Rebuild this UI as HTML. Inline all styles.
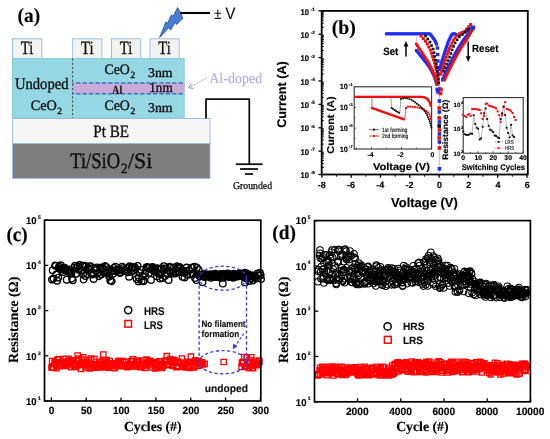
<!DOCTYPE html><html><head><meta charset="utf-8"><style>
html,body{margin:0;padding:0;background:#fff;width:550px;height:439px;overflow:hidden}
svg{display:block;will-change:transform}
.r{font-family:'Liberation Serif',serif}.rb{font-family:'Liberation Serif',serif;font-weight:bold}.s{font-family:'Liberation Sans',sans-serif}.sb{font-family:'Liberation Sans',sans-serif;font-weight:bold}
</style></head><body>
<svg width="550" height="439" viewBox="0 0 550 439" text-rendering="geometricPrecision">
<rect width="550" height="439" fill="#fff"/>
<text class="rb" transform="translate(17.60,22.20) scale(0.970,1)" font-size="20" fill="#000" stroke="#000" stroke-width="0.15" >(a)</text>
<rect x="12.5" y="38.8" width="29.2" height="20" fill="#f3f3f3" stroke="#9dbfe6" stroke-width="1"/>
<text class="r" transform="translate(20.86,53.80) scale(0.780,1)" font-size="18.7" fill="#1a1208" stroke="#1a1208" stroke-width="0.35" >Ti</text>
<rect x="72.7" y="38.8" width="29.2" height="20" fill="#f3f3f3" stroke="#9dbfe6" stroke-width="1"/>
<text class="r" transform="translate(81.06,53.80) scale(0.780,1)" font-size="18.7" fill="#1a1208" stroke="#1a1208" stroke-width="0.35" >Ti</text>
<rect x="111.5" y="38.8" width="29.2" height="20" fill="#f3f3f3" stroke="#9dbfe6" stroke-width="1"/>
<text class="r" transform="translate(119.86,53.80) scale(0.780,1)" font-size="18.7" fill="#1a1208" stroke="#1a1208" stroke-width="0.35" >Ti</text>
<rect x="150.0" y="38.8" width="29.2" height="20" fill="#f3f3f3" stroke="#9dbfe6" stroke-width="1"/>
<text class="r" transform="translate(158.36,53.80) scale(0.780,1)" font-size="18.7" fill="#1a1208" stroke="#1a1208" stroke-width="0.35" >Ti</text>
<rect x="12" y="58.2" width="172.5" height="60.2" fill="#95d7e2"/>
<rect x="12.3" y="58.5" width="171.9" height="59.6" fill="none" stroke="#7ec6d6" stroke-width="0.6"/>
<rect x="72.5" y="83.2" width="112" height="10.2" fill="#c8aadb"/>
<line x1="72.5" y1="82.9" x2="184.5" y2="82.9" stroke="#3f74c4" stroke-width="1.5" stroke-dasharray="4.4,2" stroke-dashoffset="2.8"/>
<line x1="72.5" y1="93.8" x2="184.5" y2="93.8" stroke="#3f74c4" stroke-width="1.5" stroke-dasharray="4.4,2" stroke-dashoffset="2.8"/>
<line x1="72.6" y1="58.5" x2="72.6" y2="118" stroke="#2a3a40" stroke-width="0.9" stroke-dasharray="2.2,2"/>
<text class="r" transform="translate(14.90,88.80) scale(0.914,1)" font-size="16" fill="#101010" stroke="#101010" stroke-width="0.35" >Undoped</text>
<text class="r" transform="translate(30.70,109.70) scale(0.998,1)" font-size="14.3" fill="#101010" stroke="#101010" stroke-width="0.35" >CeO</text>
<text class="r" transform="translate(57.30,113.80) scale(1.000,1)" font-size="9.5" fill="#101010" stroke="#101010" stroke-width="0.35" >2</text>
<text class="r" transform="translate(104.40,73.60) scale(0.968,1)" font-size="14.3" fill="#101010" stroke="#101010" stroke-width="0.35" >CeO</text>
<text class="r" transform="translate(130.60,77.90) scale(1.000,1)" font-size="9.5" fill="#101010" stroke="#101010" stroke-width="0.35" >2</text>
<text class="r" transform="translate(104.40,109.60) scale(0.968,1)" font-size="14.3" fill="#101010" stroke="#101010" stroke-width="0.35" >CeO</text>
<text class="r" transform="translate(130.60,114.00) scale(1.000,1)" font-size="9.5" fill="#101010" stroke="#101010" stroke-width="0.35" >2</text>
<text class="r" transform="translate(148.00,77.00) scale(1.043,1)" font-size="13.3" fill="#101010" stroke="#101010" stroke-width="0.35" >3nm</text>
<text class="r" transform="translate(149.30,91.80) scale(0.939,1)" font-size="14.0" fill="#101010" stroke="#101010" stroke-width="0.35" >1nm</text>
<text class="r" transform="translate(148.00,112.30) scale(1.043,1)" font-size="13.3" fill="#101010" stroke="#101010" stroke-width="0.35" >3nm</text>
<text class="rb" transform="translate(112.00,93.60) scale(0.837,1)" font-size="12.3" fill="#1a1410" stroke="#1a1410" stroke-width="0.15" >Al</text>
<rect x="12.5" y="118.5" width="197.5" height="25" fill="#f6f6f6" stroke="#9dbfe6" stroke-width="1"/>
<text class="r" transform="translate(93.30,136.50) scale(0.872,1)" font-size="17.4" fill="#101010" stroke="#101010" stroke-width="0.35" >Pt BE</text>
<rect x="12.5" y="143.5" width="197.5" height="35" fill="#7e7e7e" stroke="#9dbfe6" stroke-width="1"/>
<text class="r" transform="translate(70.20,168.30) scale(0.839,1)" font-size="22.2" fill="#0d0d0d" stroke="#0d0d0d" stroke-width="0.35" >Ti/SiO</text>
<text class="r" transform="translate(121.10,172.60) scale(0.943,1)" font-size="14" fill="#0d0d0d" stroke="#0d0d0d" stroke-width="0.35" >2</text>
<text class="r" transform="translate(128.00,168.30) scale(0.982,1)" font-size="22.2" fill="#0d0d0d" stroke="#0d0d0d" stroke-width="0.35" >/Si</text>
<polyline points="206,118.5 206,99.2 249.3,99.2 249.3,164" fill="none" stroke="#111" stroke-width="1.8" stroke-linejoin="round"/>
<line x1="235.8" y1="164.2" x2="262.6" y2="164.2" stroke="#111" stroke-width="1.8"/>
<line x1="240.1" y1="169" x2="258" y2="169" stroke="#111" stroke-width="1.8"/>
<line x1="244.9" y1="174" x2="253" y2="174" stroke="#111" stroke-width="1.8"/>
<text class="r" transform="translate(233.00,189.10) scale(0.949,1)" font-size="10.3" fill="#222" stroke="#222" stroke-width="0.35" >Grounded</text>
<polygon points="159.64,37.40 165.96,21.97 167.65,23.24 171.44,14.80 173.13,16.49 177.60,7.64 180.30,12.27 182.82,18.60 176.50,24.50 175.24,21.97 170.60,29.98 168.91,27.45" fill="#4580d4" stroke="#1f4f96" stroke-width="0.9" stroke-linejoin="miter"/>
<line x1="180" y1="13" x2="210" y2="13" stroke="#000" stroke-width="2.1"/>
<text class="s" transform="translate(214.20,19.30) scale(0.833,1)" font-size="15.5" fill="#111" stroke="#111" stroke-width="0.2" >±</text>
<text class="s" transform="translate(225.40,19.30) scale(0.910,1)" font-size="16.2" fill="#111" stroke="#111" stroke-width="0.2" >V</text>
<text class="r" transform="translate(209.20,83.00) scale(0.963,1)" font-size="14.6" fill="#b6a8dc" stroke="#b6a8dc" stroke-width="0.1" >Al-doped</text>
<line x1="206.3" y1="78.1" x2="189.5" y2="87.5" stroke="#8a8a8a" stroke-width="0.9" stroke-dasharray="1.8,1.4"/>
<polyline points="191.3,83.6 188.6,87.9 193.6,88.3" fill="none" stroke="#8a8a8a" stroke-width="0.9"/>
<line x1="318.50" y1="10.90" x2="321.70" y2="10.90" stroke="#000" stroke-width="1.3" />
<line x1="321.70" y1="27.23" x2="323.90" y2="27.23" stroke="#000" stroke-width="0.9" />
<line x1="321.70" y1="23.12" x2="323.90" y2="23.12" stroke="#000" stroke-width="0.9" />
<line x1="321.70" y1="20.20" x2="323.90" y2="20.20" stroke="#000" stroke-width="0.9" />
<line x1="321.70" y1="17.94" x2="323.90" y2="17.94" stroke="#000" stroke-width="0.9" />
<line x1="321.70" y1="16.08" x2="323.90" y2="16.08" stroke="#000" stroke-width="0.9" />
<line x1="321.70" y1="14.52" x2="323.90" y2="14.52" stroke="#000" stroke-width="0.9" />
<line x1="321.70" y1="13.16" x2="323.90" y2="13.16" stroke="#000" stroke-width="0.9" />
<line x1="321.70" y1="11.97" x2="323.90" y2="11.97" stroke="#000" stroke-width="0.9" />
<line x1="318.50" y1="34.27" x2="321.70" y2="34.27" stroke="#000" stroke-width="1.3" />
<line x1="321.70" y1="50.60" x2="323.90" y2="50.60" stroke="#000" stroke-width="0.9" />
<line x1="321.70" y1="46.49" x2="323.90" y2="46.49" stroke="#000" stroke-width="0.9" />
<line x1="321.70" y1="43.57" x2="323.90" y2="43.57" stroke="#000" stroke-width="0.9" />
<line x1="321.70" y1="41.31" x2="323.90" y2="41.31" stroke="#000" stroke-width="0.9" />
<line x1="321.70" y1="39.45" x2="323.90" y2="39.45" stroke="#000" stroke-width="0.9" />
<line x1="321.70" y1="37.89" x2="323.90" y2="37.89" stroke="#000" stroke-width="0.9" />
<line x1="321.70" y1="36.53" x2="323.90" y2="36.53" stroke="#000" stroke-width="0.9" />
<line x1="321.70" y1="35.34" x2="323.90" y2="35.34" stroke="#000" stroke-width="0.9" />
<line x1="318.50" y1="57.64" x2="321.70" y2="57.64" stroke="#000" stroke-width="1.3" />
<line x1="321.70" y1="73.97" x2="323.90" y2="73.97" stroke="#000" stroke-width="0.9" />
<line x1="321.70" y1="69.86" x2="323.90" y2="69.86" stroke="#000" stroke-width="0.9" />
<line x1="321.70" y1="66.94" x2="323.90" y2="66.94" stroke="#000" stroke-width="0.9" />
<line x1="321.70" y1="64.68" x2="323.90" y2="64.68" stroke="#000" stroke-width="0.9" />
<line x1="321.70" y1="62.82" x2="323.90" y2="62.82" stroke="#000" stroke-width="0.9" />
<line x1="321.70" y1="61.26" x2="323.90" y2="61.26" stroke="#000" stroke-width="0.9" />
<line x1="321.70" y1="59.90" x2="323.90" y2="59.90" stroke="#000" stroke-width="0.9" />
<line x1="321.70" y1="58.71" x2="323.90" y2="58.71" stroke="#000" stroke-width="0.9" />
<line x1="318.50" y1="81.01" x2="321.70" y2="81.01" stroke="#000" stroke-width="1.3" />
<line x1="321.70" y1="97.34" x2="323.90" y2="97.34" stroke="#000" stroke-width="0.9" />
<line x1="321.70" y1="93.23" x2="323.90" y2="93.23" stroke="#000" stroke-width="0.9" />
<line x1="321.70" y1="90.31" x2="323.90" y2="90.31" stroke="#000" stroke-width="0.9" />
<line x1="321.70" y1="88.05" x2="323.90" y2="88.05" stroke="#000" stroke-width="0.9" />
<line x1="321.70" y1="86.19" x2="323.90" y2="86.19" stroke="#000" stroke-width="0.9" />
<line x1="321.70" y1="84.63" x2="323.90" y2="84.63" stroke="#000" stroke-width="0.9" />
<line x1="321.70" y1="83.27" x2="323.90" y2="83.27" stroke="#000" stroke-width="0.9" />
<line x1="321.70" y1="82.08" x2="323.90" y2="82.08" stroke="#000" stroke-width="0.9" />
<line x1="318.50" y1="104.38" x2="321.70" y2="104.38" stroke="#000" stroke-width="1.3" />
<line x1="321.70" y1="120.71" x2="323.90" y2="120.71" stroke="#000" stroke-width="0.9" />
<line x1="321.70" y1="116.60" x2="323.90" y2="116.60" stroke="#000" stroke-width="0.9" />
<line x1="321.70" y1="113.68" x2="323.90" y2="113.68" stroke="#000" stroke-width="0.9" />
<line x1="321.70" y1="111.42" x2="323.90" y2="111.42" stroke="#000" stroke-width="0.9" />
<line x1="321.70" y1="109.56" x2="323.90" y2="109.56" stroke="#000" stroke-width="0.9" />
<line x1="321.70" y1="108.00" x2="323.90" y2="108.00" stroke="#000" stroke-width="0.9" />
<line x1="321.70" y1="106.64" x2="323.90" y2="106.64" stroke="#000" stroke-width="0.9" />
<line x1="321.70" y1="105.45" x2="323.90" y2="105.45" stroke="#000" stroke-width="0.9" />
<line x1="318.50" y1="127.75" x2="321.70" y2="127.75" stroke="#000" stroke-width="1.3" />
<line x1="321.70" y1="144.08" x2="323.90" y2="144.08" stroke="#000" stroke-width="0.9" />
<line x1="321.70" y1="139.97" x2="323.90" y2="139.97" stroke="#000" stroke-width="0.9" />
<line x1="321.70" y1="137.05" x2="323.90" y2="137.05" stroke="#000" stroke-width="0.9" />
<line x1="321.70" y1="134.79" x2="323.90" y2="134.79" stroke="#000" stroke-width="0.9" />
<line x1="321.70" y1="132.93" x2="323.90" y2="132.93" stroke="#000" stroke-width="0.9" />
<line x1="321.70" y1="131.37" x2="323.90" y2="131.37" stroke="#000" stroke-width="0.9" />
<line x1="321.70" y1="130.01" x2="323.90" y2="130.01" stroke="#000" stroke-width="0.9" />
<line x1="321.70" y1="128.82" x2="323.90" y2="128.82" stroke="#000" stroke-width="0.9" />
<line x1="318.50" y1="151.12" x2="321.70" y2="151.12" stroke="#000" stroke-width="1.3" />
<line x1="321.70" y1="167.45" x2="323.90" y2="167.45" stroke="#000" stroke-width="0.9" />
<line x1="321.70" y1="163.34" x2="323.90" y2="163.34" stroke="#000" stroke-width="0.9" />
<line x1="321.70" y1="160.42" x2="323.90" y2="160.42" stroke="#000" stroke-width="0.9" />
<line x1="321.70" y1="158.16" x2="323.90" y2="158.16" stroke="#000" stroke-width="0.9" />
<line x1="321.70" y1="156.30" x2="323.90" y2="156.30" stroke="#000" stroke-width="0.9" />
<line x1="321.70" y1="154.74" x2="323.90" y2="154.74" stroke="#000" stroke-width="0.9" />
<line x1="321.70" y1="153.38" x2="323.90" y2="153.38" stroke="#000" stroke-width="0.9" />
<line x1="321.70" y1="152.19" x2="323.90" y2="152.19" stroke="#000" stroke-width="0.9" />
<line x1="318.50" y1="174.49" x2="321.70" y2="174.49" stroke="#000" stroke-width="1.3" />
<line x1="321.90" y1="174.50" x2="321.90" y2="177.70" stroke="#000" stroke-width="1.3" />
<line x1="336.55" y1="174.50" x2="336.55" y2="176.70" stroke="#000" stroke-width="1.0" />
<line x1="351.20" y1="174.50" x2="351.20" y2="177.70" stroke="#000" stroke-width="1.3" />
<line x1="365.85" y1="174.50" x2="365.85" y2="176.70" stroke="#000" stroke-width="1.0" />
<line x1="380.50" y1="174.50" x2="380.50" y2="177.70" stroke="#000" stroke-width="1.3" />
<line x1="395.15" y1="174.50" x2="395.15" y2="176.70" stroke="#000" stroke-width="1.0" />
<line x1="409.80" y1="174.50" x2="409.80" y2="177.70" stroke="#000" stroke-width="1.3" />
<line x1="424.45" y1="174.50" x2="424.45" y2="176.70" stroke="#000" stroke-width="1.0" />
<line x1="439.10" y1="174.50" x2="439.10" y2="177.70" stroke="#000" stroke-width="1.3" />
<line x1="453.75" y1="174.50" x2="453.75" y2="176.70" stroke="#000" stroke-width="1.0" />
<line x1="468.40" y1="174.50" x2="468.40" y2="177.70" stroke="#000" stroke-width="1.3" />
<line x1="483.05" y1="174.50" x2="483.05" y2="176.70" stroke="#000" stroke-width="1.0" />
<line x1="497.70" y1="174.50" x2="497.70" y2="177.70" stroke="#000" stroke-width="1.3" />
<line x1="512.35" y1="174.50" x2="512.35" y2="176.70" stroke="#000" stroke-width="1.0" />
<line x1="527.00" y1="174.50" x2="527.00" y2="177.70" stroke="#000" stroke-width="1.3" />
<rect x="321.70" y="10.90" width="206.10" height="163.60" fill="none" stroke="#000" stroke-width="1.8"/>
<text class="sb" transform="translate(300.54,14.63) scale(0.940,1)" font-size="8.2" fill="#000" stroke="#000" stroke-width="0.15" >10</text>
<text class="sb" transform="translate(310.70,10.76) scale(1.000,1)" font-size="4.6" fill="#000" stroke="#000" stroke-width="0.15" >-1</text>
<text class="sb" transform="translate(300.54,38.00) scale(0.940,1)" font-size="8.2" fill="#000" stroke="#000" stroke-width="0.15" >10</text>
<text class="sb" transform="translate(310.70,34.18) scale(1.000,1)" font-size="4.6" fill="#000" stroke="#000" stroke-width="0.15" >-2</text>
<text class="sb" transform="translate(300.54,61.37) scale(0.940,1)" font-size="8.2" fill="#000" stroke="#000" stroke-width="0.15" >10</text>
<text class="sb" transform="translate(310.70,57.55) scale(1.000,1)" font-size="4.6" fill="#000" stroke="#000" stroke-width="0.15" >-3</text>
<text class="sb" transform="translate(300.54,84.74) scale(0.940,1)" font-size="8.2" fill="#000" stroke="#000" stroke-width="0.15" >10</text>
<text class="sb" transform="translate(310.70,80.87) scale(1.000,1)" font-size="4.6" fill="#000" stroke="#000" stroke-width="0.15" >-4</text>
<text class="sb" transform="translate(300.54,108.11) scale(0.940,1)" font-size="8.2" fill="#000" stroke="#000" stroke-width="0.15" >10</text>
<text class="sb" transform="translate(310.70,104.24) scale(1.000,1)" font-size="4.6" fill="#000" stroke="#000" stroke-width="0.15" >-5</text>
<text class="sb" transform="translate(300.54,131.48) scale(0.940,1)" font-size="8.2" fill="#000" stroke="#000" stroke-width="0.15" >10</text>
<text class="sb" transform="translate(310.70,127.66) scale(1.000,1)" font-size="4.6" fill="#000" stroke="#000" stroke-width="0.15" >-6</text>
<text class="sb" transform="translate(300.54,154.85) scale(0.940,1)" font-size="8.2" fill="#000" stroke="#000" stroke-width="0.15" >10</text>
<text class="sb" transform="translate(310.70,150.98) scale(1.000,1)" font-size="4.6" fill="#000" stroke="#000" stroke-width="0.15" >-7</text>
<text class="sb" transform="translate(300.54,178.22) scale(0.940,1)" font-size="8.2" fill="#000" stroke="#000" stroke-width="0.15" >10</text>
<text class="sb" transform="translate(310.70,174.40) scale(1.000,1)" font-size="4.6" fill="#000" stroke="#000" stroke-width="0.15" >-8</text>
<text class="sb" transform="translate(317.70,187.80) scale(1.000,1)" font-size="9.0" fill="#000" stroke="#000" stroke-width="0.15" >-8</text>
<text class="sb" transform="translate(347.00,187.80) scale(1.000,1)" font-size="9.0" fill="#000" stroke="#000" stroke-width="0.15" >-6</text>
<text class="sb" transform="translate(376.30,187.80) scale(1.000,1)" font-size="9.0" fill="#000" stroke="#000" stroke-width="0.15" >-4</text>
<text class="sb" transform="translate(405.60,187.80) scale(1.000,1)" font-size="9.0" fill="#000" stroke="#000" stroke-width="0.15" >-2</text>
<text class="sb" transform="translate(436.90,187.80) scale(1.000,1)" font-size="9.0" fill="#000" stroke="#000" stroke-width="0.15" >0</text>
<text class="sb" transform="translate(466.20,187.80) scale(1.000,1)" font-size="9.0" fill="#000" stroke="#000" stroke-width="0.15" >2</text>
<text class="sb" transform="translate(495.50,187.80) scale(1.000,1)" font-size="9.0" fill="#000" stroke="#000" stroke-width="0.15" >4</text>
<text class="sb" transform="translate(524.80,187.80) scale(1.000,1)" font-size="9.0" fill="#000" stroke="#000" stroke-width="0.15" >6</text>
<text class="sb" transform="translate(391.10,207.10) scale(0.995,1)" font-size="13" fill="#000" stroke="#000" stroke-width="0.15" >Voltage (V)</text>
<text class="sb" transform="translate(286.20,127.80) rotate(-90) scale(1.001,1)" font-size="12.6" fill="#000" stroke="#000" stroke-width="0.15" >Current (A)</text>
<text class="rb" transform="translate(331.70,34.40) scale(0.988,1)" font-size="20" fill="#000" stroke="#000" stroke-width="0.15" >(b)</text>
<text class="sb" transform="translate(383.20,54.80) scale(0.925,1)" font-size="10.5" fill="#000" stroke="#000" stroke-width="0.15" >Set</text>
<line x1="406.00" y1="44.00" x2="406.00" y2="56.50" stroke="#000" stroke-width="1.5" />
<polygon points="406,41 403.6,46.5 408.4,46.5" fill="#000"/>
<text class="sb" transform="translate(472.00,52.30) scale(0.923,1)" font-size="10.5" fill="#000" stroke="#000" stroke-width="0.15" >Reset</text>
<line x1="468.20" y1="41.50" x2="468.20" y2="58.00" stroke="#000" stroke-width="1.5" />
<polygon points="468.2,62 465.8,56.3 470.6,56.3" fill="#000"/>
<line x1="439.40" y1="76.00" x2="439.40" y2="174.00" stroke="#b9c4f0" stroke-width="1.2" />
<line x1="416.40" y1="37.00" x2="416.40" y2="44.00" stroke="#f0a0d0" stroke-width="0.8" />
<g><rect x="384.90" y="32.30" width="3.0" height="3.0" fill="#1f2ef0"/><rect x="386.50" y="32.30" width="3.0" height="3.0" fill="#1f2ef0"/><rect x="388.10" y="32.30" width="3.0" height="3.0" fill="#1f2ef0"/><rect x="389.70" y="32.30" width="3.0" height="3.0" fill="#1f2ef0"/><rect x="391.30" y="32.30" width="3.0" height="3.0" fill="#1f2ef0"/><rect x="392.90" y="32.30" width="3.0" height="3.0" fill="#1f2ef0"/><rect x="394.50" y="32.30" width="3.0" height="3.0" fill="#1f2ef0"/><rect x="396.10" y="32.30" width="3.0" height="3.0" fill="#1f2ef0"/><rect x="397.70" y="32.30" width="3.0" height="3.0" fill="#1f2ef0"/><rect x="399.30" y="32.30" width="3.0" height="3.0" fill="#1f2ef0"/><rect x="400.90" y="32.30" width="3.0" height="3.0" fill="#1f2ef0"/><rect x="402.50" y="32.30" width="3.0" height="3.0" fill="#1f2ef0"/><rect x="404.10" y="32.30" width="3.0" height="3.0" fill="#1f2ef0"/><rect x="405.70" y="32.30" width="3.0" height="3.0" fill="#1f2ef0"/><rect x="407.30" y="32.30" width="3.0" height="3.0" fill="#1f2ef0"/><rect x="408.90" y="32.30" width="3.0" height="3.0" fill="#1f2ef0"/><rect x="410.50" y="32.30" width="3.0" height="3.0" fill="#1f2ef0"/><rect x="412.10" y="32.30" width="3.0" height="3.0" fill="#1f2ef0"/><rect x="413.70" y="32.30" width="3.0" height="3.0" fill="#1f2ef0"/><rect x="415.30" y="32.30" width="3.0" height="3.0" fill="#1f2ef0"/><rect x="416.90" y="32.30" width="3.0" height="3.0" fill="#1f2ef0"/><rect x="418.50" y="32.30" width="3.0" height="3.0" fill="#1f2ef0"/><rect x="420.10" y="32.30" width="3.0" height="3.0" fill="#1f2ef0"/><rect x="421.70" y="32.30" width="3.0" height="3.0" fill="#1f2ef0"/><rect x="423.30" y="32.30" width="3.0" height="3.0" fill="#1f2ef0"/><rect x="424.90" y="32.30" width="3.0" height="3.0" fill="#1f2ef0"/><rect x="426.50" y="32.30" width="3.0" height="3.0" fill="#1f2ef0"/><rect x="428.10" y="32.30" width="3.0" height="3.0" fill="#1f2ef0"/><rect x="429.22" y="33.26" width="3.0" height="3.0" fill="#1f2ef0"/><rect x="430.17" y="34.55" width="3.0" height="3.0" fill="#1f2ef0"/><rect x="431.12" y="35.83" width="3.0" height="3.0" fill="#1f2ef0"/><rect x="432.08" y="37.12" width="3.0" height="3.0" fill="#1f2ef0"/><rect x="433.03" y="38.40" width="3.0" height="3.0" fill="#1f2ef0"/><rect x="433.73" y="39.84" width="3.0" height="3.0" fill="#1f2ef0"/><rect x="434.42" y="41.28" width="3.0" height="3.0" fill="#1f2ef0"/><rect x="435.10" y="42.73" width="3.0" height="3.0" fill="#1f2ef0"/><rect x="435.70" y="46.30" width="3.4" height="3.4" fill="#1f2ef0"/><rect x="435.99" y="52.79" width="3.4" height="3.4" fill="#1f2ef0"/><rect x="436.28" y="59.29" width="3.4" height="3.4" fill="#1f2ef0"/><rect x="436.57" y="65.78" width="3.4" height="3.4" fill="#1f2ef0"/><rect x="436.85" y="72.27" width="3.4" height="3.4" fill="#1f2ef0"/><rect x="414.90" y="49.00" width="3.0" height="3.0" fill="#1f2ef0"/><rect x="415.91" y="50.24" width="3.0" height="3.0" fill="#1f2ef0"/><rect x="416.93" y="51.47" width="3.0" height="3.0" fill="#1f2ef0"/><rect x="417.94" y="52.71" width="3.0" height="3.0" fill="#1f2ef0"/><rect x="418.96" y="53.95" width="3.0" height="3.0" fill="#1f2ef0"/><rect x="419.97" y="55.19" width="3.0" height="3.0" fill="#1f2ef0"/><rect x="420.99" y="56.42" width="3.0" height="3.0" fill="#1f2ef0"/><rect x="422.00" y="57.66" width="3.0" height="3.0" fill="#1f2ef0"/><rect x="423.02" y="58.90" width="3.0" height="3.0" fill="#1f2ef0"/><rect x="423.98" y="60.17" width="3.0" height="3.0" fill="#1f2ef0"/><rect x="424.95" y="61.45" width="3.0" height="3.0" fill="#1f2ef0"/><rect x="425.91" y="62.72" width="3.0" height="3.0" fill="#1f2ef0"/><rect x="426.84" y="64.03" width="3.0" height="3.0" fill="#1f2ef0"/><rect x="427.72" y="65.37" width="3.0" height="3.0" fill="#1f2ef0"/><rect x="428.59" y="66.71" width="3.0" height="3.0" fill="#1f2ef0"/><rect x="429.47" y="68.05" width="3.0" height="3.0" fill="#1f2ef0"/><rect x="430.18" y="69.48" width="3.0" height="3.0" fill="#1f2ef0"/><rect x="430.89" y="70.91" width="3.0" height="3.0" fill="#1f2ef0"/><rect x="431.59" y="72.35" width="3.0" height="3.0" fill="#1f2ef0"/><rect x="432.30" y="73.78" width="3.0" height="3.0" fill="#1f2ef0"/><rect x="433.01" y="75.22" width="3.0" height="3.0" fill="#1f2ef0"/><rect x="433.50" y="76.74" width="3.0" height="3.0" fill="#1f2ef0"/><rect x="433.95" y="78.27" width="3.0" height="3.0" fill="#1f2ef0"/><rect x="434.41" y="79.81" width="3.0" height="3.0" fill="#1f2ef0"/><rect x="434.86" y="81.34" width="3.0" height="3.0" fill="#1f2ef0"/><rect x="435.31" y="82.88" width="3.0" height="3.0" fill="#1f2ef0"/><rect x="415.00" y="42.60" width="2.8" height="2.8" fill="#f01010"/><rect x="416.03" y="44.31" width="2.8" height="2.8" fill="#f01010"/><rect x="417.06" y="46.03" width="2.8" height="2.8" fill="#f01010"/><rect x="418.22" y="47.66" width="2.8" height="2.8" fill="#f01010"/><rect x="419.38" y="49.29" width="2.8" height="2.8" fill="#f01010"/><rect x="420.49" y="50.95" width="2.8" height="2.8" fill="#f01010"/><rect x="421.58" y="52.63" width="2.8" height="2.8" fill="#f01010"/><rect x="422.68" y="54.30" width="2.8" height="2.8" fill="#f01010"/><rect x="423.77" y="55.98" width="2.8" height="2.8" fill="#f01010"/><rect x="424.86" y="57.65" width="2.8" height="2.8" fill="#f01010"/><rect x="425.95" y="59.33" width="2.8" height="2.8" fill="#f01010"/><rect x="427.04" y="61.01" width="2.8" height="2.8" fill="#f01010"/><rect x="427.94" y="62.79" width="2.8" height="2.8" fill="#f01010"/><rect x="428.84" y="64.58" width="2.8" height="2.8" fill="#f01010"/><rect x="429.73" y="66.37" width="2.8" height="2.8" fill="#f01010"/><rect x="430.62" y="68.16" width="2.8" height="2.8" fill="#f01010"/><rect x="431.43" y="69.99" width="2.8" height="2.8" fill="#f01010"/><rect x="432.23" y="71.82" width="2.8" height="2.8" fill="#f01010"/><rect x="433.03" y="73.65" width="2.8" height="2.8" fill="#f01010"/><rect x="433.83" y="75.49" width="2.8" height="2.8" fill="#f01010"/><rect x="434.40" y="77.39" width="2.8" height="2.8" fill="#f01010"/><rect x="434.86" y="79.34" width="2.8" height="2.8" fill="#f01010"/><rect x="435.32" y="81.29" width="2.8" height="2.8" fill="#f01010"/><rect x="435.78" y="83.23" width="2.8" height="2.8" fill="#f01010"/><rect x="419.50" y="34.50" width="3.0" height="3.0" fill="#f01010"/><rect x="421.71" y="37.08" width="3.0" height="3.0" fill="#f01010"/><rect x="423.93" y="39.66" width="3.0" height="3.0" fill="#f01010"/><rect x="425.76" y="42.50" width="3.0" height="3.0" fill="#f01010"/><rect x="427.29" y="45.53" width="3.0" height="3.0" fill="#f01010"/><rect x="428.83" y="48.57" width="3.0" height="3.0" fill="#f01010"/><rect x="430.05" y="51.72" width="3.0" height="3.0" fill="#f01010"/><rect x="431.04" y="54.98" width="3.0" height="3.0" fill="#f01010"/><rect x="432.02" y="58.23" width="3.0" height="3.0" fill="#f01010"/><rect x="433.01" y="61.49" width="3.0" height="3.0" fill="#f01010"/><rect x="433.81" y="64.79" width="3.0" height="3.0" fill="#f01010"/><rect x="434.59" y="68.10" width="3.0" height="3.0" fill="#f01010"/><rect x="435.38" y="71.41" width="3.0" height="3.0" fill="#f01010"/><rect x="436.03" y="74.74" width="3.0" height="3.0" fill="#f01010"/><rect x="436.40" y="78.12" width="3.0" height="3.0" fill="#f01010"/><rect x="436.78" y="81.50" width="3.0" height="3.0" fill="#f01010"/><rect x="424.20" y="34.70" width="2.6" height="2.6" fill="#111"/><rect x="426.48" y="37.74" width="2.6" height="2.6" fill="#111"/><rect x="428.74" y="40.79" width="2.6" height="2.6" fill="#111"/><rect x="430.26" y="44.27" width="2.6" height="2.6" fill="#111"/><rect x="431.79" y="47.75" width="2.6" height="2.6" fill="#111"/><rect x="432.74" y="51.41" width="2.6" height="2.6" fill="#111"/><rect x="433.49" y="55.14" width="2.6" height="2.6" fill="#111"/><rect x="434.23" y="58.87" width="2.6" height="2.6" fill="#111"/><rect x="434.98" y="62.59" width="2.6" height="2.6" fill="#111"/><rect x="435.60" y="66.34" width="2.6" height="2.6" fill="#111"/><rect x="436.16" y="70.10" width="2.6" height="2.6" fill="#111"/><rect x="436.72" y="73.86" width="2.6" height="2.6" fill="#111"/><rect x="437.09" y="77.64" width="2.6" height="2.6" fill="#111"/><rect x="437.47" y="81.42" width="2.6" height="2.6" fill="#111"/><rect x="437.90" y="68.20" width="3.0" height="3.0" fill="#1f2ef0"/><rect x="438.37" y="66.67" width="3.0" height="3.0" fill="#1f2ef0"/><rect x="438.84" y="65.14" width="3.0" height="3.0" fill="#1f2ef0"/><rect x="439.31" y="63.61" width="3.0" height="3.0" fill="#1f2ef0"/><rect x="439.77" y="62.08" width="3.0" height="3.0" fill="#1f2ef0"/><rect x="440.24" y="60.55" width="3.0" height="3.0" fill="#1f2ef0"/><rect x="440.71" y="59.02" width="3.0" height="3.0" fill="#1f2ef0"/><rect x="441.18" y="57.49" width="3.0" height="3.0" fill="#1f2ef0"/><rect x="441.65" y="55.96" width="3.0" height="3.0" fill="#1f2ef0"/><rect x="442.12" y="54.43" width="3.0" height="3.0" fill="#1f2ef0"/><rect x="442.60" y="52.90" width="3.0" height="3.0" fill="#1f2ef0"/><rect x="443.09" y="51.38" width="3.0" height="3.0" fill="#1f2ef0"/><rect x="443.59" y="49.86" width="3.0" height="3.0" fill="#1f2ef0"/><rect x="444.09" y="48.34" width="3.0" height="3.0" fill="#1f2ef0"/><rect x="444.59" y="46.82" width="3.0" height="3.0" fill="#1f2ef0"/><rect x="445.09" y="45.30" width="3.0" height="3.0" fill="#1f2ef0"/><rect x="445.59" y="43.78" width="3.0" height="3.0" fill="#1f2ef0"/><rect x="446.09" y="42.26" width="3.0" height="3.0" fill="#1f2ef0"/><rect x="446.59" y="40.74" width="3.0" height="3.0" fill="#1f2ef0"/><rect x="447.21" y="39.27" width="3.0" height="3.0" fill="#1f2ef0"/><rect x="447.93" y="37.84" width="3.0" height="3.0" fill="#1f2ef0"/><rect x="448.64" y="36.41" width="3.0" height="3.0" fill="#1f2ef0"/><rect x="449.36" y="34.98" width="3.0" height="3.0" fill="#1f2ef0"/><rect x="450.07" y="33.55" width="3.0" height="3.0" fill="#1f2ef0"/><rect x="451.12" y="32.50" width="3.0" height="3.0" fill="#1f2ef0"/><rect x="452.64" y="32.02" width="3.0" height="3.0" fill="#1f2ef0"/><rect x="454.02" y="32.79" width="3.0" height="3.0" fill="#1f2ef0"/><rect x="455.40" y="33.61" width="3.0" height="3.0" fill="#1f2ef0"/><rect x="456.78" y="33.99" width="3.0" height="3.0" fill="#1f2ef0"/><rect x="458.18" y="33.22" width="3.0" height="3.0" fill="#1f2ef0"/><rect x="459.58" y="32.44" width="3.0" height="3.0" fill="#1f2ef0"/><rect x="460.98" y="31.67" width="3.0" height="3.0" fill="#1f2ef0"/><rect x="462.38" y="30.90" width="3.0" height="3.0" fill="#1f2ef0"/><rect x="463.76" y="30.08" width="3.0" height="3.0" fill="#1f2ef0"/><rect x="465.12" y="29.23" width="3.0" height="3.0" fill="#1f2ef0"/><rect x="466.47" y="28.38" width="3.0" height="3.0" fill="#1f2ef0"/><rect x="467.83" y="27.53" width="3.0" height="3.0" fill="#1f2ef0"/><rect x="469.20" y="26.72" width="3.0" height="3.0" fill="#1f2ef0"/><rect x="470.68" y="26.12" width="3.0" height="3.0" fill="#1f2ef0"/><rect x="472.17" y="25.52" width="3.0" height="3.0" fill="#1f2ef0"/><rect x="439.40" y="72.70" width="3.0" height="3.0" fill="#f01010"/><rect x="440.27" y="69.83" width="3.0" height="3.0" fill="#f01010"/><rect x="441.15" y="66.96" width="3.0" height="3.0" fill="#f01010"/><rect x="442.02" y="64.09" width="3.0" height="3.0" fill="#f01010"/><rect x="442.89" y="61.22" width="3.0" height="3.0" fill="#f01010"/><rect x="443.76" y="58.35" width="3.0" height="3.0" fill="#f01010"/><rect x="444.78" y="55.53" width="3.0" height="3.0" fill="#f01010"/><rect x="445.82" y="52.71" width="3.0" height="3.0" fill="#f01010"/><rect x="446.86" y="49.90" width="3.0" height="3.0" fill="#f01010"/><rect x="447.90" y="47.08" width="3.0" height="3.0" fill="#f01010"/><rect x="449.12" y="44.35" width="3.0" height="3.0" fill="#f01010"/><rect x="450.47" y="41.67" width="3.0" height="3.0" fill="#f01010"/><rect x="451.81" y="38.98" width="3.0" height="3.0" fill="#f01010"/><rect x="453.41" y="36.49" width="3.0" height="3.0" fill="#f01010"/><rect x="455.53" y="34.37" width="3.0" height="3.0" fill="#f01010"/><rect x="457.78" y="32.42" width="3.0" height="3.0" fill="#f01010"/><rect x="460.47" y="31.09" width="3.0" height="3.0" fill="#f01010"/><rect x="463.14" y="29.75" width="3.0" height="3.0" fill="#f01010"/><rect x="465.14" y="27.51" width="3.0" height="3.0" fill="#f01010"/><rect x="467.14" y="25.27" width="3.0" height="3.0" fill="#f01010"/><rect x="469.13" y="23.03" width="3.0" height="3.0" fill="#f01010"/><rect x="442.60" y="69.90" width="2.6" height="2.6" fill="#111"/><rect x="444.01" y="66.37" width="2.6" height="2.6" fill="#111"/><rect x="445.41" y="62.84" width="2.6" height="2.6" fill="#111"/><rect x="446.82" y="59.31" width="2.6" height="2.6" fill="#111"/><rect x="448.23" y="55.78" width="2.6" height="2.6" fill="#111"/><rect x="449.57" y="52.23" width="2.6" height="2.6" fill="#111"/><rect x="450.90" y="48.67" width="2.6" height="2.6" fill="#111"/><rect x="452.23" y="45.10" width="2.6" height="2.6" fill="#111"/><rect x="453.87" y="41.70" width="2.6" height="2.6" fill="#111"/><rect x="455.85" y="38.45" width="2.6" height="2.6" fill="#111"/><rect x="458.05" y="35.41" width="2.6" height="2.6" fill="#111"/><rect x="461.10" y="33.14" width="2.6" height="2.6" fill="#111"/><rect x="464.04" y="30.75" width="2.6" height="2.6" fill="#111"/><rect x="466.70" y="28.04" width="2.6" height="2.6" fill="#111"/><rect x="441.00" y="78.50" width="3.0" height="3.0" fill="#1f2ef0"/><rect x="441.63" y="77.03" width="3.0" height="3.0" fill="#1f2ef0"/><rect x="442.26" y="75.56" width="3.0" height="3.0" fill="#1f2ef0"/><rect x="442.90" y="74.09" width="3.0" height="3.0" fill="#1f2ef0"/><rect x="443.53" y="72.62" width="3.0" height="3.0" fill="#1f2ef0"/><rect x="444.16" y="71.15" width="3.0" height="3.0" fill="#1f2ef0"/><rect x="444.79" y="69.68" width="3.0" height="3.0" fill="#1f2ef0"/><rect x="445.44" y="68.22" width="3.0" height="3.0" fill="#1f2ef0"/><rect x="446.16" y="66.79" width="3.0" height="3.0" fill="#1f2ef0"/><rect x="446.87" y="65.36" width="3.0" height="3.0" fill="#1f2ef0"/><rect x="447.59" y="63.93" width="3.0" height="3.0" fill="#1f2ef0"/><rect x="448.30" y="62.49" width="3.0" height="3.0" fill="#1f2ef0"/><rect x="449.02" y="61.06" width="3.0" height="3.0" fill="#1f2ef0"/><rect x="449.73" y="59.63" width="3.0" height="3.0" fill="#1f2ef0"/><rect x="450.45" y="58.20" width="3.0" height="3.0" fill="#1f2ef0"/><rect x="451.17" y="56.77" width="3.0" height="3.0" fill="#1f2ef0"/><rect x="451.94" y="55.37" width="3.0" height="3.0" fill="#1f2ef0"/><rect x="452.72" y="53.97" width="3.0" height="3.0" fill="#1f2ef0"/><rect x="453.50" y="52.58" width="3.0" height="3.0" fill="#1f2ef0"/><rect x="454.29" y="51.18" width="3.0" height="3.0" fill="#1f2ef0"/><rect x="455.07" y="49.79" width="3.0" height="3.0" fill="#1f2ef0"/><rect x="455.85" y="48.39" width="3.0" height="3.0" fill="#1f2ef0"/><rect x="456.64" y="47.00" width="3.0" height="3.0" fill="#1f2ef0"/><rect x="457.45" y="45.62" width="3.0" height="3.0" fill="#1f2ef0"/><rect x="458.33" y="44.28" width="3.0" height="3.0" fill="#1f2ef0"/><rect x="459.20" y="42.94" width="3.0" height="3.0" fill="#1f2ef0"/><rect x="460.08" y="41.61" width="3.0" height="3.0" fill="#1f2ef0"/><rect x="460.96" y="40.27" width="3.0" height="3.0" fill="#1f2ef0"/><rect x="461.84" y="38.93" width="3.0" height="3.0" fill="#1f2ef0"/><rect x="462.71" y="37.59" width="3.0" height="3.0" fill="#1f2ef0"/><rect x="463.67" y="36.31" width="3.0" height="3.0" fill="#1f2ef0"/><rect x="464.68" y="35.07" width="3.0" height="3.0" fill="#1f2ef0"/><rect x="465.69" y="33.83" width="3.0" height="3.0" fill="#1f2ef0"/><rect x="466.71" y="32.60" width="3.0" height="3.0" fill="#1f2ef0"/><rect x="467.72" y="31.36" width="3.0" height="3.0" fill="#1f2ef0"/><rect x="468.74" y="30.12" width="3.0" height="3.0" fill="#1f2ef0"/><rect x="469.84" y="28.96" width="3.0" height="3.0" fill="#1f2ef0"/><rect x="470.97" y="27.83" width="3.0" height="3.0" fill="#1f2ef0"/><rect x="472.10" y="26.70" width="3.0" height="3.0" fill="#1f2ef0"/><rect x="443.10" y="78.60" width="2.8" height="2.8" fill="#f01010"/><rect x="443.93" y="76.78" width="2.8" height="2.8" fill="#f01010"/><rect x="444.76" y="74.96" width="2.8" height="2.8" fill="#f01010"/><rect x="445.60" y="73.14" width="2.8" height="2.8" fill="#f01010"/><rect x="446.43" y="71.33" width="2.8" height="2.8" fill="#f01010"/><rect x="447.26" y="69.51" width="2.8" height="2.8" fill="#f01010"/><rect x="448.16" y="67.72" width="2.8" height="2.8" fill="#f01010"/><rect x="449.08" y="65.95" width="2.8" height="2.8" fill="#f01010"/><rect x="450.00" y="64.17" width="2.8" height="2.8" fill="#f01010"/><rect x="450.92" y="62.39" width="2.8" height="2.8" fill="#f01010"/><rect x="451.84" y="60.62" width="2.8" height="2.8" fill="#f01010"/><rect x="452.76" y="58.84" width="2.8" height="2.8" fill="#f01010"/><rect x="453.70" y="57.07" width="2.8" height="2.8" fill="#f01010"/><rect x="454.68" y="55.33" width="2.8" height="2.8" fill="#f01010"/><rect x="455.66" y="53.59" width="2.8" height="2.8" fill="#f01010"/><rect x="456.63" y="51.84" width="2.8" height="2.8" fill="#f01010"/><rect x="457.61" y="50.10" width="2.8" height="2.8" fill="#f01010"/><rect x="458.59" y="48.36" width="2.8" height="2.8" fill="#f01010"/><rect x="459.61" y="46.63" width="2.8" height="2.8" fill="#f01010"/><rect x="460.70" y="44.96" width="2.8" height="2.8" fill="#f01010"/><rect x="461.80" y="43.29" width="2.8" height="2.8" fill="#f01010"/><rect x="462.90" y="41.61" width="2.8" height="2.8" fill="#f01010"/><rect x="463.99" y="39.94" width="2.8" height="2.8" fill="#f01010"/><rect x="465.09" y="38.27" width="2.8" height="2.8" fill="#f01010"/><rect x="466.11" y="36.55" width="2.8" height="2.8" fill="#f01010"/><rect x="467.13" y="34.83" width="2.8" height="2.8" fill="#f01010"/><rect x="468.15" y="33.11" width="2.8" height="2.8" fill="#f01010"/><rect x="469.16" y="31.38" width="2.8" height="2.8" fill="#f01010"/><rect x="470.18" y="29.66" width="2.8" height="2.8" fill="#f01010"/><rect x="435.40" y="87.70" width="3.6" height="3.6" fill="#1f2ef0"/><rect x="437.80" y="87.20" width="3.6" height="3.6" fill="#1f2ef0"/><rect x="439.20" y="87.70" width="3.6" height="3.6" fill="#f01010"/><rect x="436.20" y="90.20" width="3.6" height="3.6" fill="#1f2ef0"/><rect x="438.70" y="91.70" width="3.6" height="3.6" fill="#f01010"/><rect x="437.60" y="99.20" width="3.6" height="3.6" fill="#1f2ef0"/><rect x="437.40" y="106.20" width="3.6" height="3.6" fill="#f01010"/><rect x="437.60" y="110.20" width="3.6" height="3.6" fill="#1f2ef0"/><rect x="437.40" y="116.20" width="3.6" height="3.6" fill="#f01010"/><rect x="437.60" y="120.20" width="3.6" height="3.6" fill="#1f2ef0"/><rect x="437.40" y="124.20" width="3.6" height="3.6" fill="#111"/><rect x="437.60" y="128.20" width="3.6" height="3.6" fill="#f01010"/><rect x="437.60" y="132.20" width="3.6" height="3.6" fill="#1f2ef0"/><rect x="437.40" y="136.20" width="3.6" height="3.6" fill="#f01010"/><rect x="437.60" y="140.20" width="3.6" height="3.6" fill="#1f2ef0"/><rect x="437.60" y="146.20" width="3.6" height="3.6" fill="#f01010"/><rect x="437.60" y="167.00" width="3.6" height="3.6" fill="#1f2ef0"/></g>
<rect x="354.2" y="86.8" width="77.4" height="62.2" fill="#fff"/>
<line x1="356.50" y1="149.00" x2="356.50" y2="147.70" stroke="#444" stroke-width="0.8" />
<line x1="371.50" y1="149.00" x2="371.50" y2="147.00" stroke="#444" stroke-width="0.8" />
<line x1="386.50" y1="149.00" x2="386.50" y2="147.70" stroke="#444" stroke-width="0.8" />
<line x1="401.50" y1="149.00" x2="401.50" y2="147.00" stroke="#444" stroke-width="0.8" />
<line x1="416.50" y1="149.00" x2="416.50" y2="147.70" stroke="#444" stroke-width="0.8" />
<line x1="431.50" y1="149.00" x2="431.50" y2="147.00" stroke="#444" stroke-width="0.8" />
<line x1="354.20" y1="149.00" x2="356.20" y2="149.00" stroke="#444" stroke-width="0.8" />
<line x1="354.20" y1="138.60" x2="355.50" y2="138.60" stroke="#444" stroke-width="0.8" />
<line x1="354.20" y1="128.20" x2="356.20" y2="128.20" stroke="#444" stroke-width="0.8" />
<line x1="354.20" y1="117.80" x2="355.50" y2="117.80" stroke="#444" stroke-width="0.8" />
<line x1="354.20" y1="107.40" x2="356.20" y2="107.40" stroke="#444" stroke-width="0.8" />
<line x1="354.20" y1="97.00" x2="355.50" y2="97.00" stroke="#444" stroke-width="0.8" />
<line x1="354.20" y1="86.60" x2="356.20" y2="86.60" stroke="#444" stroke-width="0.8" />
<rect x="354.20" y="86.80" width="77.40" height="62.20" fill="none" stroke="#333" stroke-width="1.1"/>
<line x1="371.90" y1="97.00" x2="371.90" y2="107.80" stroke="#f01010" stroke-width="0.7" />
<line x1="404.70" y1="119.60" x2="406.00" y2="108.00" stroke="#f01010" stroke-width="0.7" />
<line x1="391.00" y1="98.00" x2="391.60" y2="108.00" stroke="#777" stroke-width="0.7" />
<line x1="399.80" y1="113.00" x2="400.80" y2="99.00" stroke="#777" stroke-width="0.7" />
<g><rect x="353.90" y="95.80" width="2.2" height="2.2" fill="#f01010"/><rect x="355.20" y="95.80" width="2.2" height="2.2" fill="#f01010"/><rect x="356.50" y="95.80" width="2.2" height="2.2" fill="#f01010"/><rect x="357.80" y="95.80" width="2.2" height="2.2" fill="#f01010"/><rect x="359.10" y="95.80" width="2.2" height="2.2" fill="#f01010"/><rect x="360.40" y="95.80" width="2.2" height="2.2" fill="#f01010"/><rect x="361.70" y="95.80" width="2.2" height="2.2" fill="#f01010"/><rect x="363.00" y="95.80" width="2.2" height="2.2" fill="#f01010"/><rect x="364.30" y="95.80" width="2.2" height="2.2" fill="#f01010"/><rect x="365.60" y="95.80" width="2.2" height="2.2" fill="#f01010"/><rect x="366.90" y="95.80" width="2.2" height="2.2" fill="#f01010"/><rect x="368.20" y="95.80" width="2.2" height="2.2" fill="#f01010"/><rect x="369.50" y="95.80" width="2.2" height="2.2" fill="#f01010"/><rect x="370.80" y="95.80" width="2.2" height="2.2" fill="#f01010"/><rect x="372.10" y="95.80" width="2.2" height="2.2" fill="#f01010"/><rect x="373.40" y="95.80" width="2.2" height="2.2" fill="#f01010"/><rect x="374.70" y="95.80" width="2.2" height="2.2" fill="#f01010"/><rect x="376.00" y="95.80" width="2.2" height="2.2" fill="#f01010"/><rect x="377.30" y="95.80" width="2.2" height="2.2" fill="#f01010"/><rect x="378.60" y="95.80" width="2.2" height="2.2" fill="#f01010"/><rect x="379.90" y="95.80" width="2.2" height="2.2" fill="#f01010"/><rect x="381.20" y="95.80" width="2.2" height="2.2" fill="#f01010"/><rect x="382.50" y="95.80" width="2.2" height="2.2" fill="#f01010"/><rect x="383.80" y="95.80" width="2.2" height="2.2" fill="#f01010"/><rect x="385.10" y="95.80" width="2.2" height="2.2" fill="#f01010"/><rect x="386.40" y="95.80" width="2.2" height="2.2" fill="#f01010"/><rect x="387.70" y="95.80" width="2.2" height="2.2" fill="#f01010"/><rect x="389.00" y="95.80" width="2.2" height="2.2" fill="#f01010"/><rect x="390.30" y="95.80" width="2.2" height="2.2" fill="#f01010"/><rect x="391.60" y="95.80" width="2.2" height="2.2" fill="#f01010"/><rect x="392.90" y="95.80" width="2.2" height="2.2" fill="#f01010"/><rect x="394.20" y="95.80" width="2.2" height="2.2" fill="#f01010"/><rect x="395.50" y="95.80" width="2.2" height="2.2" fill="#f01010"/><rect x="396.80" y="95.80" width="2.2" height="2.2" fill="#f01010"/><rect x="398.10" y="95.80" width="2.2" height="2.2" fill="#f01010"/><rect x="399.40" y="95.80" width="2.2" height="2.2" fill="#f01010"/><rect x="400.70" y="95.80" width="2.2" height="2.2" fill="#f01010"/><rect x="402.00" y="95.80" width="2.2" height="2.2" fill="#f01010"/><rect x="403.30" y="95.80" width="2.2" height="2.2" fill="#f01010"/><rect x="404.60" y="95.80" width="2.2" height="2.2" fill="#f01010"/><rect x="405.90" y="95.80" width="2.2" height="2.2" fill="#f01010"/><rect x="407.20" y="95.80" width="2.2" height="2.2" fill="#f01010"/><rect x="408.50" y="95.80" width="2.2" height="2.2" fill="#f01010"/><rect x="409.80" y="95.80" width="2.2" height="2.2" fill="#f01010"/><rect x="411.10" y="95.80" width="2.2" height="2.2" fill="#f01010"/><rect x="412.40" y="95.80" width="2.2" height="2.2" fill="#f01010"/><rect x="413.70" y="95.80" width="2.2" height="2.2" fill="#f01010"/><rect x="415.00" y="95.80" width="2.2" height="2.2" fill="#f01010"/><rect x="416.30" y="95.80" width="2.2" height="2.2" fill="#f01010"/><rect x="417.60" y="95.80" width="2.2" height="2.2" fill="#f01010"/><rect x="418.90" y="95.80" width="2.2" height="2.2" fill="#f01010"/><rect x="420.20" y="95.80" width="2.2" height="2.2" fill="#f01010"/><rect x="421.49" y="95.92" width="2.2" height="2.2" fill="#f01010"/><rect x="422.76" y="96.17" width="2.2" height="2.2" fill="#f01010"/><rect x="424.04" y="96.43" width="2.2" height="2.2" fill="#f01010"/><rect x="425.14" y="97.06" width="2.2" height="2.2" fill="#f01010"/><rect x="426.18" y="97.85" width="2.2" height="2.2" fill="#f01010"/><rect x="427.09" y="98.74" width="2.2" height="2.2" fill="#f01010"/><rect x="427.74" y="99.87" width="2.2" height="2.2" fill="#f01010"/><rect x="428.38" y="101.00" width="2.2" height="2.2" fill="#f01010"/><rect x="428.97" y="102.15" width="2.2" height="2.2" fill="#f01010"/><rect x="429.33" y="103.40" width="2.2" height="2.2" fill="#f01010"/><rect x="429.69" y="104.65" width="2.2" height="2.2" fill="#f01010"/><rect x="370.90" y="106.90" width="2.2" height="2.2" fill="#f01010"/><rect x="372.13" y="107.33" width="2.2" height="2.2" fill="#f01010"/><rect x="373.35" y="107.77" width="2.2" height="2.2" fill="#f01010"/><rect x="374.58" y="108.20" width="2.2" height="2.2" fill="#f01010"/><rect x="375.80" y="108.64" width="2.2" height="2.2" fill="#f01010"/><rect x="377.03" y="109.07" width="2.2" height="2.2" fill="#f01010"/><rect x="378.25" y="109.51" width="2.2" height="2.2" fill="#f01010"/><rect x="379.48" y="109.94" width="2.2" height="2.2" fill="#f01010"/><rect x="380.70" y="110.38" width="2.2" height="2.2" fill="#f01010"/><rect x="381.93" y="110.81" width="2.2" height="2.2" fill="#f01010"/><rect x="383.15" y="111.25" width="2.2" height="2.2" fill="#f01010"/><rect x="384.38" y="111.68" width="2.2" height="2.2" fill="#f01010"/><rect x="385.60" y="112.12" width="2.2" height="2.2" fill="#f01010"/><rect x="386.83" y="112.55" width="2.2" height="2.2" fill="#f01010"/><rect x="388.05" y="112.98" width="2.2" height="2.2" fill="#f01010"/><rect x="389.28" y="113.42" width="2.2" height="2.2" fill="#f01010"/><rect x="390.50" y="113.85" width="2.2" height="2.2" fill="#f01010"/><rect x="391.73" y="114.29" width="2.2" height="2.2" fill="#f01010"/><rect x="392.95" y="114.72" width="2.2" height="2.2" fill="#f01010"/><rect x="394.18" y="115.16" width="2.2" height="2.2" fill="#f01010"/><rect x="395.40" y="115.59" width="2.2" height="2.2" fill="#f01010"/><rect x="396.63" y="116.03" width="2.2" height="2.2" fill="#f01010"/><rect x="397.85" y="116.46" width="2.2" height="2.2" fill="#f01010"/><rect x="399.08" y="116.90" width="2.2" height="2.2" fill="#f01010"/><rect x="400.30" y="117.33" width="2.2" height="2.2" fill="#f01010"/><rect x="401.53" y="117.77" width="2.2" height="2.2" fill="#f01010"/><rect x="402.76" y="118.20" width="2.2" height="2.2" fill="#f01010"/><rect x="405.00" y="107.00" width="2.0" height="2.0" fill="#f01010"/><rect x="406.92" y="105.56" width="2.0" height="2.0" fill="#f01010"/><rect x="409.29" y="105.67" width="2.0" height="2.0" fill="#f01010"/><rect x="411.68" y="105.88" width="2.0" height="2.0" fill="#f01010"/><rect x="414.07" y="106.16" width="2.0" height="2.0" fill="#f01010"/><rect x="416.45" y="106.44" width="2.0" height="2.0" fill="#f01010"/><rect x="418.77" y="107.03" width="2.0" height="2.0" fill="#f01010"/><rect x="421.07" y="107.72" width="2.0" height="2.0" fill="#f01010"/><rect x="423.21" y="108.76" width="2.0" height="2.0" fill="#f01010"/><rect x="425.25" y="110.03" width="2.0" height="2.0" fill="#f01010"/><rect x="426.98" y="111.65" width="2.0" height="2.0" fill="#f01010"/><rect x="428.55" y="113.47" width="2.0" height="2.0" fill="#f01010"/><rect x="429.36" y="115.66" width="2.0" height="2.0" fill="#f01010"/><rect x="429.87" y="118.01" width="2.0" height="2.0" fill="#f01010"/><rect x="390.70" y="107.10" width="1.8" height="1.8" fill="#111"/><rect x="392.19" y="108.11" width="1.8" height="1.8" fill="#111"/><rect x="393.67" y="109.13" width="1.8" height="1.8" fill="#111"/><rect x="395.16" y="110.14" width="1.8" height="1.8" fill="#111"/><rect x="396.73" y="111.03" width="1.8" height="1.8" fill="#111"/><rect x="398.29" y="111.92" width="1.8" height="1.8" fill="#111"/><rect x="400.10" y="98.10" width="1.8" height="1.8" fill="#111"/><rect x="402.19" y="97.40" width="1.8" height="1.8" fill="#111"/><rect x="404.33" y="97.25" width="1.8" height="1.8" fill="#111"/><rect x="406.51" y="97.53" width="1.8" height="1.8" fill="#111"/><rect x="408.60" y="98.16" width="1.8" height="1.8" fill="#111"/><rect x="410.66" y="98.94" width="1.8" height="1.8" fill="#111"/><rect x="412.49" y="100.14" width="1.8" height="1.8" fill="#111"/><rect x="414.25" y="101.46" width="1.8" height="1.8" fill="#111"/><rect x="416.01" y="102.78" width="1.8" height="1.8" fill="#111"/><rect x="417.77" y="104.10" width="1.8" height="1.8" fill="#111"/><rect x="419.48" y="105.48" width="1.8" height="1.8" fill="#111"/><rect x="421.03" y="107.03" width="1.8" height="1.8" fill="#111"/><rect x="422.59" y="108.59" width="1.8" height="1.8" fill="#111"/><rect x="423.86" y="110.37" width="1.8" height="1.8" fill="#111"/><rect x="424.99" y="112.25" width="1.8" height="1.8" fill="#111"/><rect x="426.12" y="114.14" width="1.8" height="1.8" fill="#111"/><rect x="426.99" y="116.17" width="1.8" height="1.8" fill="#111"/><rect x="427.85" y="118.19" width="1.8" height="1.8" fill="#111"/><rect x="428.72" y="120.21" width="1.8" height="1.8" fill="#111"/><rect x="429.40" y="122.29" width="1.8" height="1.8" fill="#111"/><rect x="429.93" y="124.43" width="1.8" height="1.8" fill="#111"/><rect x="430.47" y="126.56" width="1.8" height="1.8" fill="#111"/></g>
<line x1="369.00" y1="129.60" x2="379.00" y2="129.60" stroke="#555" stroke-width="0.8" />
<rect x="373.00" y="128.60" width="2.0" height="2.0" fill="#111"/>
<text class="s" transform="translate(381.90,131.80) scale(0.832,1)" font-size="6.2" fill="#222" stroke="#222" stroke-width="0.2" >1st forming</text>
<line x1="369.00" y1="136.00" x2="379.00" y2="136.00" stroke="#f01010" stroke-width="0.8" />
<rect x="373.00" y="135.00" width="2.0" height="2.0" fill="#f01010"/>
<text class="s" transform="translate(381.90,138.20) scale(0.810,1)" font-size="6.2" fill="#222" stroke="#222" stroke-width="0.2" >2nd forming</text>
<text class="sb" transform="translate(339.69,89.26) scale(0.960,1)" font-size="7.7" fill="#000" stroke="#000" stroke-width="0.15" >10</text>
<text class="sb" transform="translate(348.70,85.63) scale(1.000,1)" font-size="4.3" fill="#000" stroke="#000" stroke-width="0.15" >-1</text>
<text class="sb" transform="translate(339.69,110.06) scale(0.960,1)" font-size="7.7" fill="#000" stroke="#000" stroke-width="0.15" >10</text>
<text class="sb" transform="translate(348.70,106.48) scale(1.000,1)" font-size="4.3" fill="#000" stroke="#000" stroke-width="0.15" >-3</text>
<text class="sb" transform="translate(339.69,130.86) scale(0.960,1)" font-size="7.7" fill="#000" stroke="#000" stroke-width="0.15" >10</text>
<text class="sb" transform="translate(348.70,127.23) scale(1.000,1)" font-size="4.3" fill="#000" stroke="#000" stroke-width="0.15" >-5</text>
<text class="sb" transform="translate(339.69,151.66) scale(0.960,1)" font-size="7.7" fill="#000" stroke="#000" stroke-width="0.15" >10</text>
<text class="sb" transform="translate(348.70,148.03) scale(1.000,1)" font-size="4.3" fill="#000" stroke="#000" stroke-width="0.15" >-7</text>
<text class="sb" transform="translate(367.43,156.60) scale(1.000,1)" font-size="6.9" fill="#000" stroke="#000" stroke-width="0.15" >-4</text>
<text class="sb" transform="translate(397.43,156.60) scale(1.000,1)" font-size="6.9" fill="#000" stroke="#000" stroke-width="0.15" >-2</text>
<text class="sb" transform="translate(430.49,156.60) scale(1.000,1)" font-size="6.9" fill="#000" stroke="#000" stroke-width="0.15" >0</text>
<text class="sb" transform="translate(372.90,170.20) scale(1.120,1)" font-size="9.9" fill="#000" stroke="#000" stroke-width="0.15" >Voltage (V)</text>
<text class="sb" transform="translate(333.80,153.70) rotate(-90) scale(1.085,1)" font-size="10" fill="#000" stroke="#000" stroke-width="0.15" >Current (A)</text>
<rect x="463.2" y="97.6" width="60.0" height="55.6" fill="#fff"/>
<line x1="463.20" y1="153.20" x2="463.20" y2="151.20" stroke="#444" stroke-width="0.8" />
<line x1="470.69" y1="153.20" x2="470.69" y2="151.90" stroke="#444" stroke-width="0.8" />
<line x1="478.18" y1="153.20" x2="478.18" y2="151.20" stroke="#444" stroke-width="0.8" />
<line x1="485.66" y1="153.20" x2="485.66" y2="151.90" stroke="#444" stroke-width="0.8" />
<line x1="493.15" y1="153.20" x2="493.15" y2="151.20" stroke="#444" stroke-width="0.8" />
<line x1="500.64" y1="153.20" x2="500.64" y2="151.90" stroke="#444" stroke-width="0.8" />
<line x1="508.12" y1="153.20" x2="508.12" y2="151.20" stroke="#444" stroke-width="0.8" />
<line x1="515.61" y1="153.20" x2="515.61" y2="151.90" stroke="#444" stroke-width="0.8" />
<line x1="523.10" y1="153.20" x2="523.10" y2="151.20" stroke="#444" stroke-width="0.8" />
<rect x="463.20" y="97.60" width="60.00" height="55.60" fill="none" stroke="#333" stroke-width="1.1"/>
<polyline points="463.20,131.60 464.70,134.10 466.19,134.90 467.69,134.90 469.19,134.50 470.69,133.50 472.19,133.80 473.68,115.20 475.18,123.90 476.68,127.70 478.18,128.70 479.67,139.40 481.17,138.40 482.67,126.80 484.16,113.20 485.66,108.40 487.16,119.00 488.66,125.80 490.15,129.70 491.65,130.50 493.15,132.00 494.65,135.50 496.14,136.00 497.64,137.40 499.14,138.00 500.64,119.00 502.13,113.20 503.63,106.50 505.13,115.00 506.63,127.70 508.12,133.00 509.62,137.40 511.12,124.80 512.62,135.50 514.12,137.00" fill="none" stroke="#aaa" stroke-width="0.8"/>
<polyline points="463.20,114.80 464.70,116.10 466.19,117.10 467.69,114.80 469.19,114.00 470.69,116.00 472.19,108.80 473.68,109.00 475.18,109.00 476.68,109.30 478.18,109.50 479.67,110.00 481.17,113.20 482.67,119.00 484.16,116.00 485.66,103.90 487.16,103.50 488.66,105.50 490.15,106.00 491.65,106.50 493.15,107.00 494.65,107.50 496.14,108.40 497.64,111.30 499.14,115.20 500.64,121.90 502.13,115.20 503.63,107.00 505.13,102.00 506.63,109.00 508.12,109.40 509.62,110.00 511.12,111.30 512.62,113.00 514.12,117.00 515.61,120.00" fill="none" stroke="#f4a0a0" stroke-width="0.6"/>
<rect x="462.20" y="113.80" width="2.0" height="2.0" fill="#f01010"/><rect x="463.70" y="115.10" width="2.0" height="2.0" fill="#f01010"/><rect x="465.19" y="116.10" width="2.0" height="2.0" fill="#f01010"/><rect x="466.69" y="113.80" width="2.0" height="2.0" fill="#f01010"/><rect x="468.19" y="113.00" width="2.0" height="2.0" fill="#f01010"/><rect x="469.69" y="115.00" width="2.0" height="2.0" fill="#f01010"/><rect x="471.19" y="107.80" width="2.0" height="2.0" fill="#f01010"/><rect x="472.68" y="108.00" width="2.0" height="2.0" fill="#f01010"/><rect x="474.18" y="108.00" width="2.0" height="2.0" fill="#f01010"/><rect x="475.68" y="108.30" width="2.0" height="2.0" fill="#f01010"/><rect x="477.18" y="108.50" width="2.0" height="2.0" fill="#f01010"/><rect x="478.67" y="109.00" width="2.0" height="2.0" fill="#f01010"/><rect x="480.17" y="112.20" width="2.0" height="2.0" fill="#f01010"/><rect x="481.67" y="118.00" width="2.0" height="2.0" fill="#f01010"/><rect x="483.16" y="115.00" width="2.0" height="2.0" fill="#f01010"/><rect x="484.66" y="102.90" width="2.0" height="2.0" fill="#f01010"/><rect x="486.16" y="102.50" width="2.0" height="2.0" fill="#f01010"/><rect x="487.66" y="104.50" width="2.0" height="2.0" fill="#f01010"/><rect x="489.15" y="105.00" width="2.0" height="2.0" fill="#f01010"/><rect x="490.65" y="105.50" width="2.0" height="2.0" fill="#f01010"/><rect x="492.15" y="106.00" width="2.0" height="2.0" fill="#f01010"/><rect x="493.65" y="106.50" width="2.0" height="2.0" fill="#f01010"/><rect x="495.14" y="107.40" width="2.0" height="2.0" fill="#f01010"/><rect x="496.64" y="110.30" width="2.0" height="2.0" fill="#f01010"/><rect x="498.14" y="114.20" width="2.0" height="2.0" fill="#f01010"/><rect x="499.64" y="120.90" width="2.0" height="2.0" fill="#f01010"/><rect x="501.13" y="114.20" width="2.0" height="2.0" fill="#f01010"/><rect x="502.63" y="106.00" width="2.0" height="2.0" fill="#f01010"/><rect x="504.13" y="101.00" width="2.0" height="2.0" fill="#f01010"/><rect x="505.63" y="108.00" width="2.0" height="2.0" fill="#f01010"/><rect x="507.12" y="108.40" width="2.0" height="2.0" fill="#f01010"/><rect x="508.62" y="109.00" width="2.0" height="2.0" fill="#f01010"/><rect x="510.12" y="110.30" width="2.0" height="2.0" fill="#f01010"/><rect x="511.62" y="112.00" width="2.0" height="2.0" fill="#f01010"/><rect x="513.12" y="116.00" width="2.0" height="2.0" fill="#f01010"/><rect x="514.61" y="119.00" width="2.0" height="2.0" fill="#f01010"/>
<rect x="462.25" y="130.65" width="1.9" height="1.9" fill="#111"/><rect x="463.75" y="133.15" width="1.9" height="1.9" fill="#111"/><rect x="465.25" y="133.95" width="1.9" height="1.9" fill="#111"/><rect x="466.74" y="133.95" width="1.9" height="1.9" fill="#111"/><rect x="468.24" y="133.55" width="1.9" height="1.9" fill="#111"/><rect x="469.74" y="132.55" width="1.9" height="1.9" fill="#111"/><rect x="471.24" y="132.85" width="1.9" height="1.9" fill="#111"/><rect x="472.73" y="114.25" width="1.9" height="1.9" fill="#111"/><rect x="474.23" y="122.95" width="1.9" height="1.9" fill="#111"/><rect x="475.73" y="126.75" width="1.9" height="1.9" fill="#111"/><rect x="477.23" y="127.75" width="1.9" height="1.9" fill="#111"/><rect x="478.72" y="138.45" width="1.9" height="1.9" fill="#111"/><rect x="480.22" y="137.45" width="1.9" height="1.9" fill="#111"/><rect x="481.72" y="125.85" width="1.9" height="1.9" fill="#111"/><rect x="483.21" y="112.25" width="1.9" height="1.9" fill="#111"/><rect x="484.71" y="107.45" width="1.9" height="1.9" fill="#111"/><rect x="486.21" y="118.05" width="1.9" height="1.9" fill="#111"/><rect x="487.71" y="124.85" width="1.9" height="1.9" fill="#111"/><rect x="489.20" y="128.75" width="1.9" height="1.9" fill="#111"/><rect x="490.70" y="129.55" width="1.9" height="1.9" fill="#111"/><rect x="492.20" y="131.05" width="1.9" height="1.9" fill="#111"/><rect x="493.70" y="134.55" width="1.9" height="1.9" fill="#111"/><rect x="495.19" y="135.05" width="1.9" height="1.9" fill="#111"/><rect x="496.69" y="136.45" width="1.9" height="1.9" fill="#111"/><rect x="498.19" y="137.05" width="1.9" height="1.9" fill="#111"/><rect x="499.69" y="118.05" width="1.9" height="1.9" fill="#111"/><rect x="501.19" y="112.25" width="1.9" height="1.9" fill="#111"/><rect x="502.68" y="105.55" width="1.9" height="1.9" fill="#111"/><rect x="504.18" y="114.05" width="1.9" height="1.9" fill="#111"/><rect x="505.68" y="126.75" width="1.9" height="1.9" fill="#111"/><rect x="507.18" y="132.05" width="1.9" height="1.9" fill="#111"/><rect x="508.67" y="136.45" width="1.9" height="1.9" fill="#111"/><rect x="510.17" y="123.85" width="1.9" height="1.9" fill="#111"/><rect x="511.67" y="134.55" width="1.9" height="1.9" fill="#111"/><rect x="513.16" y="136.05" width="1.9" height="1.9" fill="#111"/>
<line x1="494.20" y1="141.90" x2="502.90" y2="141.90" stroke="#999" stroke-width="0.7" />
<rect x="497.60" y="141.00" width="1.8" height="1.8" fill="#111"/>
<text class="s" transform="translate(504.80,143.70) scale(0.841,1)" font-size="5.5" fill="#333" stroke="#333" stroke-width="0.2" >LRS</text>
<line x1="494.20" y1="148.10" x2="502.90" y2="148.10" stroke="#f88" stroke-width="0.7" />
<rect x="497.60" y="147.20" width="1.8" height="1.8" fill="#f01010"/>
<text class="s" transform="translate(504.80,149.90) scale(0.819,1)" font-size="5.5" fill="#333" stroke="#333" stroke-width="0.2" >HRS</text>
<text class="sb" transform="translate(453.52,106.74) scale(1.000,1)" font-size="6.2" fill="#000" stroke="#000" stroke-width="0.15" >10</text>
<text class="sb" transform="translate(461.00,104.16) scale(1.000,1)" font-size="4.0" fill="#000" stroke="#000" stroke-width="0.15" >4</text>
<text class="sb" transform="translate(453.52,131.34) scale(1.000,1)" font-size="6.2" fill="#000" stroke="#000" stroke-width="0.15" >10</text>
<text class="sb" transform="translate(461.00,128.80) scale(1.000,1)" font-size="4.0" fill="#000" stroke="#000" stroke-width="0.15" >3</text>
<text class="sb" transform="translate(453.52,155.94) scale(1.000,1)" font-size="6.2" fill="#000" stroke="#000" stroke-width="0.15" >10</text>
<text class="sb" transform="translate(461.00,153.40) scale(1.000,1)" font-size="4.0" fill="#000" stroke="#000" stroke-width="0.15" >2</text>
<text class="sb" transform="translate(461.31,160.00) scale(1.000,1)" font-size="6.8" fill="#000" stroke="#000" stroke-width="0.15" >0</text>
<text class="sb" transform="translate(474.40,160.00) scale(1.000,1)" font-size="6.8" fill="#000" stroke="#000" stroke-width="0.15" >10</text>
<text class="sb" transform="translate(489.38,160.00) scale(1.000,1)" font-size="6.8" fill="#000" stroke="#000" stroke-width="0.15" >20</text>
<text class="sb" transform="translate(504.35,160.00) scale(1.000,1)" font-size="6.8" fill="#000" stroke="#000" stroke-width="0.15" >30</text>
<text class="sb" transform="translate(519.33,160.00) scale(1.000,1)" font-size="6.8" fill="#000" stroke="#000" stroke-width="0.15" >40</text>
<text class="sb" transform="translate(461.70,170.30) scale(0.927,1)" font-size="8.3" fill="#000" stroke="#000" stroke-width="0.15" >Switching Cycles</text>
<text class="sb" transform="translate(448.20,159.70) rotate(-90) scale(1.068,1)" font-size="8" fill="#000" stroke="#000" stroke-width="0.15" >Resistance (Ω)</text>
<line x1="44.50" y1="401.00" x2="48.30" y2="401.00" stroke="#000" stroke-width="1.3" />
<line x1="44.50" y1="355.80" x2="48.30" y2="355.80" stroke="#000" stroke-width="1.3" />
<line x1="44.50" y1="310.60" x2="48.30" y2="310.60" stroke="#000" stroke-width="1.3" />
<line x1="44.50" y1="265.40" x2="48.30" y2="265.40" stroke="#000" stroke-width="1.3" />
<line x1="44.50" y1="220.20" x2="48.30" y2="220.20" stroke="#000" stroke-width="1.3" />
<line x1="51.40" y1="401.00" x2="51.40" y2="397.40" stroke="#000" stroke-width="1.3" />
<line x1="86.23" y1="401.00" x2="86.23" y2="397.40" stroke="#000" stroke-width="1.3" />
<line x1="121.07" y1="401.00" x2="121.07" y2="397.40" stroke="#000" stroke-width="1.3" />
<line x1="155.91" y1="401.00" x2="155.91" y2="397.40" stroke="#000" stroke-width="1.3" />
<line x1="190.74" y1="401.00" x2="190.74" y2="397.40" stroke="#000" stroke-width="1.3" />
<line x1="225.57" y1="401.00" x2="225.57" y2="397.40" stroke="#000" stroke-width="1.3" />
<line x1="260.41" y1="401.00" x2="260.41" y2="397.40" stroke="#000" stroke-width="1.3" />
<path d="M48.6 279.6a3.3 3.3 0 1 0 6.6 0a3.3 3.3 0 1 0 -6.6 0M49.4 270.2a3.3 3.3 0 1 0 6.6 0a3.3 3.3 0 1 0 -6.6 0M50.3 278.4a3.3 3.3 0 1 0 6.6 0a3.3 3.3 0 1 0 -6.6 0M51.7 265.6a3.3 3.3 0 1 0 6.6 0a3.3 3.3 0 1 0 -6.6 0M52.4 265.9a3.3 3.3 0 1 0 6.6 0a3.3 3.3 0 1 0 -6.6 0M53.0 274.5a3.3 3.3 0 1 0 6.6 0a3.3 3.3 0 1 0 -6.6 0M53.8 280.7a3.3 3.3 0 1 0 6.6 0a3.3 3.3 0 1 0 -6.6 0M55.0 277.7a3.3 3.3 0 1 0 6.6 0a3.3 3.3 0 1 0 -6.6 0M55.7 266.6a3.3 3.3 0 1 0 6.6 0a3.3 3.3 0 1 0 -6.6 0M56.1 268.5a3.3 3.3 0 1 0 6.6 0a3.3 3.3 0 1 0 -6.6 0M57.4 265.3a3.3 3.3 0 1 0 6.6 0a3.3 3.3 0 1 0 -6.6 0M58.2 269.1a3.3 3.3 0 1 0 6.6 0a3.3 3.3 0 1 0 -6.6 0M59.2 269.4a3.3 3.3 0 1 0 6.6 0a3.3 3.3 0 1 0 -6.6 0M59.9 271.9a3.3 3.3 0 1 0 6.6 0a3.3 3.3 0 1 0 -6.6 0M60.8 270.1a3.3 3.3 0 1 0 6.6 0a3.3 3.3 0 1 0 -6.6 0M61.2 267.7a3.3 3.3 0 1 0 6.6 0a3.3 3.3 0 1 0 -6.6 0M62.0 269.1a3.3 3.3 0 1 0 6.6 0a3.3 3.3 0 1 0 -6.6 0M63.4 279.7a3.3 3.3 0 1 0 6.6 0a3.3 3.3 0 1 0 -6.6 0M63.8 270.7a3.3 3.3 0 1 0 6.6 0a3.3 3.3 0 1 0 -6.6 0M64.9 271.9a3.3 3.3 0 1 0 6.6 0a3.3 3.3 0 1 0 -6.6 0M66.0 269.5a3.3 3.3 0 1 0 6.6 0a3.3 3.3 0 1 0 -6.6 0M66.1 269.7a3.3 3.3 0 1 0 6.6 0a3.3 3.3 0 1 0 -6.6 0M67.7 272.0a3.3 3.3 0 1 0 6.6 0a3.3 3.3 0 1 0 -6.6 0M68.1 273.2a3.3 3.3 0 1 0 6.6 0a3.3 3.3 0 1 0 -6.6 0M68.7 278.5a3.3 3.3 0 1 0 6.6 0a3.3 3.3 0 1 0 -6.6 0M69.5 280.2a3.3 3.3 0 1 0 6.6 0a3.3 3.3 0 1 0 -6.6 0M71.0 267.4a3.3 3.3 0 1 0 6.6 0a3.3 3.3 0 1 0 -6.6 0M71.5 265.7a3.3 3.3 0 1 0 6.6 0a3.3 3.3 0 1 0 -6.6 0M72.6 273.8a3.3 3.3 0 1 0 6.6 0a3.3 3.3 0 1 0 -6.6 0M73.1 267.7a3.3 3.3 0 1 0 6.6 0a3.3 3.3 0 1 0 -6.6 0M73.7 273.8a3.3 3.3 0 1 0 6.6 0a3.3 3.3 0 1 0 -6.6 0M74.6 266.7a3.3 3.3 0 1 0 6.6 0a3.3 3.3 0 1 0 -6.6 0M75.5 269.8a3.3 3.3 0 1 0 6.6 0a3.3 3.3 0 1 0 -6.6 0M76.4 265.0a3.3 3.3 0 1 0 6.6 0a3.3 3.3 0 1 0 -6.6 0M77.5 270.7a3.3 3.3 0 1 0 6.6 0a3.3 3.3 0 1 0 -6.6 0M78.3 270.2a3.3 3.3 0 1 0 6.6 0a3.3 3.3 0 1 0 -6.6 0M79.3 265.6a3.3 3.3 0 1 0 6.6 0a3.3 3.3 0 1 0 -6.6 0M79.8 273.7a3.3 3.3 0 1 0 6.6 0a3.3 3.3 0 1 0 -6.6 0M80.4 279.5a3.3 3.3 0 1 0 6.6 0a3.3 3.3 0 1 0 -6.6 0M81.3 265.7a3.3 3.3 0 1 0 6.6 0a3.3 3.3 0 1 0 -6.6 0M82.1 276.0a3.3 3.3 0 1 0 6.6 0a3.3 3.3 0 1 0 -6.6 0M82.8 266.1a3.3 3.3 0 1 0 6.6 0a3.3 3.3 0 1 0 -6.6 0M83.8 273.8a3.3 3.3 0 1 0 6.6 0a3.3 3.3 0 1 0 -6.6 0M84.8 267.6a3.3 3.3 0 1 0 6.6 0a3.3 3.3 0 1 0 -6.6 0M86.1 266.3a3.3 3.3 0 1 0 6.6 0a3.3 3.3 0 1 0 -6.6 0M86.2 269.7a3.3 3.3 0 1 0 6.6 0a3.3 3.3 0 1 0 -6.6 0M87.2 266.1a3.3 3.3 0 1 0 6.6 0a3.3 3.3 0 1 0 -6.6 0M87.8 273.3a3.3 3.3 0 1 0 6.6 0a3.3 3.3 0 1 0 -6.6 0M88.8 274.5a3.3 3.3 0 1 0 6.6 0a3.3 3.3 0 1 0 -6.6 0M90.3 278.9a3.3 3.3 0 1 0 6.6 0a3.3 3.3 0 1 0 -6.6 0M90.5 273.7a3.3 3.3 0 1 0 6.6 0a3.3 3.3 0 1 0 -6.6 0M91.8 268.8a3.3 3.3 0 1 0 6.6 0a3.3 3.3 0 1 0 -6.6 0M92.3 270.4a3.3 3.3 0 1 0 6.6 0a3.3 3.3 0 1 0 -6.6 0M93.6 267.4a3.3 3.3 0 1 0 6.6 0a3.3 3.3 0 1 0 -6.6 0M94.3 273.6a3.3 3.3 0 1 0 6.6 0a3.3 3.3 0 1 0 -6.6 0M94.9 272.5a3.3 3.3 0 1 0 6.6 0a3.3 3.3 0 1 0 -6.6 0M95.6 276.2a3.3 3.3 0 1 0 6.6 0a3.3 3.3 0 1 0 -6.6 0M97.0 267.8a3.3 3.3 0 1 0 6.6 0a3.3 3.3 0 1 0 -6.6 0M97.8 269.6a3.3 3.3 0 1 0 6.6 0a3.3 3.3 0 1 0 -6.6 0M98.0 274.6a3.3 3.3 0 1 0 6.6 0a3.3 3.3 0 1 0 -6.6 0M98.9 267.5a3.3 3.3 0 1 0 6.6 0a3.3 3.3 0 1 0 -6.6 0M100.2 271.4a3.3 3.3 0 1 0 6.6 0a3.3 3.3 0 1 0 -6.6 0M101.0 270.0a3.3 3.3 0 1 0 6.6 0a3.3 3.3 0 1 0 -6.6 0M101.9 266.1a3.3 3.3 0 1 0 6.6 0a3.3 3.3 0 1 0 -6.6 0M102.4 272.9a3.3 3.3 0 1 0 6.6 0a3.3 3.3 0 1 0 -6.6 0M103.1 267.1a3.3 3.3 0 1 0 6.6 0a3.3 3.3 0 1 0 -6.6 0M104.0 273.1a3.3 3.3 0 1 0 6.6 0a3.3 3.3 0 1 0 -6.6 0M105.1 269.2a3.3 3.3 0 1 0 6.6 0a3.3 3.3 0 1 0 -6.6 0M106.1 276.8a3.3 3.3 0 1 0 6.6 0a3.3 3.3 0 1 0 -6.6 0M107.0 280.5a3.3 3.3 0 1 0 6.6 0a3.3 3.3 0 1 0 -6.6 0M107.5 271.7a3.3 3.3 0 1 0 6.6 0a3.3 3.3 0 1 0 -6.6 0M108.4 281.3a3.3 3.3 0 1 0 6.6 0a3.3 3.3 0 1 0 -6.6 0M109.1 270.5a3.3 3.3 0 1 0 6.6 0a3.3 3.3 0 1 0 -6.6 0M109.7 273.8a3.3 3.3 0 1 0 6.6 0a3.3 3.3 0 1 0 -6.6 0M110.6 267.9a3.3 3.3 0 1 0 6.6 0a3.3 3.3 0 1 0 -6.6 0M111.6 271.1a3.3 3.3 0 1 0 6.6 0a3.3 3.3 0 1 0 -6.6 0M112.4 266.7a3.3 3.3 0 1 0 6.6 0a3.3 3.3 0 1 0 -6.6 0M113.6 269.8a3.3 3.3 0 1 0 6.6 0a3.3 3.3 0 1 0 -6.6 0M114.1 269.5a3.3 3.3 0 1 0 6.6 0a3.3 3.3 0 1 0 -6.6 0M114.6 270.6a3.3 3.3 0 1 0 6.6 0a3.3 3.3 0 1 0 -6.6 0M115.4 269.7a3.3 3.3 0 1 0 6.6 0a3.3 3.3 0 1 0 -6.6 0M116.6 273.1a3.3 3.3 0 1 0 6.6 0a3.3 3.3 0 1 0 -6.6 0M117.4 272.4a3.3 3.3 0 1 0 6.6 0a3.3 3.3 0 1 0 -6.6 0M118.6 270.5a3.3 3.3 0 1 0 6.6 0a3.3 3.3 0 1 0 -6.6 0M119.0 266.6a3.3 3.3 0 1 0 6.6 0a3.3 3.3 0 1 0 -6.6 0M120.0 268.2a3.3 3.3 0 1 0 6.6 0a3.3 3.3 0 1 0 -6.6 0M121.2 270.9a3.3 3.3 0 1 0 6.6 0a3.3 3.3 0 1 0 -6.6 0M121.7 269.8a3.3 3.3 0 1 0 6.6 0a3.3 3.3 0 1 0 -6.6 0M122.5 270.4a3.3 3.3 0 1 0 6.6 0a3.3 3.3 0 1 0 -6.6 0M123.7 270.6a3.3 3.3 0 1 0 6.6 0a3.3 3.3 0 1 0 -6.6 0M124.5 272.2a3.3 3.3 0 1 0 6.6 0a3.3 3.3 0 1 0 -6.6 0M125.4 268.1a3.3 3.3 0 1 0 6.6 0a3.3 3.3 0 1 0 -6.6 0M125.8 276.7a3.3 3.3 0 1 0 6.6 0a3.3 3.3 0 1 0 -6.6 0M126.3 266.3a3.3 3.3 0 1 0 6.6 0a3.3 3.3 0 1 0 -6.6 0M127.8 271.9a3.3 3.3 0 1 0 6.6 0a3.3 3.3 0 1 0 -6.6 0M128.5 267.1a3.3 3.3 0 1 0 6.6 0a3.3 3.3 0 1 0 -6.6 0M129.6 267.0a3.3 3.3 0 1 0 6.6 0a3.3 3.3 0 1 0 -6.6 0M130.0 267.8a3.3 3.3 0 1 0 6.6 0a3.3 3.3 0 1 0 -6.6 0M131.1 270.2a3.3 3.3 0 1 0 6.6 0a3.3 3.3 0 1 0 -6.6 0M131.7 267.2a3.3 3.3 0 1 0 6.6 0a3.3 3.3 0 1 0 -6.6 0M132.4 268.9a3.3 3.3 0 1 0 6.6 0a3.3 3.3 0 1 0 -6.6 0M133.3 279.0a3.3 3.3 0 1 0 6.6 0a3.3 3.3 0 1 0 -6.6 0M134.3 265.9a3.3 3.3 0 1 0 6.6 0a3.3 3.3 0 1 0 -6.6 0M135.3 281.4a3.3 3.3 0 1 0 6.6 0a3.3 3.3 0 1 0 -6.6 0M135.5 277.5a3.3 3.3 0 1 0 6.6 0a3.3 3.3 0 1 0 -6.6 0M136.4 273.0a3.3 3.3 0 1 0 6.6 0a3.3 3.3 0 1 0 -6.6 0M137.8 269.7a3.3 3.3 0 1 0 6.6 0a3.3 3.3 0 1 0 -6.6 0M138.4 281.1a3.3 3.3 0 1 0 6.6 0a3.3 3.3 0 1 0 -6.6 0M139.4 276.3a3.3 3.3 0 1 0 6.6 0a3.3 3.3 0 1 0 -6.6 0M140.2 281.2a3.3 3.3 0 1 0 6.6 0a3.3 3.3 0 1 0 -6.6 0M140.6 280.7a3.3 3.3 0 1 0 6.6 0a3.3 3.3 0 1 0 -6.6 0M141.6 273.7a3.3 3.3 0 1 0 6.6 0a3.3 3.3 0 1 0 -6.6 0M142.4 270.9a3.3 3.3 0 1 0 6.6 0a3.3 3.3 0 1 0 -6.6 0M143.2 267.1a3.3 3.3 0 1 0 6.6 0a3.3 3.3 0 1 0 -6.6 0M143.9 266.9a3.3 3.3 0 1 0 6.6 0a3.3 3.3 0 1 0 -6.6 0M144.9 267.8a3.3 3.3 0 1 0 6.6 0a3.3 3.3 0 1 0 -6.6 0M145.9 272.8a3.3 3.3 0 1 0 6.6 0a3.3 3.3 0 1 0 -6.6 0M146.4 267.6a3.3 3.3 0 1 0 6.6 0a3.3 3.3 0 1 0 -6.6 0M147.6 280.0a3.3 3.3 0 1 0 6.6 0a3.3 3.3 0 1 0 -6.6 0M148.8 267.7a3.3 3.3 0 1 0 6.6 0a3.3 3.3 0 1 0 -6.6 0M149.2 266.9a3.3 3.3 0 1 0 6.6 0a3.3 3.3 0 1 0 -6.6 0M150.0 270.4a3.3 3.3 0 1 0 6.6 0a3.3 3.3 0 1 0 -6.6 0M151.3 270.6a3.3 3.3 0 1 0 6.6 0a3.3 3.3 0 1 0 -6.6 0M151.9 269.1a3.3 3.3 0 1 0 6.6 0a3.3 3.3 0 1 0 -6.6 0M152.5 271.7a3.3 3.3 0 1 0 6.6 0a3.3 3.3 0 1 0 -6.6 0M153.6 276.4a3.3 3.3 0 1 0 6.6 0a3.3 3.3 0 1 0 -6.6 0M153.9 268.3a3.3 3.3 0 1 0 6.6 0a3.3 3.3 0 1 0 -6.6 0M155.2 273.6a3.3 3.3 0 1 0 6.6 0a3.3 3.3 0 1 0 -6.6 0M155.8 268.6a3.3 3.3 0 1 0 6.6 0a3.3 3.3 0 1 0 -6.6 0M156.6 278.5a3.3 3.3 0 1 0 6.6 0a3.3 3.3 0 1 0 -6.6 0M157.7 274.7a3.3 3.3 0 1 0 6.6 0a3.3 3.3 0 1 0 -6.6 0M158.3 268.3a3.3 3.3 0 1 0 6.6 0a3.3 3.3 0 1 0 -6.6 0M159.3 278.1a3.3 3.3 0 1 0 6.6 0a3.3 3.3 0 1 0 -6.6 0M160.1 270.6a3.3 3.3 0 1 0 6.6 0a3.3 3.3 0 1 0 -6.6 0M160.6 266.2a3.3 3.3 0 1 0 6.6 0a3.3 3.3 0 1 0 -6.6 0M161.6 276.1a3.3 3.3 0 1 0 6.6 0a3.3 3.3 0 1 0 -6.6 0M162.7 268.2a3.3 3.3 0 1 0 6.6 0a3.3 3.3 0 1 0 -6.6 0M163.6 272.8a3.3 3.3 0 1 0 6.6 0a3.3 3.3 0 1 0 -6.6 0M164.2 273.9a3.3 3.3 0 1 0 6.6 0a3.3 3.3 0 1 0 -6.6 0M165.3 280.0a3.3 3.3 0 1 0 6.6 0a3.3 3.3 0 1 0 -6.6 0M166.3 266.6a3.3 3.3 0 1 0 6.6 0a3.3 3.3 0 1 0 -6.6 0M167.1 271.7a3.3 3.3 0 1 0 6.6 0a3.3 3.3 0 1 0 -6.6 0M167.7 267.4a3.3 3.3 0 1 0 6.6 0a3.3 3.3 0 1 0 -6.6 0M168.8 273.6a3.3 3.3 0 1 0 6.6 0a3.3 3.3 0 1 0 -6.6 0M169.5 271.4a3.3 3.3 0 1 0 6.6 0a3.3 3.3 0 1 0 -6.6 0M169.8 272.3a3.3 3.3 0 1 0 6.6 0a3.3 3.3 0 1 0 -6.6 0M170.7 267.4a3.3 3.3 0 1 0 6.6 0a3.3 3.3 0 1 0 -6.6 0M171.9 273.6a3.3 3.3 0 1 0 6.6 0a3.3 3.3 0 1 0 -6.6 0M172.7 271.7a3.3 3.3 0 1 0 6.6 0a3.3 3.3 0 1 0 -6.6 0M173.7 266.3a3.3 3.3 0 1 0 6.6 0a3.3 3.3 0 1 0 -6.6 0M174.5 270.7a3.3 3.3 0 1 0 6.6 0a3.3 3.3 0 1 0 -6.6 0M175.0 266.9a3.3 3.3 0 1 0 6.6 0a3.3 3.3 0 1 0 -6.6 0M176.2 267.0a3.3 3.3 0 1 0 6.6 0a3.3 3.3 0 1 0 -6.6 0M177.2 268.1a3.3 3.3 0 1 0 6.6 0a3.3 3.3 0 1 0 -6.6 0M177.7 270.6a3.3 3.3 0 1 0 6.6 0a3.3 3.3 0 1 0 -6.6 0M178.6 272.3a3.3 3.3 0 1 0 6.6 0a3.3 3.3 0 1 0 -6.6 0M179.2 276.8a3.3 3.3 0 1 0 6.6 0a3.3 3.3 0 1 0 -6.6 0M180.2 272.8a3.3 3.3 0 1 0 6.6 0a3.3 3.3 0 1 0 -6.6 0M181.2 277.5a3.3 3.3 0 1 0 6.6 0a3.3 3.3 0 1 0 -6.6 0M181.7 272.4a3.3 3.3 0 1 0 6.6 0a3.3 3.3 0 1 0 -6.6 0M182.7 270.9a3.3 3.3 0 1 0 6.6 0a3.3 3.3 0 1 0 -6.6 0M183.3 267.5a3.3 3.3 0 1 0 6.6 0a3.3 3.3 0 1 0 -6.6 0M184.0 274.8a3.3 3.3 0 1 0 6.6 0a3.3 3.3 0 1 0 -6.6 0M185.6 270.4a3.3 3.3 0 1 0 6.6 0a3.3 3.3 0 1 0 -6.6 0M185.8 270.3a3.3 3.3 0 1 0 6.6 0a3.3 3.3 0 1 0 -6.6 0M186.9 274.5a3.3 3.3 0 1 0 6.6 0a3.3 3.3 0 1 0 -6.6 0M188.1 267.7a3.3 3.3 0 1 0 6.6 0a3.3 3.3 0 1 0 -6.6 0M188.6 267.6a3.3 3.3 0 1 0 6.6 0a3.3 3.3 0 1 0 -6.6 0M189.2 274.0a3.3 3.3 0 1 0 6.6 0a3.3 3.3 0 1 0 -6.6 0M189.8 274.1a3.3 3.3 0 1 0 6.6 0a3.3 3.3 0 1 0 -6.6 0M191.0 266.6a3.3 3.3 0 1 0 6.6 0a3.3 3.3 0 1 0 -6.6 0M191.8 277.9a3.3 3.3 0 1 0 6.6 0a3.3 3.3 0 1 0 -6.6 0M193.0 280.1a3.3 3.3 0 1 0 6.6 0a3.3 3.3 0 1 0 -6.6 0M193.7 267.6a3.3 3.3 0 1 0 6.6 0a3.3 3.3 0 1 0 -6.6 0M194.3 274.2a3.3 3.3 0 1 0 6.6 0a3.3 3.3 0 1 0 -6.6 0M195.3 269.9a3.3 3.3 0 1 0 6.6 0a3.3 3.3 0 1 0 -6.6 0M245.2 274.2a3.3 3.3 0 1 0 6.6 0a3.3 3.3 0 1 0 -6.6 0M246.1 280.6a3.3 3.3 0 1 0 6.6 0a3.3 3.3 0 1 0 -6.6 0M246.9 278.5a3.3 3.3 0 1 0 6.6 0a3.3 3.3 0 1 0 -6.6 0M247.8 275.3a3.3 3.3 0 1 0 6.6 0a3.3 3.3 0 1 0 -6.6 0M249.0 278.7a3.3 3.3 0 1 0 6.6 0a3.3 3.3 0 1 0 -6.6 0M249.9 276.2a3.3 3.3 0 1 0 6.6 0a3.3 3.3 0 1 0 -6.6 0M250.1 275.6a3.3 3.3 0 1 0 6.6 0a3.3 3.3 0 1 0 -6.6 0M251.5 277.0a3.3 3.3 0 1 0 6.6 0a3.3 3.3 0 1 0 -6.6 0M251.7 276.3a3.3 3.3 0 1 0 6.6 0a3.3 3.3 0 1 0 -6.6 0M252.8 278.6a3.3 3.3 0 1 0 6.6 0a3.3 3.3 0 1 0 -6.6 0M254.1 273.7a3.3 3.3 0 1 0 6.6 0a3.3 3.3 0 1 0 -6.6 0M254.4 273.5a3.3 3.3 0 1 0 6.6 0a3.3 3.3 0 1 0 -6.6 0M255.2 275.7a3.3 3.3 0 1 0 6.6 0a3.3 3.3 0 1 0 -6.6 0M256.6 272.7a3.3 3.3 0 1 0 6.6 0a3.3 3.3 0 1 0 -6.6 0M257.4 275.2a3.3 3.3 0 1 0 6.6 0a3.3 3.3 0 1 0 -6.6 0M257.7 279.0a3.3 3.3 0 1 0 6.6 0a3.3 3.3 0 1 0 -6.6 0M195.7 275.6a3.3 3.3 0 1 0 6.6 0a3.3 3.3 0 1 0 -6.6 0M195.6 275.8a3.3 3.3 0 1 0 6.6 0a3.3 3.3 0 1 0 -6.6 0M195.8 275.5a3.3 3.3 0 1 0 6.6 0a3.3 3.3 0 1 0 -6.6 0M196.7 276.2a3.3 3.3 0 1 0 6.6 0a3.3 3.3 0 1 0 -6.6 0M196.4 275.4a3.3 3.3 0 1 0 6.6 0a3.3 3.3 0 1 0 -6.6 0M196.5 274.4a3.3 3.3 0 1 0 6.6 0a3.3 3.3 0 1 0 -6.6 0M196.9 274.8a3.3 3.3 0 1 0 6.6 0a3.3 3.3 0 1 0 -6.6 0M197.1 276.0a3.3 3.3 0 1 0 6.6 0a3.3 3.3 0 1 0 -6.6 0M197.2 275.9a3.3 3.3 0 1 0 6.6 0a3.3 3.3 0 1 0 -6.6 0M198.0 275.3a3.3 3.3 0 1 0 6.6 0a3.3 3.3 0 1 0 -6.6 0M197.8 275.9a3.3 3.3 0 1 0 6.6 0a3.3 3.3 0 1 0 -6.6 0M197.7 274.9a3.3 3.3 0 1 0 6.6 0a3.3 3.3 0 1 0 -6.6 0M198.9 274.5a3.3 3.3 0 1 0 6.6 0a3.3 3.3 0 1 0 -6.6 0M198.8 276.0a3.3 3.3 0 1 0 6.6 0a3.3 3.3 0 1 0 -6.6 0M198.3 275.5a3.3 3.3 0 1 0 6.6 0a3.3 3.3 0 1 0 -6.6 0M199.4 275.2a3.3 3.3 0 1 0 6.6 0a3.3 3.3 0 1 0 -6.6 0M199.3 276.3a3.3 3.3 0 1 0 6.6 0a3.3 3.3 0 1 0 -6.6 0M199.0 274.7a3.3 3.3 0 1 0 6.6 0a3.3 3.3 0 1 0 -6.6 0M200.2 273.6a3.3 3.3 0 1 0 6.6 0a3.3 3.3 0 1 0 -6.6 0M200.2 276.8a3.3 3.3 0 1 0 6.6 0a3.3 3.3 0 1 0 -6.6 0M199.7 276.1a3.3 3.3 0 1 0 6.6 0a3.3 3.3 0 1 0 -6.6 0M200.5 275.3a3.3 3.3 0 1 0 6.6 0a3.3 3.3 0 1 0 -6.6 0M200.9 273.9a3.3 3.3 0 1 0 6.6 0a3.3 3.3 0 1 0 -6.6 0M200.8 275.2a3.3 3.3 0 1 0 6.6 0a3.3 3.3 0 1 0 -6.6 0M201.3 274.4a3.3 3.3 0 1 0 6.6 0a3.3 3.3 0 1 0 -6.6 0M201.4 274.0a3.3 3.3 0 1 0 6.6 0a3.3 3.3 0 1 0 -6.6 0M201.2 277.1a3.3 3.3 0 1 0 6.6 0a3.3 3.3 0 1 0 -6.6 0M202.3 275.8a3.3 3.3 0 1 0 6.6 0a3.3 3.3 0 1 0 -6.6 0M201.8 274.9a3.3 3.3 0 1 0 6.6 0a3.3 3.3 0 1 0 -6.6 0M201.9 274.7a3.3 3.3 0 1 0 6.6 0a3.3 3.3 0 1 0 -6.6 0M202.5 274.4a3.3 3.3 0 1 0 6.6 0a3.3 3.3 0 1 0 -6.6 0M202.5 274.2a3.3 3.3 0 1 0 6.6 0a3.3 3.3 0 1 0 -6.6 0M202.7 274.1a3.3 3.3 0 1 0 6.6 0a3.3 3.3 0 1 0 -6.6 0M203.3 275.2a3.3 3.3 0 1 0 6.6 0a3.3 3.3 0 1 0 -6.6 0M203.3 275.3a3.3 3.3 0 1 0 6.6 0a3.3 3.3 0 1 0 -6.6 0M203.4 275.3a3.3 3.3 0 1 0 6.6 0a3.3 3.3 0 1 0 -6.6 0M204.4 276.8a3.3 3.3 0 1 0 6.6 0a3.3 3.3 0 1 0 -6.6 0M204.1 275.0a3.3 3.3 0 1 0 6.6 0a3.3 3.3 0 1 0 -6.6 0M204.4 275.5a3.3 3.3 0 1 0 6.6 0a3.3 3.3 0 1 0 -6.6 0M205.0 276.1a3.3 3.3 0 1 0 6.6 0a3.3 3.3 0 1 0 -6.6 0M204.9 275.3a3.3 3.3 0 1 0 6.6 0a3.3 3.3 0 1 0 -6.6 0M205.0 275.6a3.3 3.3 0 1 0 6.6 0a3.3 3.3 0 1 0 -6.6 0M205.7 274.7a3.3 3.3 0 1 0 6.6 0a3.3 3.3 0 1 0 -6.6 0M205.8 275.8a3.3 3.3 0 1 0 6.6 0a3.3 3.3 0 1 0 -6.6 0M205.5 275.4a3.3 3.3 0 1 0 6.6 0a3.3 3.3 0 1 0 -6.6 0M206.2 275.7a3.3 3.3 0 1 0 6.6 0a3.3 3.3 0 1 0 -6.6 0M206.4 275.1a3.3 3.3 0 1 0 6.6 0a3.3 3.3 0 1 0 -6.6 0M206.4 274.8a3.3 3.3 0 1 0 6.6 0a3.3 3.3 0 1 0 -6.6 0M207.2 274.7a3.3 3.3 0 1 0 6.6 0a3.3 3.3 0 1 0 -6.6 0M206.8 275.4a3.3 3.3 0 1 0 6.6 0a3.3 3.3 0 1 0 -6.6 0M206.8 275.7a3.3 3.3 0 1 0 6.6 0a3.3 3.3 0 1 0 -6.6 0M207.8 274.7a3.3 3.3 0 1 0 6.6 0a3.3 3.3 0 1 0 -6.6 0M207.6 274.7a3.3 3.3 0 1 0 6.6 0a3.3 3.3 0 1 0 -6.6 0M207.5 277.8a3.3 3.3 0 1 0 6.6 0a3.3 3.3 0 1 0 -6.6 0M208.4 275.6a3.3 3.3 0 1 0 6.6 0a3.3 3.3 0 1 0 -6.6 0M208.6 276.4a3.3 3.3 0 1 0 6.6 0a3.3 3.3 0 1 0 -6.6 0M208.2 276.0a3.3 3.3 0 1 0 6.6 0a3.3 3.3 0 1 0 -6.6 0M209.3 276.2a3.3 3.3 0 1 0 6.6 0a3.3 3.3 0 1 0 -6.6 0M208.8 275.6a3.3 3.3 0 1 0 6.6 0a3.3 3.3 0 1 0 -6.6 0M209.0 275.7a3.3 3.3 0 1 0 6.6 0a3.3 3.3 0 1 0 -6.6 0M209.9 277.1a3.3 3.3 0 1 0 6.6 0a3.3 3.3 0 1 0 -6.6 0M210.0 274.2a3.3 3.3 0 1 0 6.6 0a3.3 3.3 0 1 0 -6.6 0M209.5 276.2a3.3 3.3 0 1 0 6.6 0a3.3 3.3 0 1 0 -6.6 0M210.7 275.0a3.3 3.3 0 1 0 6.6 0a3.3 3.3 0 1 0 -6.6 0M210.5 275.4a3.3 3.3 0 1 0 6.6 0a3.3 3.3 0 1 0 -6.6 0M210.4 275.1a3.3 3.3 0 1 0 6.6 0a3.3 3.3 0 1 0 -6.6 0M210.9 274.8a3.3 3.3 0 1 0 6.6 0a3.3 3.3 0 1 0 -6.6 0M210.8 276.0a3.3 3.3 0 1 0 6.6 0a3.3 3.3 0 1 0 -6.6 0M211.4 275.2a3.3 3.3 0 1 0 6.6 0a3.3 3.3 0 1 0 -6.6 0M211.6 276.3a3.3 3.3 0 1 0 6.6 0a3.3 3.3 0 1 0 -6.6 0M211.7 276.1a3.3 3.3 0 1 0 6.6 0a3.3 3.3 0 1 0 -6.6 0M212.0 275.2a3.3 3.3 0 1 0 6.6 0a3.3 3.3 0 1 0 -6.6 0M212.3 275.9a3.3 3.3 0 1 0 6.6 0a3.3 3.3 0 1 0 -6.6 0M212.5 274.4a3.3 3.3 0 1 0 6.6 0a3.3 3.3 0 1 0 -6.6 0M212.3 273.8a3.3 3.3 0 1 0 6.6 0a3.3 3.3 0 1 0 -6.6 0M213.1 277.0a3.3 3.3 0 1 0 6.6 0a3.3 3.3 0 1 0 -6.6 0M213.2 275.6a3.3 3.3 0 1 0 6.6 0a3.3 3.3 0 1 0 -6.6 0M213.4 275.3a3.3 3.3 0 1 0 6.6 0a3.3 3.3 0 1 0 -6.6 0M213.6 275.4a3.3 3.3 0 1 0 6.6 0a3.3 3.3 0 1 0 -6.6 0M213.7 275.1a3.3 3.3 0 1 0 6.6 0a3.3 3.3 0 1 0 -6.6 0M214.1 276.1a3.3 3.3 0 1 0 6.6 0a3.3 3.3 0 1 0 -6.6 0M214.9 275.0a3.3 3.3 0 1 0 6.6 0a3.3 3.3 0 1 0 -6.6 0M214.9 275.0a3.3 3.3 0 1 0 6.6 0a3.3 3.3 0 1 0 -6.6 0M214.7 276.1a3.3 3.3 0 1 0 6.6 0a3.3 3.3 0 1 0 -6.6 0M215.2 275.3a3.3 3.3 0 1 0 6.6 0a3.3 3.3 0 1 0 -6.6 0M215.2 277.0a3.3 3.3 0 1 0 6.6 0a3.3 3.3 0 1 0 -6.6 0M215.6 277.1a3.3 3.3 0 1 0 6.6 0a3.3 3.3 0 1 0 -6.6 0M216.1 275.4a3.3 3.3 0 1 0 6.6 0a3.3 3.3 0 1 0 -6.6 0M215.8 275.6a3.3 3.3 0 1 0 6.6 0a3.3 3.3 0 1 0 -6.6 0M216.0 275.3a3.3 3.3 0 1 0 6.6 0a3.3 3.3 0 1 0 -6.6 0M216.6 277.8a3.3 3.3 0 1 0 6.6 0a3.3 3.3 0 1 0 -6.6 0M216.6 274.7a3.3 3.3 0 1 0 6.6 0a3.3 3.3 0 1 0 -6.6 0M217.0 274.3a3.3 3.3 0 1 0 6.6 0a3.3 3.3 0 1 0 -6.6 0M217.2 275.9a3.3 3.3 0 1 0 6.6 0a3.3 3.3 0 1 0 -6.6 0M217.6 275.9a3.3 3.3 0 1 0 6.6 0a3.3 3.3 0 1 0 -6.6 0M217.6 273.9a3.3 3.3 0 1 0 6.6 0a3.3 3.3 0 1 0 -6.6 0M218.0 274.7a3.3 3.3 0 1 0 6.6 0a3.3 3.3 0 1 0 -6.6 0M218.0 274.8a3.3 3.3 0 1 0 6.6 0a3.3 3.3 0 1 0 -6.6 0M217.9 275.5a3.3 3.3 0 1 0 6.6 0a3.3 3.3 0 1 0 -6.6 0M218.9 275.0a3.3 3.3 0 1 0 6.6 0a3.3 3.3 0 1 0 -6.6 0M218.5 275.4a3.3 3.3 0 1 0 6.6 0a3.3 3.3 0 1 0 -6.6 0M218.8 275.8a3.3 3.3 0 1 0 6.6 0a3.3 3.3 0 1 0 -6.6 0M219.7 274.1a3.3 3.3 0 1 0 6.6 0a3.3 3.3 0 1 0 -6.6 0M219.8 277.9a3.3 3.3 0 1 0 6.6 0a3.3 3.3 0 1 0 -6.6 0M219.2 275.4a3.3 3.3 0 1 0 6.6 0a3.3 3.3 0 1 0 -6.6 0M220.2 275.8a3.3 3.3 0 1 0 6.6 0a3.3 3.3 0 1 0 -6.6 0M220.0 275.1a3.3 3.3 0 1 0 6.6 0a3.3 3.3 0 1 0 -6.6 0M220.1 274.3a3.3 3.3 0 1 0 6.6 0a3.3 3.3 0 1 0 -6.6 0M221.0 274.3a3.3 3.3 0 1 0 6.6 0a3.3 3.3 0 1 0 -6.6 0M221.1 274.4a3.3 3.3 0 1 0 6.6 0a3.3 3.3 0 1 0 -6.6 0M221.1 275.1a3.3 3.3 0 1 0 6.6 0a3.3 3.3 0 1 0 -6.6 0M221.5 275.0a3.3 3.3 0 1 0 6.6 0a3.3 3.3 0 1 0 -6.6 0M221.7 274.5a3.3 3.3 0 1 0 6.6 0a3.3 3.3 0 1 0 -6.6 0M221.4 275.0a3.3 3.3 0 1 0 6.6 0a3.3 3.3 0 1 0 -6.6 0M222.1 275.4a3.3 3.3 0 1 0 6.6 0a3.3 3.3 0 1 0 -6.6 0M222.5 276.2a3.3 3.3 0 1 0 6.6 0a3.3 3.3 0 1 0 -6.6 0M222.2 274.6a3.3 3.3 0 1 0 6.6 0a3.3 3.3 0 1 0 -6.6 0M223.3 275.0a3.3 3.3 0 1 0 6.6 0a3.3 3.3 0 1 0 -6.6 0M223.2 274.7a3.3 3.3 0 1 0 6.6 0a3.3 3.3 0 1 0 -6.6 0M223.1 275.4a3.3 3.3 0 1 0 6.6 0a3.3 3.3 0 1 0 -6.6 0M223.7 275.9a3.3 3.3 0 1 0 6.6 0a3.3 3.3 0 1 0 -6.6 0M223.9 275.4a3.3 3.3 0 1 0 6.6 0a3.3 3.3 0 1 0 -6.6 0M223.4 276.6a3.3 3.3 0 1 0 6.6 0a3.3 3.3 0 1 0 -6.6 0M224.2 273.5a3.3 3.3 0 1 0 6.6 0a3.3 3.3 0 1 0 -6.6 0M224.6 275.9a3.3 3.3 0 1 0 6.6 0a3.3 3.3 0 1 0 -6.6 0M224.4 275.8a3.3 3.3 0 1 0 6.6 0a3.3 3.3 0 1 0 -6.6 0M225.3 276.3a3.3 3.3 0 1 0 6.6 0a3.3 3.3 0 1 0 -6.6 0M225.0 275.0a3.3 3.3 0 1 0 6.6 0a3.3 3.3 0 1 0 -6.6 0M225.3 275.3a3.3 3.3 0 1 0 6.6 0a3.3 3.3 0 1 0 -6.6 0M225.5 277.1a3.3 3.3 0 1 0 6.6 0a3.3 3.3 0 1 0 -6.6 0M225.6 274.3a3.3 3.3 0 1 0 6.6 0a3.3 3.3 0 1 0 -6.6 0M225.7 274.6a3.3 3.3 0 1 0 6.6 0a3.3 3.3 0 1 0 -6.6 0M226.3 275.8a3.3 3.3 0 1 0 6.6 0a3.3 3.3 0 1 0 -6.6 0M226.5 275.9a3.3 3.3 0 1 0 6.6 0a3.3 3.3 0 1 0 -6.6 0M226.2 275.0a3.3 3.3 0 1 0 6.6 0a3.3 3.3 0 1 0 -6.6 0M227.0 274.9a3.3 3.3 0 1 0 6.6 0a3.3 3.3 0 1 0 -6.6 0M227.0 275.1a3.3 3.3 0 1 0 6.6 0a3.3 3.3 0 1 0 -6.6 0M227.0 274.8a3.3 3.3 0 1 0 6.6 0a3.3 3.3 0 1 0 -6.6 0M227.6 275.8a3.3 3.3 0 1 0 6.6 0a3.3 3.3 0 1 0 -6.6 0M227.6 274.2a3.3 3.3 0 1 0 6.6 0a3.3 3.3 0 1 0 -6.6 0M227.9 274.4a3.3 3.3 0 1 0 6.6 0a3.3 3.3 0 1 0 -6.6 0M228.3 276.2a3.3 3.3 0 1 0 6.6 0a3.3 3.3 0 1 0 -6.6 0M228.5 276.2a3.3 3.3 0 1 0 6.6 0a3.3 3.3 0 1 0 -6.6 0M228.4 276.7a3.3 3.3 0 1 0 6.6 0a3.3 3.3 0 1 0 -6.6 0M229.1 274.5a3.3 3.3 0 1 0 6.6 0a3.3 3.3 0 1 0 -6.6 0M229.3 277.7a3.3 3.3 0 1 0 6.6 0a3.3 3.3 0 1 0 -6.6 0M229.5 274.8a3.3 3.3 0 1 0 6.6 0a3.3 3.3 0 1 0 -6.6 0M230.2 276.2a3.3 3.3 0 1 0 6.6 0a3.3 3.3 0 1 0 -6.6 0M230.1 275.0a3.3 3.3 0 1 0 6.6 0a3.3 3.3 0 1 0 -6.6 0M229.8 275.9a3.3 3.3 0 1 0 6.6 0a3.3 3.3 0 1 0 -6.6 0M230.6 277.6a3.3 3.3 0 1 0 6.6 0a3.3 3.3 0 1 0 -6.6 0M230.8 275.5a3.3 3.3 0 1 0 6.6 0a3.3 3.3 0 1 0 -6.6 0M230.6 273.7a3.3 3.3 0 1 0 6.6 0a3.3 3.3 0 1 0 -6.6 0M231.1 276.6a3.3 3.3 0 1 0 6.6 0a3.3 3.3 0 1 0 -6.6 0M231.4 276.7a3.3 3.3 0 1 0 6.6 0a3.3 3.3 0 1 0 -6.6 0M231.6 275.5a3.3 3.3 0 1 0 6.6 0a3.3 3.3 0 1 0 -6.6 0M232.0 276.6a3.3 3.3 0 1 0 6.6 0a3.3 3.3 0 1 0 -6.6 0M232.0 276.1a3.3 3.3 0 1 0 6.6 0a3.3 3.3 0 1 0 -6.6 0M232.0 275.9a3.3 3.3 0 1 0 6.6 0a3.3 3.3 0 1 0 -6.6 0M233.0 276.0a3.3 3.3 0 1 0 6.6 0a3.3 3.3 0 1 0 -6.6 0M232.9 276.3a3.3 3.3 0 1 0 6.6 0a3.3 3.3 0 1 0 -6.6 0M233.0 276.1a3.3 3.3 0 1 0 6.6 0a3.3 3.3 0 1 0 -6.6 0M233.7 275.6a3.3 3.3 0 1 0 6.6 0a3.3 3.3 0 1 0 -6.6 0M233.7 275.9a3.3 3.3 0 1 0 6.6 0a3.3 3.3 0 1 0 -6.6 0M233.7 275.1a3.3 3.3 0 1 0 6.6 0a3.3 3.3 0 1 0 -6.6 0M234.1 275.4a3.3 3.3 0 1 0 6.6 0a3.3 3.3 0 1 0 -6.6 0M234.3 276.5a3.3 3.3 0 1 0 6.6 0a3.3 3.3 0 1 0 -6.6 0M233.9 274.6a3.3 3.3 0 1 0 6.6 0a3.3 3.3 0 1 0 -6.6 0M234.8 275.6a3.3 3.3 0 1 0 6.6 0a3.3 3.3 0 1 0 -6.6 0M235.0 274.7a3.3 3.3 0 1 0 6.6 0a3.3 3.3 0 1 0 -6.6 0M234.6 275.7a3.3 3.3 0 1 0 6.6 0a3.3 3.3 0 1 0 -6.6 0M235.5 274.8a3.3 3.3 0 1 0 6.6 0a3.3 3.3 0 1 0 -6.6 0M235.3 274.4a3.3 3.3 0 1 0 6.6 0a3.3 3.3 0 1 0 -6.6 0M235.4 275.3a3.3 3.3 0 1 0 6.6 0a3.3 3.3 0 1 0 -6.6 0M235.9 275.1a3.3 3.3 0 1 0 6.6 0a3.3 3.3 0 1 0 -6.6 0M236.2 273.3a3.3 3.3 0 1 0 6.6 0a3.3 3.3 0 1 0 -6.6 0M236.4 275.4a3.3 3.3 0 1 0 6.6 0a3.3 3.3 0 1 0 -6.6 0M236.7 275.1a3.3 3.3 0 1 0 6.6 0a3.3 3.3 0 1 0 -6.6 0M237.0 274.4a3.3 3.3 0 1 0 6.6 0a3.3 3.3 0 1 0 -6.6 0M236.8 274.7a3.3 3.3 0 1 0 6.6 0a3.3 3.3 0 1 0 -6.6 0M237.6 274.2a3.3 3.3 0 1 0 6.6 0a3.3 3.3 0 1 0 -6.6 0M237.7 276.0a3.3 3.3 0 1 0 6.6 0a3.3 3.3 0 1 0 -6.6 0M237.3 274.4a3.3 3.3 0 1 0 6.6 0a3.3 3.3 0 1 0 -6.6 0M238.4 275.8a3.3 3.3 0 1 0 6.6 0a3.3 3.3 0 1 0 -6.6 0M238.5 274.7a3.3 3.3 0 1 0 6.6 0a3.3 3.3 0 1 0 -6.6 0M238.5 275.4a3.3 3.3 0 1 0 6.6 0a3.3 3.3 0 1 0 -6.6 0M239.0 274.8a3.3 3.3 0 1 0 6.6 0a3.3 3.3 0 1 0 -6.6 0M238.8 275.6a3.3 3.3 0 1 0 6.6 0a3.3 3.3 0 1 0 -6.6 0M238.8 276.1a3.3 3.3 0 1 0 6.6 0a3.3 3.3 0 1 0 -6.6 0M239.7 276.2a3.3 3.3 0 1 0 6.6 0a3.3 3.3 0 1 0 -6.6 0M239.8 275.1a3.3 3.3 0 1 0 6.6 0a3.3 3.3 0 1 0 -6.6 0M239.4 275.4a3.3 3.3 0 1 0 6.6 0a3.3 3.3 0 1 0 -6.6 0M240.4 275.2a3.3 3.3 0 1 0 6.6 0a3.3 3.3 0 1 0 -6.6 0M240.1 273.7a3.3 3.3 0 1 0 6.6 0a3.3 3.3 0 1 0 -6.6 0M240.7 274.4a3.3 3.3 0 1 0 6.6 0a3.3 3.3 0 1 0 -6.6 0M240.9 275.4a3.3 3.3 0 1 0 6.6 0a3.3 3.3 0 1 0 -6.6 0M241.2 277.5a3.3 3.3 0 1 0 6.6 0a3.3 3.3 0 1 0 -6.6 0M241.3 272.8a3.3 3.3 0 1 0 6.6 0a3.3 3.3 0 1 0 -6.6 0M241.8 276.4a3.3 3.3 0 1 0 6.6 0a3.3 3.3 0 1 0 -6.6 0M242.1 278.1a3.3 3.3 0 1 0 6.6 0a3.3 3.3 0 1 0 -6.6 0M242.0 275.9a3.3 3.3 0 1 0 6.6 0a3.3 3.3 0 1 0 -6.6 0M242.7 275.1a3.3 3.3 0 1 0 6.6 0a3.3 3.3 0 1 0 -6.6 0M242.6 276.3a3.3 3.3 0 1 0 6.6 0a3.3 3.3 0 1 0 -6.6 0M242.3 275.8a3.3 3.3 0 1 0 6.6 0a3.3 3.3 0 1 0 -6.6 0M243.4 276.0a3.3 3.3 0 1 0 6.6 0a3.3 3.3 0 1 0 -6.6 0M243.0 274.9a3.3 3.3 0 1 0 6.6 0a3.3 3.3 0 1 0 -6.6 0M243.0 273.2a3.3 3.3 0 1 0 6.6 0a3.3 3.3 0 1 0 -6.6 0M243.7 275.4a3.3 3.3 0 1 0 6.6 0a3.3 3.3 0 1 0 -6.6 0M243.6 274.5a3.3 3.3 0 1 0 6.6 0a3.3 3.3 0 1 0 -6.6 0M243.7 275.4a3.3 3.3 0 1 0 6.6 0a3.3 3.3 0 1 0 -6.6 0M244.7 276.6a3.3 3.3 0 1 0 6.6 0a3.3 3.3 0 1 0 -6.6 0M244.8 277.4a3.3 3.3 0 1 0 6.6 0a3.3 3.3 0 1 0 -6.6 0M244.3 276.3a3.3 3.3 0 1 0 6.6 0a3.3 3.3 0 1 0 -6.6 0M199.2 282.2a3.3 3.3 0 1 0 6.6 0a3.3 3.3 0 1 0 -6.6 0M219.5 283.6a3.3 3.3 0 1 0 6.6 0a3.3 3.3 0 1 0 -6.6 0M241.7 282.4a3.3 3.3 0 1 0 6.6 0a3.3 3.3 0 1 0 -6.6 0M245.7 281.0a3.3 3.3 0 1 0 6.6 0a3.3 3.3 0 1 0 -6.6 0M249.7 280.5a3.3 3.3 0 1 0 6.6 0a3.3 3.3 0 1 0 -6.6 0" fill="none" stroke="#000" stroke-width="1.35"/>
<path d="M48.8 364.8h5.4v5.4h-5.4zM49.5 358.3h5.4v5.4h-5.4zM49.8 364.9h5.4v5.4h-5.4zM51.0 364.5h5.4v5.4h-5.4zM51.9 361.2h5.4v5.4h-5.4zM52.1 359.4h5.4v5.4h-5.4zM53.1 360.3h5.4v5.4h-5.4zM53.7 365.4h5.4v5.4h-5.4zM54.3 362.6h5.4v5.4h-5.4zM54.7 357.2h5.4v5.4h-5.4zM55.6 359.6h5.4v5.4h-5.4zM56.1 356.4h5.4v5.4h-5.4zM56.7 360.9h5.4v5.4h-5.4zM57.6 363.5h5.4v5.4h-5.4zM58.5 361.3h5.4v5.4h-5.4zM59.1 360.0h5.4v5.4h-5.4zM60.2 360.5h5.4v5.4h-5.4zM60.8 356.4h5.4v5.4h-5.4zM61.2 362.6h5.4v5.4h-5.4zM62.0 361.3h5.4v5.4h-5.4zM62.8 361.6h5.4v5.4h-5.4zM63.1 356.2h5.4v5.4h-5.4zM63.7 363.2h5.4v5.4h-5.4zM64.4 359.0h5.4v5.4h-5.4zM65.0 360.8h5.4v5.4h-5.4zM65.9 356.1h5.4v5.4h-5.4zM66.8 359.6h5.4v5.4h-5.4zM67.4 358.6h5.4v5.4h-5.4zM67.8 358.0h5.4v5.4h-5.4zM68.5 364.4h5.4v5.4h-5.4zM69.8 358.7h5.4v5.4h-5.4zM70.1 357.6h5.4v5.4h-5.4zM70.8 362.1h5.4v5.4h-5.4zM71.8 363.3h5.4v5.4h-5.4zM72.6 361.8h5.4v5.4h-5.4zM73.3 361.0h5.4v5.4h-5.4zM73.6 364.2h5.4v5.4h-5.4zM74.8 357.6h5.4v5.4h-5.4zM75.0 352.9h5.4v5.4h-5.4zM75.7 361.1h5.4v5.4h-5.4zM76.4 355.8h5.4v5.4h-5.4zM77.4 361.6h5.4v5.4h-5.4zM78.3 366.3h5.4v5.4h-5.4zM78.9 357.0h5.4v5.4h-5.4zM79.5 362.1h5.4v5.4h-5.4zM80.1 359.5h5.4v5.4h-5.4zM80.5 354.7h5.4v5.4h-5.4zM81.3 362.4h5.4v5.4h-5.4zM81.8 361.5h5.4v5.4h-5.4zM83.0 364.7h5.4v5.4h-5.4zM83.2 362.2h5.4v5.4h-5.4zM84.5 359.5h5.4v5.4h-5.4zM84.6 360.1h5.4v5.4h-5.4zM85.3 364.7h5.4v5.4h-5.4zM86.0 357.5h5.4v5.4h-5.4zM87.1 365.7h5.4v5.4h-5.4zM87.8 362.3h5.4v5.4h-5.4zM88.2 355.8h5.4v5.4h-5.4zM89.0 362.3h5.4v5.4h-5.4zM90.0 363.1h5.4v5.4h-5.4zM90.4 361.5h5.4v5.4h-5.4zM91.3 364.0h5.4v5.4h-5.4zM91.8 356.5h5.4v5.4h-5.4zM92.6 361.6h5.4v5.4h-5.4zM93.6 359.2h5.4v5.4h-5.4zM93.6 364.9h5.4v5.4h-5.4zM94.9 363.6h5.4v5.4h-5.4zM95.4 361.5h5.4v5.4h-5.4zM95.8 361.3h5.4v5.4h-5.4zM96.6 359.2h5.4v5.4h-5.4zM97.3 361.4h5.4v5.4h-5.4zM97.9 362.1h5.4v5.4h-5.4zM98.5 364.8h5.4v5.4h-5.4zM99.7 362.1h5.4v5.4h-5.4zM100.2 357.8h5.4v5.4h-5.4zM100.6 351.8h5.4v5.4h-5.4zM101.5 364.3h5.4v5.4h-5.4zM102.7 363.5h5.4v5.4h-5.4zM103.0 359.7h5.4v5.4h-5.4zM103.9 357.5h5.4v5.4h-5.4zM104.3 360.5h5.4v5.4h-5.4zM105.3 363.8h5.4v5.4h-5.4zM105.8 365.0h5.4v5.4h-5.4zM106.5 361.7h5.4v5.4h-5.4zM107.0 358.3h5.4v5.4h-5.4zM108.2 362.0h5.4v5.4h-5.4zM108.3 363.1h5.4v5.4h-5.4zM109.0 361.3h5.4v5.4h-5.4zM109.8 363.3h5.4v5.4h-5.4zM111.1 365.0h5.4v5.4h-5.4zM111.3 360.7h5.4v5.4h-5.4zM112.0 365.4h5.4v5.4h-5.4zM112.9 360.9h5.4v5.4h-5.4zM113.1 362.5h5.4v5.4h-5.4zM114.4 362.3h5.4v5.4h-5.4zM114.9 360.4h5.4v5.4h-5.4zM115.7 358.8h5.4v5.4h-5.4zM116.2 358.2h5.4v5.4h-5.4zM117.2 363.4h5.4v5.4h-5.4zM118.0 359.8h5.4v5.4h-5.4zM118.5 362.1h5.4v5.4h-5.4zM119.0 363.4h5.4v5.4h-5.4zM119.9 358.5h5.4v5.4h-5.4zM120.6 363.3h5.4v5.4h-5.4zM121.0 362.7h5.4v5.4h-5.4zM121.8 359.1h5.4v5.4h-5.4zM122.9 362.5h5.4v5.4h-5.4zM123.2 362.7h5.4v5.4h-5.4zM124.3 364.4h5.4v5.4h-5.4zM124.9 364.1h5.4v5.4h-5.4zM125.4 362.0h5.4v5.4h-5.4zM126.2 363.7h5.4v5.4h-5.4zM126.8 363.1h5.4v5.4h-5.4zM127.8 362.6h5.4v5.4h-5.4zM128.3 358.8h5.4v5.4h-5.4zM129.2 358.3h5.4v5.4h-5.4zM129.2 363.7h5.4v5.4h-5.4zM130.2 356.7h5.4v5.4h-5.4zM130.8 363.6h5.4v5.4h-5.4zM132.0 361.1h5.4v5.4h-5.4zM132.1 362.9h5.4v5.4h-5.4zM132.7 362.0h5.4v5.4h-5.4zM133.9 359.1h5.4v5.4h-5.4zM134.2 359.6h5.4v5.4h-5.4zM135.0 359.4h5.4v5.4h-5.4zM135.8 358.6h5.4v5.4h-5.4zM136.5 358.0h5.4v5.4h-5.4zM137.5 364.4h5.4v5.4h-5.4zM137.8 364.4h5.4v5.4h-5.4zM138.2 361.2h5.4v5.4h-5.4zM139.1 363.7h5.4v5.4h-5.4zM139.9 361.4h5.4v5.4h-5.4zM140.8 363.2h5.4v5.4h-5.4zM141.0 357.9h5.4v5.4h-5.4zM142.4 365.3h5.4v5.4h-5.4zM142.9 361.6h5.4v5.4h-5.4zM143.8 357.0h5.4v5.4h-5.4zM143.9 360.3h5.4v5.4h-5.4zM145.1 359.9h5.4v5.4h-5.4zM145.8 360.5h5.4v5.4h-5.4zM146.6 362.4h5.4v5.4h-5.4zM147.2 358.2h5.4v5.4h-5.4zM147.9 358.8h5.4v5.4h-5.4zM148.5 362.4h5.4v5.4h-5.4zM149.3 364.6h5.4v5.4h-5.4zM149.4 359.6h5.4v5.4h-5.4zM150.1 360.7h5.4v5.4h-5.4zM151.1 360.0h5.4v5.4h-5.4zM152.1 361.6h5.4v5.4h-5.4zM152.6 365.7h5.4v5.4h-5.4zM153.5 361.5h5.4v5.4h-5.4zM153.6 359.6h5.4v5.4h-5.4zM154.7 363.0h5.4v5.4h-5.4zM155.6 364.4h5.4v5.4h-5.4zM156.4 361.9h5.4v5.4h-5.4zM156.3 358.7h5.4v5.4h-5.4zM157.5 361.1h5.4v5.4h-5.4zM158.1 358.9h5.4v5.4h-5.4zM159.0 365.2h5.4v5.4h-5.4zM159.5 361.9h5.4v5.4h-5.4zM160.0 363.7h5.4v5.4h-5.4zM160.7 362.4h5.4v5.4h-5.4zM161.9 359.2h5.4v5.4h-5.4zM162.1 359.0h5.4v5.4h-5.4zM163.0 357.9h5.4v5.4h-5.4zM164.0 353.5h5.4v5.4h-5.4zM164.0 358.3h5.4v5.4h-5.4zM165.4 361.2h5.4v5.4h-5.4zM165.9 361.5h5.4v5.4h-5.4zM166.5 362.5h5.4v5.4h-5.4zM167.3 356.4h5.4v5.4h-5.4zM168.0 358.4h5.4v5.4h-5.4zM168.7 359.3h5.4v5.4h-5.4zM169.6 357.1h5.4v5.4h-5.4zM169.8 362.2h5.4v5.4h-5.4zM170.4 363.1h5.4v5.4h-5.4zM171.3 357.7h5.4v5.4h-5.4zM172.4 360.3h5.4v5.4h-5.4zM172.3 358.8h5.4v5.4h-5.4zM173.7 364.4h5.4v5.4h-5.4zM173.7 364.1h5.4v5.4h-5.4zM175.2 359.0h5.4v5.4h-5.4zM175.4 363.3h5.4v5.4h-5.4zM175.9 364.0h5.4v5.4h-5.4zM177.0 360.3h5.4v5.4h-5.4zM177.3 360.0h5.4v5.4h-5.4zM178.1 360.3h5.4v5.4h-5.4zM179.2 355.8h5.4v5.4h-5.4zM179.9 359.8h5.4v5.4h-5.4zM180.3 364.1h5.4v5.4h-5.4zM180.9 362.9h5.4v5.4h-5.4zM181.9 361.8h5.4v5.4h-5.4zM182.1 360.5h5.4v5.4h-5.4zM183.5 359.9h5.4v5.4h-5.4zM183.5 364.7h5.4v5.4h-5.4zM184.7 359.3h5.4v5.4h-5.4zM185.5 363.5h5.4v5.4h-5.4zM185.9 359.1h5.4v5.4h-5.4zM186.9 363.8h5.4v5.4h-5.4zM187.2 365.1h5.4v5.4h-5.4zM188.2 354.0h5.4v5.4h-5.4zM189.1 362.3h5.4v5.4h-5.4zM189.5 359.5h5.4v5.4h-5.4zM190.0 360.4h5.4v5.4h-5.4zM190.9 363.6h5.4v5.4h-5.4zM191.1 364.6h5.4v5.4h-5.4zM192.2 358.8h5.4v5.4h-5.4zM192.6 357.7h5.4v5.4h-5.4zM193.9 359.1h5.4v5.4h-5.4zM194.6 363.3h5.4v5.4h-5.4zM195.2 359.1h5.4v5.4h-5.4zM195.9 358.5h5.4v5.4h-5.4zM196.6 360.2h5.4v5.4h-5.4zM197.2 362.8h5.4v5.4h-5.4zM197.6 360.6h5.4v5.4h-5.4zM198.5 361.2h5.4v5.4h-5.4zM199.4 359.7h5.4v5.4h-5.4zM200.2 361.6h5.4v5.4h-5.4zM238.9 364.3h5.4v5.4h-5.4zM239.3 360.0h5.4v5.4h-5.4zM240.2 360.5h5.4v5.4h-5.4zM240.7 359.2h5.4v5.4h-5.4zM241.6 354.4h5.4v5.4h-5.4zM242.1 363.9h5.4v5.4h-5.4zM243.0 363.3h5.4v5.4h-5.4zM244.1 354.9h5.4v5.4h-5.4zM244.5 361.2h5.4v5.4h-5.4zM245.5 361.0h5.4v5.4h-5.4zM246.1 365.3h5.4v5.4h-5.4zM246.3 359.4h5.4v5.4h-5.4zM247.3 357.7h5.4v5.4h-5.4zM248.3 363.1h5.4v5.4h-5.4zM248.6 354.7h5.4v5.4h-5.4zM249.4 365.5h5.4v5.4h-5.4zM250.4 365.3h5.4v5.4h-5.4zM250.5 360.2h5.4v5.4h-5.4zM251.8 359.3h5.4v5.4h-5.4zM252.0 361.4h5.4v5.4h-5.4zM253.2 361.9h5.4v5.4h-5.4zM253.7 361.7h5.4v5.4h-5.4zM254.6 360.7h5.4v5.4h-5.4zM255.3 362.5h5.4v5.4h-5.4zM255.5 361.7h5.4v5.4h-5.4zM256.2 358.0h5.4v5.4h-5.4zM256.7 359.2h5.4v5.4h-5.4zM201.9 361.1h5.4v5.4h-5.4zM221.0 359.3h5.4v5.4h-5.4z" fill="none" stroke="#f00" stroke-width="1.3"/>
<rect x="44.50" y="220.20" width="216.30" height="180.80" fill="none" stroke="#000" stroke-width="1.7"/>
<ellipse cx="222.8" cy="278.2" rx="23.8" ry="12" fill="none" stroke="#3a3ae0" stroke-width="1.3" stroke-dasharray="3.2,2.4"/>
<ellipse cx="222.8" cy="362.2" rx="23.8" ry="11.6" fill="none" stroke="#3a3ae0" stroke-width="1.3" stroke-dasharray="3.2,2.4"/>
<line x1="199.10" y1="280.00" x2="199.10" y2="362.00" stroke="#3a3ae0" stroke-width="1.3" stroke-dasharray="3.2,2.4"/>
<line x1="246.50" y1="280.00" x2="246.50" y2="362.00" stroke="#3a3ae0" stroke-width="1.3" stroke-dasharray="3.2,2.4"/>
<line x1="243.70" y1="333.70" x2="235.50" y2="345.50" stroke="#3a3ae0" stroke-width="1.2" stroke-dasharray="2.5,2"/>
<polygon points="232.8,349.5 233.3,343.5 237.5,346.2" fill="#3a3ae0"/>
<text class="sb" transform="translate(201.50,326.60) scale(0.880,1)" font-size="9.2" fill="#111" stroke="#111" stroke-width="0.15" >No filament</text>
<text class="sb" transform="translate(201.50,337.40) scale(0.889,1)" font-size="9.2" fill="#111" stroke="#111" stroke-width="0.15" >formation</text>
<text class="sb" transform="translate(204.70,392.40) scale(0.975,1)" font-size="10.5" fill="#111" stroke="#111" stroke-width="0.15" >undoped</text>
<circle cx="128.20" cy="310.10" r="3.6" fill="none" stroke="#000" stroke-width="1.5"/>
<text class="sb" transform="translate(143.90,314.80) scale(0.872,1)" font-size="11.2" fill="#111" stroke="#111" stroke-width="0.15" >HRS</text>
<rect x="124.90" y="320.50" width="6.6" height="6.6" fill="none" stroke="#f00" stroke-width="1.5"/>
<text class="sb" transform="translate(143.90,328.50) scale(0.844,1)" font-size="11.2" fill="#111" stroke="#111" stroke-width="0.15" >LRS</text>
<text class="sb" transform="translate(26.05,404.95) scale(0.950,1)" font-size="10" fill="#000" stroke="#000" stroke-width="0.15" >10</text>
<text class="sb" transform="translate(38.00,399.80) scale(1.000,1)" font-size="5.0" fill="#000" stroke="#000" stroke-width="0.15" >1</text>
<text class="sb" transform="translate(26.05,359.75) scale(0.950,1)" font-size="10" fill="#000" stroke="#000" stroke-width="0.15" >10</text>
<text class="sb" transform="translate(38.00,354.65) scale(1.000,1)" font-size="5.0" fill="#000" stroke="#000" stroke-width="0.15" >2</text>
<text class="sb" transform="translate(26.05,314.55) scale(0.950,1)" font-size="10" fill="#000" stroke="#000" stroke-width="0.15" >10</text>
<text class="sb" transform="translate(38.00,309.45) scale(1.000,1)" font-size="5.0" fill="#000" stroke="#000" stroke-width="0.15" >3</text>
<text class="sb" transform="translate(26.05,269.35) scale(0.950,1)" font-size="10" fill="#000" stroke="#000" stroke-width="0.15" >10</text>
<text class="sb" transform="translate(38.00,264.20) scale(1.000,1)" font-size="5.0" fill="#000" stroke="#000" stroke-width="0.15" >4</text>
<text class="sb" transform="translate(26.05,224.15) scale(0.950,1)" font-size="10" fill="#000" stroke="#000" stroke-width="0.15" >10</text>
<text class="sb" transform="translate(38.00,219.00) scale(1.000,1)" font-size="5.0" fill="#000" stroke="#000" stroke-width="0.15" >5</text>
<text class="sb" transform="translate(48.83,413.80) scale(0.950,1)" font-size="10.5" fill="#000" stroke="#000" stroke-width="0.15" >0</text>
<text class="sb" transform="translate(80.90,413.80) scale(0.950,1)" font-size="10.5" fill="#000" stroke="#000" stroke-width="0.15" >50</text>
<text class="sb" transform="translate(112.94,413.80) scale(0.950,1)" font-size="10.5" fill="#000" stroke="#000" stroke-width="0.15" >100</text>
<text class="sb" transform="translate(147.78,413.80) scale(0.950,1)" font-size="10.5" fill="#000" stroke="#000" stroke-width="0.15" >150</text>
<text class="sb" transform="translate(182.61,413.80) scale(0.950,1)" font-size="10.5" fill="#000" stroke="#000" stroke-width="0.15" >200</text>
<text class="sb" transform="translate(217.45,413.80) scale(0.950,1)" font-size="10.5" fill="#000" stroke="#000" stroke-width="0.15" >250</text>
<text class="sb" transform="translate(252.28,413.80) scale(0.950,1)" font-size="10.5" fill="#000" stroke="#000" stroke-width="0.15" >300</text>
<text class="rb" transform="translate(123.90,431.10) scale(0.997,1)" font-size="13.8" fill="#000" stroke="#000" stroke-width="0.15" >Cycles (#)</text>
<text class="rb" transform="translate(18.30,362.90) rotate(-90) scale(0.991,1)" font-size="14" fill="#000" stroke="#000" stroke-width="0.15" >Resistance (Ω)</text>
<text class="rb" transform="translate(6.50,241.10) scale(0.955,1)" font-size="20" fill="#000" stroke="#000" stroke-width="0.15" >(c)</text>
<line x1="314.50" y1="401.80" x2="318.30" y2="401.80" stroke="#000" stroke-width="1.3" />
<line x1="314.50" y1="356.50" x2="318.30" y2="356.50" stroke="#000" stroke-width="1.3" />
<line x1="314.50" y1="311.20" x2="318.30" y2="311.20" stroke="#000" stroke-width="1.3" />
<line x1="314.50" y1="265.90" x2="318.30" y2="265.90" stroke="#000" stroke-width="1.3" />
<line x1="314.50" y1="220.60" x2="318.30" y2="220.60" stroke="#000" stroke-width="1.3" />
<line x1="357.54" y1="401.80" x2="357.54" y2="398.20" stroke="#000" stroke-width="1.3" />
<line x1="400.78" y1="401.80" x2="400.78" y2="398.20" stroke="#000" stroke-width="1.3" />
<line x1="444.02" y1="401.80" x2="444.02" y2="398.20" stroke="#000" stroke-width="1.3" />
<line x1="487.26" y1="401.80" x2="487.26" y2="398.20" stroke="#000" stroke-width="1.3" />
<line x1="530.50" y1="401.80" x2="530.50" y2="398.20" stroke="#000" stroke-width="1.3" />
<path d="M314.6 281.8a3.3 3.3 0 1 0 6.6 0a3.3 3.3 0 1 0 -6.6 0M315.0 269.6a3.3 3.3 0 1 0 6.6 0a3.3 3.3 0 1 0 -6.6 0M314.9 271.2a3.3 3.3 0 1 0 6.6 0a3.3 3.3 0 1 0 -6.6 0M316.3 255.6a3.3 3.3 0 1 0 6.6 0a3.3 3.3 0 1 0 -6.6 0M316.7 250.0a3.3 3.3 0 1 0 6.6 0a3.3 3.3 0 1 0 -6.6 0M317.3 272.0a3.3 3.3 0 1 0 6.6 0a3.3 3.3 0 1 0 -6.6 0M317.1 258.3a3.3 3.3 0 1 0 6.6 0a3.3 3.3 0 1 0 -6.6 0M316.6 253.4a3.3 3.3 0 1 0 6.6 0a3.3 3.3 0 1 0 -6.6 0M317.6 278.8a3.3 3.3 0 1 0 6.6 0a3.3 3.3 0 1 0 -6.6 0M318.1 266.5a3.3 3.3 0 1 0 6.6 0a3.3 3.3 0 1 0 -6.6 0M318.7 258.5a3.3 3.3 0 1 0 6.6 0a3.3 3.3 0 1 0 -6.6 0M319.6 278.7a3.3 3.3 0 1 0 6.6 0a3.3 3.3 0 1 0 -6.6 0M319.5 256.8a3.3 3.3 0 1 0 6.6 0a3.3 3.3 0 1 0 -6.6 0M319.2 269.5a3.3 3.3 0 1 0 6.6 0a3.3 3.3 0 1 0 -6.6 0M320.5 283.0a3.3 3.3 0 1 0 6.6 0a3.3 3.3 0 1 0 -6.6 0M320.9 268.7a3.3 3.3 0 1 0 6.6 0a3.3 3.3 0 1 0 -6.6 0M320.6 262.8a3.3 3.3 0 1 0 6.6 0a3.3 3.3 0 1 0 -6.6 0M320.4 276.5a3.3 3.3 0 1 0 6.6 0a3.3 3.3 0 1 0 -6.6 0M321.1 271.8a3.3 3.3 0 1 0 6.6 0a3.3 3.3 0 1 0 -6.6 0M322.2 254.8a3.3 3.3 0 1 0 6.6 0a3.3 3.3 0 1 0 -6.6 0M321.5 254.9a3.3 3.3 0 1 0 6.6 0a3.3 3.3 0 1 0 -6.6 0M322.7 255.4a3.3 3.3 0 1 0 6.6 0a3.3 3.3 0 1 0 -6.6 0M323.3 262.2a3.3 3.3 0 1 0 6.6 0a3.3 3.3 0 1 0 -6.6 0M323.2 270.8a3.3 3.3 0 1 0 6.6 0a3.3 3.3 0 1 0 -6.6 0M324.2 280.4a3.3 3.3 0 1 0 6.6 0a3.3 3.3 0 1 0 -6.6 0M323.6 279.3a3.3 3.3 0 1 0 6.6 0a3.3 3.3 0 1 0 -6.6 0M324.7 270.1a3.3 3.3 0 1 0 6.6 0a3.3 3.3 0 1 0 -6.6 0M324.4 260.3a3.3 3.3 0 1 0 6.6 0a3.3 3.3 0 1 0 -6.6 0M324.8 260.6a3.3 3.3 0 1 0 6.6 0a3.3 3.3 0 1 0 -6.6 0M325.1 261.9a3.3 3.3 0 1 0 6.6 0a3.3 3.3 0 1 0 -6.6 0M325.8 265.9a3.3 3.3 0 1 0 6.6 0a3.3 3.3 0 1 0 -6.6 0M326.4 255.1a3.3 3.3 0 1 0 6.6 0a3.3 3.3 0 1 0 -6.6 0M326.1 277.9a3.3 3.3 0 1 0 6.6 0a3.3 3.3 0 1 0 -6.6 0M326.6 278.7a3.3 3.3 0 1 0 6.6 0a3.3 3.3 0 1 0 -6.6 0M326.9 280.3a3.3 3.3 0 1 0 6.6 0a3.3 3.3 0 1 0 -6.6 0M328.0 252.2a3.3 3.3 0 1 0 6.6 0a3.3 3.3 0 1 0 -6.6 0M327.4 257.1a3.3 3.3 0 1 0 6.6 0a3.3 3.3 0 1 0 -6.6 0M328.9 274.1a3.3 3.3 0 1 0 6.6 0a3.3 3.3 0 1 0 -6.6 0M328.6 262.7a3.3 3.3 0 1 0 6.6 0a3.3 3.3 0 1 0 -6.6 0M328.9 279.2a3.3 3.3 0 1 0 6.6 0a3.3 3.3 0 1 0 -6.6 0M329.8 268.7a3.3 3.3 0 1 0 6.6 0a3.3 3.3 0 1 0 -6.6 0M329.3 257.6a3.3 3.3 0 1 0 6.6 0a3.3 3.3 0 1 0 -6.6 0M329.9 269.1a3.3 3.3 0 1 0 6.6 0a3.3 3.3 0 1 0 -6.6 0M330.2 280.6a3.3 3.3 0 1 0 6.6 0a3.3 3.3 0 1 0 -6.6 0M331.9 273.4a3.3 3.3 0 1 0 6.6 0a3.3 3.3 0 1 0 -6.6 0M331.7 249.5a3.3 3.3 0 1 0 6.6 0a3.3 3.3 0 1 0 -6.6 0M332.6 283.2a3.3 3.3 0 1 0 6.6 0a3.3 3.3 0 1 0 -6.6 0M331.5 265.9a3.3 3.3 0 1 0 6.6 0a3.3 3.3 0 1 0 -6.6 0M333.0 284.5a3.3 3.3 0 1 0 6.6 0a3.3 3.3 0 1 0 -6.6 0M332.4 275.0a3.3 3.3 0 1 0 6.6 0a3.3 3.3 0 1 0 -6.6 0M334.0 273.8a3.3 3.3 0 1 0 6.6 0a3.3 3.3 0 1 0 -6.6 0M334.2 261.2a3.3 3.3 0 1 0 6.6 0a3.3 3.3 0 1 0 -6.6 0M334.4 279.9a3.3 3.3 0 1 0 6.6 0a3.3 3.3 0 1 0 -6.6 0M334.4 279.6a3.3 3.3 0 1 0 6.6 0a3.3 3.3 0 1 0 -6.6 0M335.0 262.3a3.3 3.3 0 1 0 6.6 0a3.3 3.3 0 1 0 -6.6 0M335.4 251.4a3.3 3.3 0 1 0 6.6 0a3.3 3.3 0 1 0 -6.6 0M335.9 280.2a3.3 3.3 0 1 0 6.6 0a3.3 3.3 0 1 0 -6.6 0M336.4 275.0a3.3 3.3 0 1 0 6.6 0a3.3 3.3 0 1 0 -6.6 0M336.5 278.7a3.3 3.3 0 1 0 6.6 0a3.3 3.3 0 1 0 -6.6 0M336.1 249.6a3.3 3.3 0 1 0 6.6 0a3.3 3.3 0 1 0 -6.6 0M337.3 256.8a3.3 3.3 0 1 0 6.6 0a3.3 3.3 0 1 0 -6.6 0M337.8 270.6a3.3 3.3 0 1 0 6.6 0a3.3 3.3 0 1 0 -6.6 0M338.6 254.1a3.3 3.3 0 1 0 6.6 0a3.3 3.3 0 1 0 -6.6 0M338.6 267.9a3.3 3.3 0 1 0 6.6 0a3.3 3.3 0 1 0 -6.6 0M338.9 280.6a3.3 3.3 0 1 0 6.6 0a3.3 3.3 0 1 0 -6.6 0M338.7 255.6a3.3 3.3 0 1 0 6.6 0a3.3 3.3 0 1 0 -6.6 0M339.3 281.4a3.3 3.3 0 1 0 6.6 0a3.3 3.3 0 1 0 -6.6 0M340.4 269.5a3.3 3.3 0 1 0 6.6 0a3.3 3.3 0 1 0 -6.6 0M339.8 272.5a3.3 3.3 0 1 0 6.6 0a3.3 3.3 0 1 0 -6.6 0M341.1 282.7a3.3 3.3 0 1 0 6.6 0a3.3 3.3 0 1 0 -6.6 0M340.5 261.6a3.3 3.3 0 1 0 6.6 0a3.3 3.3 0 1 0 -6.6 0M340.8 271.0a3.3 3.3 0 1 0 6.6 0a3.3 3.3 0 1 0 -6.6 0M341.6 278.7a3.3 3.3 0 1 0 6.6 0a3.3 3.3 0 1 0 -6.6 0M342.8 251.2a3.3 3.3 0 1 0 6.6 0a3.3 3.3 0 1 0 -6.6 0M341.6 250.0a3.3 3.3 0 1 0 6.6 0a3.3 3.3 0 1 0 -6.6 0M343.1 259.6a3.3 3.3 0 1 0 6.6 0a3.3 3.3 0 1 0 -6.6 0M343.6 259.1a3.3 3.3 0 1 0 6.6 0a3.3 3.3 0 1 0 -6.6 0M342.7 257.0a3.3 3.3 0 1 0 6.6 0a3.3 3.3 0 1 0 -6.6 0M343.3 267.9a3.3 3.3 0 1 0 6.6 0a3.3 3.3 0 1 0 -6.6 0M344.5 277.6a3.3 3.3 0 1 0 6.6 0a3.3 3.3 0 1 0 -6.6 0M345.4 255.7a3.3 3.3 0 1 0 6.6 0a3.3 3.3 0 1 0 -6.6 0M345.0 257.2a3.3 3.3 0 1 0 6.6 0a3.3 3.3 0 1 0 -6.6 0M345.7 259.6a3.3 3.3 0 1 0 6.6 0a3.3 3.3 0 1 0 -6.6 0M346.1 270.6a3.3 3.3 0 1 0 6.6 0a3.3 3.3 0 1 0 -6.6 0M346.5 277.0a3.3 3.3 0 1 0 6.6 0a3.3 3.3 0 1 0 -6.6 0M347.1 278.3a3.3 3.3 0 1 0 6.6 0a3.3 3.3 0 1 0 -6.6 0M346.3 271.0a3.3 3.3 0 1 0 6.6 0a3.3 3.3 0 1 0 -6.6 0M347.9 269.0a3.3 3.3 0 1 0 6.6 0a3.3 3.3 0 1 0 -6.6 0M348.2 282.5a3.3 3.3 0 1 0 6.6 0a3.3 3.3 0 1 0 -6.6 0M347.9 255.9a3.3 3.3 0 1 0 6.6 0a3.3 3.3 0 1 0 -6.6 0M348.7 271.6a3.3 3.3 0 1 0 6.6 0a3.3 3.3 0 1 0 -6.6 0M349.1 282.5a3.3 3.3 0 1 0 6.6 0a3.3 3.3 0 1 0 -6.6 0M349.9 277.7a3.3 3.3 0 1 0 6.6 0a3.3 3.3 0 1 0 -6.6 0M349.2 279.5a3.3 3.3 0 1 0 6.6 0a3.3 3.3 0 1 0 -6.6 0M349.6 267.4a3.3 3.3 0 1 0 6.6 0a3.3 3.3 0 1 0 -6.6 0M350.7 253.7a3.3 3.3 0 1 0 6.6 0a3.3 3.3 0 1 0 -6.6 0M351.1 268.9a3.3 3.3 0 1 0 6.6 0a3.3 3.3 0 1 0 -6.6 0M350.7 257.4a3.3 3.3 0 1 0 6.6 0a3.3 3.3 0 1 0 -6.6 0M350.8 276.1a3.3 3.3 0 1 0 6.6 0a3.3 3.3 0 1 0 -6.6 0M352.3 283.5a3.3 3.3 0 1 0 6.6 0a3.3 3.3 0 1 0 -6.6 0M352.1 258.4a3.3 3.3 0 1 0 6.6 0a3.3 3.3 0 1 0 -6.6 0M352.0 264.2a3.3 3.3 0 1 0 6.6 0a3.3 3.3 0 1 0 -6.6 0M353.2 272.4a3.3 3.3 0 1 0 6.6 0a3.3 3.3 0 1 0 -6.6 0M353.8 267.6a3.3 3.3 0 1 0 6.6 0a3.3 3.3 0 1 0 -6.6 0M353.4 282.6a3.3 3.3 0 1 0 6.6 0a3.3 3.3 0 1 0 -6.6 0M353.5 284.5a3.3 3.3 0 1 0 6.6 0a3.3 3.3 0 1 0 -6.6 0M354.4 265.8a3.3 3.3 0 1 0 6.6 0a3.3 3.3 0 1 0 -6.6 0M354.8 276.0a3.3 3.3 0 1 0 6.6 0a3.3 3.3 0 1 0 -6.6 0M354.3 273.5a3.3 3.3 0 1 0 6.6 0a3.3 3.3 0 1 0 -6.6 0M355.3 275.1a3.3 3.3 0 1 0 6.6 0a3.3 3.3 0 1 0 -6.6 0M355.8 263.2a3.3 3.3 0 1 0 6.6 0a3.3 3.3 0 1 0 -6.6 0M356.3 284.5a3.3 3.3 0 1 0 6.6 0a3.3 3.3 0 1 0 -6.6 0M357.3 269.0a3.3 3.3 0 1 0 6.6 0a3.3 3.3 0 1 0 -6.6 0M356.9 283.2a3.3 3.3 0 1 0 6.6 0a3.3 3.3 0 1 0 -6.6 0M357.3 266.4a3.3 3.3 0 1 0 6.6 0a3.3 3.3 0 1 0 -6.6 0M357.9 265.0a3.3 3.3 0 1 0 6.6 0a3.3 3.3 0 1 0 -6.6 0M358.5 267.0a3.3 3.3 0 1 0 6.6 0a3.3 3.3 0 1 0 -6.6 0M358.8 270.4a3.3 3.3 0 1 0 6.6 0a3.3 3.3 0 1 0 -6.6 0M359.0 272.1a3.3 3.3 0 1 0 6.6 0a3.3 3.3 0 1 0 -6.6 0M359.2 270.7a3.3 3.3 0 1 0 6.6 0a3.3 3.3 0 1 0 -6.6 0M359.5 271.9a3.3 3.3 0 1 0 6.6 0a3.3 3.3 0 1 0 -6.6 0M360.0 272.0a3.3 3.3 0 1 0 6.6 0a3.3 3.3 0 1 0 -6.6 0M360.6 282.2a3.3 3.3 0 1 0 6.6 0a3.3 3.3 0 1 0 -6.6 0M360.9 267.8a3.3 3.3 0 1 0 6.6 0a3.3 3.3 0 1 0 -6.6 0M361.5 283.4a3.3 3.3 0 1 0 6.6 0a3.3 3.3 0 1 0 -6.6 0M361.2 283.9a3.3 3.3 0 1 0 6.6 0a3.3 3.3 0 1 0 -6.6 0M361.4 283.1a3.3 3.3 0 1 0 6.6 0a3.3 3.3 0 1 0 -6.6 0M361.6 273.9a3.3 3.3 0 1 0 6.6 0a3.3 3.3 0 1 0 -6.6 0M361.9 272.3a3.3 3.3 0 1 0 6.6 0a3.3 3.3 0 1 0 -6.6 0M363.4 275.2a3.3 3.3 0 1 0 6.6 0a3.3 3.3 0 1 0 -6.6 0M362.6 281.0a3.3 3.3 0 1 0 6.6 0a3.3 3.3 0 1 0 -6.6 0M364.5 277.3a3.3 3.3 0 1 0 6.6 0a3.3 3.3 0 1 0 -6.6 0M364.1 267.1a3.3 3.3 0 1 0 6.6 0a3.3 3.3 0 1 0 -6.6 0M363.8 269.5a3.3 3.3 0 1 0 6.6 0a3.3 3.3 0 1 0 -6.6 0M364.9 266.2a3.3 3.3 0 1 0 6.6 0a3.3 3.3 0 1 0 -6.6 0M364.7 283.8a3.3 3.3 0 1 0 6.6 0a3.3 3.3 0 1 0 -6.6 0M366.3 274.6a3.3 3.3 0 1 0 6.6 0a3.3 3.3 0 1 0 -6.6 0M365.9 270.5a3.3 3.3 0 1 0 6.6 0a3.3 3.3 0 1 0 -6.6 0M366.3 272.8a3.3 3.3 0 1 0 6.6 0a3.3 3.3 0 1 0 -6.6 0M366.9 280.7a3.3 3.3 0 1 0 6.6 0a3.3 3.3 0 1 0 -6.6 0M366.6 279.9a3.3 3.3 0 1 0 6.6 0a3.3 3.3 0 1 0 -6.6 0M367.3 270.9a3.3 3.3 0 1 0 6.6 0a3.3 3.3 0 1 0 -6.6 0M367.0 281.3a3.3 3.3 0 1 0 6.6 0a3.3 3.3 0 1 0 -6.6 0M368.5 277.5a3.3 3.3 0 1 0 6.6 0a3.3 3.3 0 1 0 -6.6 0M368.4 274.7a3.3 3.3 0 1 0 6.6 0a3.3 3.3 0 1 0 -6.6 0M369.7 269.3a3.3 3.3 0 1 0 6.6 0a3.3 3.3 0 1 0 -6.6 0M370.0 281.0a3.3 3.3 0 1 0 6.6 0a3.3 3.3 0 1 0 -6.6 0M370.2 283.6a3.3 3.3 0 1 0 6.6 0a3.3 3.3 0 1 0 -6.6 0M370.7 280.7a3.3 3.3 0 1 0 6.6 0a3.3 3.3 0 1 0 -6.6 0M370.9 279.8a3.3 3.3 0 1 0 6.6 0a3.3 3.3 0 1 0 -6.6 0M370.1 274.1a3.3 3.3 0 1 0 6.6 0a3.3 3.3 0 1 0 -6.6 0M370.4 277.9a3.3 3.3 0 1 0 6.6 0a3.3 3.3 0 1 0 -6.6 0M371.8 281.6a3.3 3.3 0 1 0 6.6 0a3.3 3.3 0 1 0 -6.6 0M371.7 276.4a3.3 3.3 0 1 0 6.6 0a3.3 3.3 0 1 0 -6.6 0M372.4 286.0a3.3 3.3 0 1 0 6.6 0a3.3 3.3 0 1 0 -6.6 0M372.9 280.7a3.3 3.3 0 1 0 6.6 0a3.3 3.3 0 1 0 -6.6 0M373.8 278.9a3.3 3.3 0 1 0 6.6 0a3.3 3.3 0 1 0 -6.6 0M373.0 265.1a3.3 3.3 0 1 0 6.6 0a3.3 3.3 0 1 0 -6.6 0M373.3 266.2a3.3 3.3 0 1 0 6.6 0a3.3 3.3 0 1 0 -6.6 0M373.8 276.1a3.3 3.3 0 1 0 6.6 0a3.3 3.3 0 1 0 -6.6 0M374.6 276.6a3.3 3.3 0 1 0 6.6 0a3.3 3.3 0 1 0 -6.6 0M375.7 281.9a3.3 3.3 0 1 0 6.6 0a3.3 3.3 0 1 0 -6.6 0M374.6 280.8a3.3 3.3 0 1 0 6.6 0a3.3 3.3 0 1 0 -6.6 0M375.0 267.7a3.3 3.3 0 1 0 6.6 0a3.3 3.3 0 1 0 -6.6 0M376.0 276.4a3.3 3.3 0 1 0 6.6 0a3.3 3.3 0 1 0 -6.6 0M375.7 273.5a3.3 3.3 0 1 0 6.6 0a3.3 3.3 0 1 0 -6.6 0M376.8 272.4a3.3 3.3 0 1 0 6.6 0a3.3 3.3 0 1 0 -6.6 0M376.8 276.6a3.3 3.3 0 1 0 6.6 0a3.3 3.3 0 1 0 -6.6 0M377.2 270.9a3.3 3.3 0 1 0 6.6 0a3.3 3.3 0 1 0 -6.6 0M377.1 266.7a3.3 3.3 0 1 0 6.6 0a3.3 3.3 0 1 0 -6.6 0M378.7 284.0a3.3 3.3 0 1 0 6.6 0a3.3 3.3 0 1 0 -6.6 0M379.1 285.4a3.3 3.3 0 1 0 6.6 0a3.3 3.3 0 1 0 -6.6 0M378.4 273.9a3.3 3.3 0 1 0 6.6 0a3.3 3.3 0 1 0 -6.6 0M379.4 270.0a3.3 3.3 0 1 0 6.6 0a3.3 3.3 0 1 0 -6.6 0M379.8 280.3a3.3 3.3 0 1 0 6.6 0a3.3 3.3 0 1 0 -6.6 0M380.1 282.3a3.3 3.3 0 1 0 6.6 0a3.3 3.3 0 1 0 -6.6 0M380.7 276.5a3.3 3.3 0 1 0 6.6 0a3.3 3.3 0 1 0 -6.6 0M380.4 271.9a3.3 3.3 0 1 0 6.6 0a3.3 3.3 0 1 0 -6.6 0M381.2 274.7a3.3 3.3 0 1 0 6.6 0a3.3 3.3 0 1 0 -6.6 0M381.3 274.0a3.3 3.3 0 1 0 6.6 0a3.3 3.3 0 1 0 -6.6 0M382.5 286.2a3.3 3.3 0 1 0 6.6 0a3.3 3.3 0 1 0 -6.6 0M383.1 270.3a3.3 3.3 0 1 0 6.6 0a3.3 3.3 0 1 0 -6.6 0M382.2 281.7a3.3 3.3 0 1 0 6.6 0a3.3 3.3 0 1 0 -6.6 0M383.4 271.0a3.3 3.3 0 1 0 6.6 0a3.3 3.3 0 1 0 -6.6 0M383.8 277.8a3.3 3.3 0 1 0 6.6 0a3.3 3.3 0 1 0 -6.6 0M384.1 269.4a3.3 3.3 0 1 0 6.6 0a3.3 3.3 0 1 0 -6.6 0M383.9 284.5a3.3 3.3 0 1 0 6.6 0a3.3 3.3 0 1 0 -6.6 0M385.3 269.1a3.3 3.3 0 1 0 6.6 0a3.3 3.3 0 1 0 -6.6 0M384.9 267.7a3.3 3.3 0 1 0 6.6 0a3.3 3.3 0 1 0 -6.6 0M385.5 273.5a3.3 3.3 0 1 0 6.6 0a3.3 3.3 0 1 0 -6.6 0M385.9 273.4a3.3 3.3 0 1 0 6.6 0a3.3 3.3 0 1 0 -6.6 0M386.1 277.0a3.3 3.3 0 1 0 6.6 0a3.3 3.3 0 1 0 -6.6 0M387.1 275.4a3.3 3.3 0 1 0 6.6 0a3.3 3.3 0 1 0 -6.6 0M387.1 270.2a3.3 3.3 0 1 0 6.6 0a3.3 3.3 0 1 0 -6.6 0M387.2 278.0a3.3 3.3 0 1 0 6.6 0a3.3 3.3 0 1 0 -6.6 0M387.9 272.6a3.3 3.3 0 1 0 6.6 0a3.3 3.3 0 1 0 -6.6 0M388.1 284.8a3.3 3.3 0 1 0 6.6 0a3.3 3.3 0 1 0 -6.6 0M388.3 268.0a3.3 3.3 0 1 0 6.6 0a3.3 3.3 0 1 0 -6.6 0M389.4 272.7a3.3 3.3 0 1 0 6.6 0a3.3 3.3 0 1 0 -6.6 0M389.1 272.2a3.3 3.3 0 1 0 6.6 0a3.3 3.3 0 1 0 -6.6 0M390.0 275.1a3.3 3.3 0 1 0 6.6 0a3.3 3.3 0 1 0 -6.6 0M389.2 280.9a3.3 3.3 0 1 0 6.6 0a3.3 3.3 0 1 0 -6.6 0M390.6 271.4a3.3 3.3 0 1 0 6.6 0a3.3 3.3 0 1 0 -6.6 0M391.0 268.8a3.3 3.3 0 1 0 6.6 0a3.3 3.3 0 1 0 -6.6 0M391.4 284.9a3.3 3.3 0 1 0 6.6 0a3.3 3.3 0 1 0 -6.6 0M392.1 275.2a3.3 3.3 0 1 0 6.6 0a3.3 3.3 0 1 0 -6.6 0M392.3 272.8a3.3 3.3 0 1 0 6.6 0a3.3 3.3 0 1 0 -6.6 0M392.0 284.4a3.3 3.3 0 1 0 6.6 0a3.3 3.3 0 1 0 -6.6 0M392.1 273.7a3.3 3.3 0 1 0 6.6 0a3.3 3.3 0 1 0 -6.6 0M392.7 274.1a3.3 3.3 0 1 0 6.6 0a3.3 3.3 0 1 0 -6.6 0M392.8 282.4a3.3 3.3 0 1 0 6.6 0a3.3 3.3 0 1 0 -6.6 0M393.7 277.5a3.3 3.3 0 1 0 6.6 0a3.3 3.3 0 1 0 -6.6 0M393.5 284.1a3.3 3.3 0 1 0 6.6 0a3.3 3.3 0 1 0 -6.6 0M394.0 276.8a3.3 3.3 0 1 0 6.6 0a3.3 3.3 0 1 0 -6.6 0M394.9 279.2a3.3 3.3 0 1 0 6.6 0a3.3 3.3 0 1 0 -6.6 0M395.6 279.5a3.3 3.3 0 1 0 6.6 0a3.3 3.3 0 1 0 -6.6 0M394.8 282.7a3.3 3.3 0 1 0 6.6 0a3.3 3.3 0 1 0 -6.6 0M395.2 268.6a3.3 3.3 0 1 0 6.6 0a3.3 3.3 0 1 0 -6.6 0M396.6 270.4a3.3 3.3 0 1 0 6.6 0a3.3 3.3 0 1 0 -6.6 0M396.2 276.4a3.3 3.3 0 1 0 6.6 0a3.3 3.3 0 1 0 -6.6 0M397.4 272.2a3.3 3.3 0 1 0 6.6 0a3.3 3.3 0 1 0 -6.6 0M398.1 275.5a3.3 3.3 0 1 0 6.6 0a3.3 3.3 0 1 0 -6.6 0M397.8 280.2a3.3 3.3 0 1 0 6.6 0a3.3 3.3 0 1 0 -6.6 0M398.8 282.7a3.3 3.3 0 1 0 6.6 0a3.3 3.3 0 1 0 -6.6 0M398.8 282.3a3.3 3.3 0 1 0 6.6 0a3.3 3.3 0 1 0 -6.6 0M399.4 285.6a3.3 3.3 0 1 0 6.6 0a3.3 3.3 0 1 0 -6.6 0M399.5 280.1a3.3 3.3 0 1 0 6.6 0a3.3 3.3 0 1 0 -6.6 0M400.1 273.6a3.3 3.3 0 1 0 6.6 0a3.3 3.3 0 1 0 -6.6 0M399.4 286.3a3.3 3.3 0 1 0 6.6 0a3.3 3.3 0 1 0 -6.6 0M400.2 271.2a3.3 3.3 0 1 0 6.6 0a3.3 3.3 0 1 0 -6.6 0M400.4 265.5a3.3 3.3 0 1 0 6.6 0a3.3 3.3 0 1 0 -6.6 0M400.8 280.0a3.3 3.3 0 1 0 6.6 0a3.3 3.3 0 1 0 -6.6 0M401.0 275.7a3.3 3.3 0 1 0 6.6 0a3.3 3.3 0 1 0 -6.6 0M402.5 267.0a3.3 3.3 0 1 0 6.6 0a3.3 3.3 0 1 0 -6.6 0M401.8 278.7a3.3 3.3 0 1 0 6.6 0a3.3 3.3 0 1 0 -6.6 0M402.2 268.9a3.3 3.3 0 1 0 6.6 0a3.3 3.3 0 1 0 -6.6 0M403.4 276.1a3.3 3.3 0 1 0 6.6 0a3.3 3.3 0 1 0 -6.6 0M403.9 269.3a3.3 3.3 0 1 0 6.6 0a3.3 3.3 0 1 0 -6.6 0M404.4 271.1a3.3 3.3 0 1 0 6.6 0a3.3 3.3 0 1 0 -6.6 0M404.2 274.4a3.3 3.3 0 1 0 6.6 0a3.3 3.3 0 1 0 -6.6 0M404.0 283.6a3.3 3.3 0 1 0 6.6 0a3.3 3.3 0 1 0 -6.6 0M404.7 275.1a3.3 3.3 0 1 0 6.6 0a3.3 3.3 0 1 0 -6.6 0M404.9 278.4a3.3 3.3 0 1 0 6.6 0a3.3 3.3 0 1 0 -6.6 0M405.2 272.9a3.3 3.3 0 1 0 6.6 0a3.3 3.3 0 1 0 -6.6 0M406.5 277.1a3.3 3.3 0 1 0 6.6 0a3.3 3.3 0 1 0 -6.6 0M405.8 269.6a3.3 3.3 0 1 0 6.6 0a3.3 3.3 0 1 0 -6.6 0M407.3 277.7a3.3 3.3 0 1 0 6.6 0a3.3 3.3 0 1 0 -6.6 0M407.9 270.6a3.3 3.3 0 1 0 6.6 0a3.3 3.3 0 1 0 -6.6 0M407.9 282.5a3.3 3.3 0 1 0 6.6 0a3.3 3.3 0 1 0 -6.6 0M408.4 274.2a3.3 3.3 0 1 0 6.6 0a3.3 3.3 0 1 0 -6.6 0M407.6 273.6a3.3 3.3 0 1 0 6.6 0a3.3 3.3 0 1 0 -6.6 0M409.3 283.0a3.3 3.3 0 1 0 6.6 0a3.3 3.3 0 1 0 -6.6 0M408.7 272.3a3.3 3.3 0 1 0 6.6 0a3.3 3.3 0 1 0 -6.6 0M410.0 274.6a3.3 3.3 0 1 0 6.6 0a3.3 3.3 0 1 0 -6.6 0M409.8 265.7a3.3 3.3 0 1 0 6.6 0a3.3 3.3 0 1 0 -6.6 0M410.6 269.4a3.3 3.3 0 1 0 6.6 0a3.3 3.3 0 1 0 -6.6 0M409.8 273.4a3.3 3.3 0 1 0 6.6 0a3.3 3.3 0 1 0 -6.6 0M411.2 278.7a3.3 3.3 0 1 0 6.6 0a3.3 3.3 0 1 0 -6.6 0M410.6 273.1a3.3 3.3 0 1 0 6.6 0a3.3 3.3 0 1 0 -6.6 0M412.3 277.8a3.3 3.3 0 1 0 6.6 0a3.3 3.3 0 1 0 -6.6 0M411.2 279.3a3.3 3.3 0 1 0 6.6 0a3.3 3.3 0 1 0 -6.6 0M411.9 272.9a3.3 3.3 0 1 0 6.6 0a3.3 3.3 0 1 0 -6.6 0M411.9 281.5a3.3 3.3 0 1 0 6.6 0a3.3 3.3 0 1 0 -6.6 0M412.6 268.6a3.3 3.3 0 1 0 6.6 0a3.3 3.3 0 1 0 -6.6 0M413.3 268.7a3.3 3.3 0 1 0 6.6 0a3.3 3.3 0 1 0 -6.6 0M413.6 278.0a3.3 3.3 0 1 0 6.6 0a3.3 3.3 0 1 0 -6.6 0M413.8 274.5a3.3 3.3 0 1 0 6.6 0a3.3 3.3 0 1 0 -6.6 0M415.3 279.4a3.3 3.3 0 1 0 6.6 0a3.3 3.3 0 1 0 -6.6 0M414.7 263.2a3.3 3.3 0 1 0 6.6 0a3.3 3.3 0 1 0 -6.6 0M414.8 278.6a3.3 3.3 0 1 0 6.6 0a3.3 3.3 0 1 0 -6.6 0M415.2 282.3a3.3 3.3 0 1 0 6.6 0a3.3 3.3 0 1 0 -6.6 0M416.2 265.5a3.3 3.3 0 1 0 6.6 0a3.3 3.3 0 1 0 -6.6 0M415.9 262.4a3.3 3.3 0 1 0 6.6 0a3.3 3.3 0 1 0 -6.6 0M417.5 273.6a3.3 3.3 0 1 0 6.6 0a3.3 3.3 0 1 0 -6.6 0M417.4 281.8a3.3 3.3 0 1 0 6.6 0a3.3 3.3 0 1 0 -6.6 0M417.4 271.0a3.3 3.3 0 1 0 6.6 0a3.3 3.3 0 1 0 -6.6 0M417.2 278.6a3.3 3.3 0 1 0 6.6 0a3.3 3.3 0 1 0 -6.6 0M419.1 277.4a3.3 3.3 0 1 0 6.6 0a3.3 3.3 0 1 0 -6.6 0M418.9 268.8a3.3 3.3 0 1 0 6.6 0a3.3 3.3 0 1 0 -6.6 0M419.3 271.6a3.3 3.3 0 1 0 6.6 0a3.3 3.3 0 1 0 -6.6 0M419.9 276.1a3.3 3.3 0 1 0 6.6 0a3.3 3.3 0 1 0 -6.6 0M419.3 283.9a3.3 3.3 0 1 0 6.6 0a3.3 3.3 0 1 0 -6.6 0M420.3 273.1a3.3 3.3 0 1 0 6.6 0a3.3 3.3 0 1 0 -6.6 0M420.0 286.1a3.3 3.3 0 1 0 6.6 0a3.3 3.3 0 1 0 -6.6 0M421.0 282.0a3.3 3.3 0 1 0 6.6 0a3.3 3.3 0 1 0 -6.6 0M420.8 276.4a3.3 3.3 0 1 0 6.6 0a3.3 3.3 0 1 0 -6.6 0M421.2 270.3a3.3 3.3 0 1 0 6.6 0a3.3 3.3 0 1 0 -6.6 0M422.4 284.7a3.3 3.3 0 1 0 6.6 0a3.3 3.3 0 1 0 -6.6 0M422.2 261.4a3.3 3.3 0 1 0 6.6 0a3.3 3.3 0 1 0 -6.6 0M423.6 278.5a3.3 3.3 0 1 0 6.6 0a3.3 3.3 0 1 0 -6.6 0M423.3 264.7a3.3 3.3 0 1 0 6.6 0a3.3 3.3 0 1 0 -6.6 0M424.2 281.3a3.3 3.3 0 1 0 6.6 0a3.3 3.3 0 1 0 -6.6 0M424.1 273.2a3.3 3.3 0 1 0 6.6 0a3.3 3.3 0 1 0 -6.6 0M424.9 277.5a3.3 3.3 0 1 0 6.6 0a3.3 3.3 0 1 0 -6.6 0M424.2 258.1a3.3 3.3 0 1 0 6.6 0a3.3 3.3 0 1 0 -6.6 0M424.3 285.9a3.3 3.3 0 1 0 6.6 0a3.3 3.3 0 1 0 -6.6 0M425.7 276.3a3.3 3.3 0 1 0 6.6 0a3.3 3.3 0 1 0 -6.6 0M426.2 273.5a3.3 3.3 0 1 0 6.6 0a3.3 3.3 0 1 0 -6.6 0M426.7 264.5a3.3 3.3 0 1 0 6.6 0a3.3 3.3 0 1 0 -6.6 0M426.0 272.9a3.3 3.3 0 1 0 6.6 0a3.3 3.3 0 1 0 -6.6 0M426.4 262.3a3.3 3.3 0 1 0 6.6 0a3.3 3.3 0 1 0 -6.6 0M427.4 274.9a3.3 3.3 0 1 0 6.6 0a3.3 3.3 0 1 0 -6.6 0M426.9 257.8a3.3 3.3 0 1 0 6.6 0a3.3 3.3 0 1 0 -6.6 0M428.8 269.3a3.3 3.3 0 1 0 6.6 0a3.3 3.3 0 1 0 -6.6 0M428.3 276.7a3.3 3.3 0 1 0 6.6 0a3.3 3.3 0 1 0 -6.6 0M429.2 270.1a3.3 3.3 0 1 0 6.6 0a3.3 3.3 0 1 0 -6.6 0M430.0 282.9a3.3 3.3 0 1 0 6.6 0a3.3 3.3 0 1 0 -6.6 0M429.4 272.9a3.3 3.3 0 1 0 6.6 0a3.3 3.3 0 1 0 -6.6 0M430.6 272.1a3.3 3.3 0 1 0 6.6 0a3.3 3.3 0 1 0 -6.6 0M430.2 265.1a3.3 3.3 0 1 0 6.6 0a3.3 3.3 0 1 0 -6.6 0M430.0 284.5a3.3 3.3 0 1 0 6.6 0a3.3 3.3 0 1 0 -6.6 0M431.4 279.9a3.3 3.3 0 1 0 6.6 0a3.3 3.3 0 1 0 -6.6 0M431.1 257.5a3.3 3.3 0 1 0 6.6 0a3.3 3.3 0 1 0 -6.6 0M431.2 271.7a3.3 3.3 0 1 0 6.6 0a3.3 3.3 0 1 0 -6.6 0M432.0 275.6a3.3 3.3 0 1 0 6.6 0a3.3 3.3 0 1 0 -6.6 0M432.1 268.8a3.3 3.3 0 1 0 6.6 0a3.3 3.3 0 1 0 -6.6 0M432.5 286.2a3.3 3.3 0 1 0 6.6 0a3.3 3.3 0 1 0 -6.6 0M433.6 270.5a3.3 3.3 0 1 0 6.6 0a3.3 3.3 0 1 0 -6.6 0M434.2 278.0a3.3 3.3 0 1 0 6.6 0a3.3 3.3 0 1 0 -6.6 0M434.7 272.2a3.3 3.3 0 1 0 6.6 0a3.3 3.3 0 1 0 -6.6 0M434.5 258.3a3.3 3.3 0 1 0 6.6 0a3.3 3.3 0 1 0 -6.6 0M434.4 264.1a3.3 3.3 0 1 0 6.6 0a3.3 3.3 0 1 0 -6.6 0M435.8 271.0a3.3 3.3 0 1 0 6.6 0a3.3 3.3 0 1 0 -6.6 0M435.3 260.3a3.3 3.3 0 1 0 6.6 0a3.3 3.3 0 1 0 -6.6 0M435.2 268.0a3.3 3.3 0 1 0 6.6 0a3.3 3.3 0 1 0 -6.6 0M436.3 288.2a3.3 3.3 0 1 0 6.6 0a3.3 3.3 0 1 0 -6.6 0M436.6 277.6a3.3 3.3 0 1 0 6.6 0a3.3 3.3 0 1 0 -6.6 0M437.7 277.6a3.3 3.3 0 1 0 6.6 0a3.3 3.3 0 1 0 -6.6 0M437.4 287.4a3.3 3.3 0 1 0 6.6 0a3.3 3.3 0 1 0 -6.6 0M437.3 265.8a3.3 3.3 0 1 0 6.6 0a3.3 3.3 0 1 0 -6.6 0M438.8 273.0a3.3 3.3 0 1 0 6.6 0a3.3 3.3 0 1 0 -6.6 0M438.2 285.7a3.3 3.3 0 1 0 6.6 0a3.3 3.3 0 1 0 -6.6 0M439.2 284.5a3.3 3.3 0 1 0 6.6 0a3.3 3.3 0 1 0 -6.6 0M439.2 269.0a3.3 3.3 0 1 0 6.6 0a3.3 3.3 0 1 0 -6.6 0M440.0 267.8a3.3 3.3 0 1 0 6.6 0a3.3 3.3 0 1 0 -6.6 0M440.3 272.5a3.3 3.3 0 1 0 6.6 0a3.3 3.3 0 1 0 -6.6 0M440.7 278.7a3.3 3.3 0 1 0 6.6 0a3.3 3.3 0 1 0 -6.6 0M440.3 287.9a3.3 3.3 0 1 0 6.6 0a3.3 3.3 0 1 0 -6.6 0M441.4 272.9a3.3 3.3 0 1 0 6.6 0a3.3 3.3 0 1 0 -6.6 0M442.3 277.7a3.3 3.3 0 1 0 6.6 0a3.3 3.3 0 1 0 -6.6 0M441.9 275.3a3.3 3.3 0 1 0 6.6 0a3.3 3.3 0 1 0 -6.6 0M441.9 265.6a3.3 3.3 0 1 0 6.6 0a3.3 3.3 0 1 0 -6.6 0M442.3 270.2a3.3 3.3 0 1 0 6.6 0a3.3 3.3 0 1 0 -6.6 0M442.7 268.8a3.3 3.3 0 1 0 6.6 0a3.3 3.3 0 1 0 -6.6 0M444.0 265.6a3.3 3.3 0 1 0 6.6 0a3.3 3.3 0 1 0 -6.6 0M443.7 274.6a3.3 3.3 0 1 0 6.6 0a3.3 3.3 0 1 0 -6.6 0M444.8 269.9a3.3 3.3 0 1 0 6.6 0a3.3 3.3 0 1 0 -6.6 0M444.6 274.4a3.3 3.3 0 1 0 6.6 0a3.3 3.3 0 1 0 -6.6 0M445.1 278.7a3.3 3.3 0 1 0 6.6 0a3.3 3.3 0 1 0 -6.6 0M445.3 283.1a3.3 3.3 0 1 0 6.6 0a3.3 3.3 0 1 0 -6.6 0M445.7 270.2a3.3 3.3 0 1 0 6.6 0a3.3 3.3 0 1 0 -6.6 0M446.5 276.9a3.3 3.3 0 1 0 6.6 0a3.3 3.3 0 1 0 -6.6 0M446.3 286.0a3.3 3.3 0 1 0 6.6 0a3.3 3.3 0 1 0 -6.6 0M447.2 275.5a3.3 3.3 0 1 0 6.6 0a3.3 3.3 0 1 0 -6.6 0M447.3 267.5a3.3 3.3 0 1 0 6.6 0a3.3 3.3 0 1 0 -6.6 0M447.7 281.0a3.3 3.3 0 1 0 6.6 0a3.3 3.3 0 1 0 -6.6 0M448.5 269.1a3.3 3.3 0 1 0 6.6 0a3.3 3.3 0 1 0 -6.6 0M448.3 277.9a3.3 3.3 0 1 0 6.6 0a3.3 3.3 0 1 0 -6.6 0M448.3 268.7a3.3 3.3 0 1 0 6.6 0a3.3 3.3 0 1 0 -6.6 0M449.7 280.7a3.3 3.3 0 1 0 6.6 0a3.3 3.3 0 1 0 -6.6 0M449.8 272.9a3.3 3.3 0 1 0 6.6 0a3.3 3.3 0 1 0 -6.6 0M449.0 282.5a3.3 3.3 0 1 0 6.6 0a3.3 3.3 0 1 0 -6.6 0M450.2 275.7a3.3 3.3 0 1 0 6.6 0a3.3 3.3 0 1 0 -6.6 0M451.0 272.7a3.3 3.3 0 1 0 6.6 0a3.3 3.3 0 1 0 -6.6 0M451.2 287.0a3.3 3.3 0 1 0 6.6 0a3.3 3.3 0 1 0 -6.6 0M450.5 276.5a3.3 3.3 0 1 0 6.6 0a3.3 3.3 0 1 0 -6.6 0M451.2 268.7a3.3 3.3 0 1 0 6.6 0a3.3 3.3 0 1 0 -6.6 0M452.0 292.0a3.3 3.3 0 1 0 6.6 0a3.3 3.3 0 1 0 -6.6 0M451.8 286.1a3.3 3.3 0 1 0 6.6 0a3.3 3.3 0 1 0 -6.6 0M452.0 280.5a3.3 3.3 0 1 0 6.6 0a3.3 3.3 0 1 0 -6.6 0M452.9 274.2a3.3 3.3 0 1 0 6.6 0a3.3 3.3 0 1 0 -6.6 0M452.7 286.7a3.3 3.3 0 1 0 6.6 0a3.3 3.3 0 1 0 -6.6 0M454.2 278.2a3.3 3.3 0 1 0 6.6 0a3.3 3.3 0 1 0 -6.6 0M453.8 291.0a3.3 3.3 0 1 0 6.6 0a3.3 3.3 0 1 0 -6.6 0M454.4 292.3a3.3 3.3 0 1 0 6.6 0a3.3 3.3 0 1 0 -6.6 0M455.2 281.4a3.3 3.3 0 1 0 6.6 0a3.3 3.3 0 1 0 -6.6 0M454.7 285.4a3.3 3.3 0 1 0 6.6 0a3.3 3.3 0 1 0 -6.6 0M456.3 290.4a3.3 3.3 0 1 0 6.6 0a3.3 3.3 0 1 0 -6.6 0M456.1 289.3a3.3 3.3 0 1 0 6.6 0a3.3 3.3 0 1 0 -6.6 0M456.3 274.1a3.3 3.3 0 1 0 6.6 0a3.3 3.3 0 1 0 -6.6 0M456.6 277.6a3.3 3.3 0 1 0 6.6 0a3.3 3.3 0 1 0 -6.6 0M456.8 278.4a3.3 3.3 0 1 0 6.6 0a3.3 3.3 0 1 0 -6.6 0M457.5 285.6a3.3 3.3 0 1 0 6.6 0a3.3 3.3 0 1 0 -6.6 0M458.6 274.9a3.3 3.3 0 1 0 6.6 0a3.3 3.3 0 1 0 -6.6 0M458.7 276.1a3.3 3.3 0 1 0 6.6 0a3.3 3.3 0 1 0 -6.6 0M458.0 277.2a3.3 3.3 0 1 0 6.6 0a3.3 3.3 0 1 0 -6.6 0M459.8 276.1a3.3 3.3 0 1 0 6.6 0a3.3 3.3 0 1 0 -6.6 0M459.3 285.1a3.3 3.3 0 1 0 6.6 0a3.3 3.3 0 1 0 -6.6 0M460.3 291.5a3.3 3.3 0 1 0 6.6 0a3.3 3.3 0 1 0 -6.6 0M459.5 278.8a3.3 3.3 0 1 0 6.6 0a3.3 3.3 0 1 0 -6.6 0M459.9 277.5a3.3 3.3 0 1 0 6.6 0a3.3 3.3 0 1 0 -6.6 0M461.4 271.2a3.3 3.3 0 1 0 6.6 0a3.3 3.3 0 1 0 -6.6 0M461.2 272.1a3.3 3.3 0 1 0 6.6 0a3.3 3.3 0 1 0 -6.6 0M461.9 278.7a3.3 3.3 0 1 0 6.6 0a3.3 3.3 0 1 0 -6.6 0M462.2 281.5a3.3 3.3 0 1 0 6.6 0a3.3 3.3 0 1 0 -6.6 0M462.8 273.5a3.3 3.3 0 1 0 6.6 0a3.3 3.3 0 1 0 -6.6 0M462.4 283.4a3.3 3.3 0 1 0 6.6 0a3.3 3.3 0 1 0 -6.6 0M463.0 275.5a3.3 3.3 0 1 0 6.6 0a3.3 3.3 0 1 0 -6.6 0M463.3 275.2a3.3 3.3 0 1 0 6.6 0a3.3 3.3 0 1 0 -6.6 0M463.2 284.4a3.3 3.3 0 1 0 6.6 0a3.3 3.3 0 1 0 -6.6 0M464.8 277.4a3.3 3.3 0 1 0 6.6 0a3.3 3.3 0 1 0 -6.6 0M465.0 275.5a3.3 3.3 0 1 0 6.6 0a3.3 3.3 0 1 0 -6.6 0M465.4 293.3a3.3 3.3 0 1 0 6.6 0a3.3 3.3 0 1 0 -6.6 0M466.1 279.1a3.3 3.3 0 1 0 6.6 0a3.3 3.3 0 1 0 -6.6 0M465.7 271.8a3.3 3.3 0 1 0 6.6 0a3.3 3.3 0 1 0 -6.6 0M466.0 282.3a3.3 3.3 0 1 0 6.6 0a3.3 3.3 0 1 0 -6.6 0M466.2 281.0a3.3 3.3 0 1 0 6.6 0a3.3 3.3 0 1 0 -6.6 0M466.4 276.2a3.3 3.3 0 1 0 6.6 0a3.3 3.3 0 1 0 -6.6 0M466.7 280.6a3.3 3.3 0 1 0 6.6 0a3.3 3.3 0 1 0 -6.6 0M467.2 287.6a3.3 3.3 0 1 0 6.6 0a3.3 3.3 0 1 0 -6.6 0M468.2 272.9a3.3 3.3 0 1 0 6.6 0a3.3 3.3 0 1 0 -6.6 0M468.3 273.9a3.3 3.3 0 1 0 6.6 0a3.3 3.3 0 1 0 -6.6 0M468.7 284.9a3.3 3.3 0 1 0 6.6 0a3.3 3.3 0 1 0 -6.6 0M469.2 279.0a3.3 3.3 0 1 0 6.6 0a3.3 3.3 0 1 0 -6.6 0M468.8 292.7a3.3 3.3 0 1 0 6.6 0a3.3 3.3 0 1 0 -6.6 0M470.1 283.5a3.3 3.3 0 1 0 6.6 0a3.3 3.3 0 1 0 -6.6 0M470.3 294.5a3.3 3.3 0 1 0 6.6 0a3.3 3.3 0 1 0 -6.6 0M470.5 294.3a3.3 3.3 0 1 0 6.6 0a3.3 3.3 0 1 0 -6.6 0M471.5 288.4a3.3 3.3 0 1 0 6.6 0a3.3 3.3 0 1 0 -6.6 0M471.3 281.6a3.3 3.3 0 1 0 6.6 0a3.3 3.3 0 1 0 -6.6 0M472.4 284.6a3.3 3.3 0 1 0 6.6 0a3.3 3.3 0 1 0 -6.6 0M472.9 283.9a3.3 3.3 0 1 0 6.6 0a3.3 3.3 0 1 0 -6.6 0M472.3 295.5a3.3 3.3 0 1 0 6.6 0a3.3 3.3 0 1 0 -6.6 0M472.4 285.9a3.3 3.3 0 1 0 6.6 0a3.3 3.3 0 1 0 -6.6 0M472.9 286.6a3.3 3.3 0 1 0 6.6 0a3.3 3.3 0 1 0 -6.6 0M473.3 290.1a3.3 3.3 0 1 0 6.6 0a3.3 3.3 0 1 0 -6.6 0M474.1 289.1a3.3 3.3 0 1 0 6.6 0a3.3 3.3 0 1 0 -6.6 0M475.0 285.9a3.3 3.3 0 1 0 6.6 0a3.3 3.3 0 1 0 -6.6 0M474.6 285.4a3.3 3.3 0 1 0 6.6 0a3.3 3.3 0 1 0 -6.6 0M475.5 291.6a3.3 3.3 0 1 0 6.6 0a3.3 3.3 0 1 0 -6.6 0M476.3 283.5a3.3 3.3 0 1 0 6.6 0a3.3 3.3 0 1 0 -6.6 0M476.1 289.8a3.3 3.3 0 1 0 6.6 0a3.3 3.3 0 1 0 -6.6 0M476.1 291.0a3.3 3.3 0 1 0 6.6 0a3.3 3.3 0 1 0 -6.6 0M476.3 284.9a3.3 3.3 0 1 0 6.6 0a3.3 3.3 0 1 0 -6.6 0M477.1 282.3a3.3 3.3 0 1 0 6.6 0a3.3 3.3 0 1 0 -6.6 0M476.8 282.9a3.3 3.3 0 1 0 6.6 0a3.3 3.3 0 1 0 -6.6 0M477.7 288.8a3.3 3.3 0 1 0 6.6 0a3.3 3.3 0 1 0 -6.6 0M477.6 294.8a3.3 3.3 0 1 0 6.6 0a3.3 3.3 0 1 0 -6.6 0M477.8 291.5a3.3 3.3 0 1 0 6.6 0a3.3 3.3 0 1 0 -6.6 0M478.8 285.6a3.3 3.3 0 1 0 6.6 0a3.3 3.3 0 1 0 -6.6 0M479.7 287.1a3.3 3.3 0 1 0 6.6 0a3.3 3.3 0 1 0 -6.6 0M480.1 294.4a3.3 3.3 0 1 0 6.6 0a3.3 3.3 0 1 0 -6.6 0M480.2 292.7a3.3 3.3 0 1 0 6.6 0a3.3 3.3 0 1 0 -6.6 0M480.6 294.1a3.3 3.3 0 1 0 6.6 0a3.3 3.3 0 1 0 -6.6 0M480.2 292.1a3.3 3.3 0 1 0 6.6 0a3.3 3.3 0 1 0 -6.6 0M480.7 286.9a3.3 3.3 0 1 0 6.6 0a3.3 3.3 0 1 0 -6.6 0M482.3 284.9a3.3 3.3 0 1 0 6.6 0a3.3 3.3 0 1 0 -6.6 0M482.2 291.9a3.3 3.3 0 1 0 6.6 0a3.3 3.3 0 1 0 -6.6 0M482.1 297.0a3.3 3.3 0 1 0 6.6 0a3.3 3.3 0 1 0 -6.6 0M482.0 284.6a3.3 3.3 0 1 0 6.6 0a3.3 3.3 0 1 0 -6.6 0M482.3 295.2a3.3 3.3 0 1 0 6.6 0a3.3 3.3 0 1 0 -6.6 0M482.8 283.6a3.3 3.3 0 1 0 6.6 0a3.3 3.3 0 1 0 -6.6 0M483.9 288.7a3.3 3.3 0 1 0 6.6 0a3.3 3.3 0 1 0 -6.6 0M483.9 295.1a3.3 3.3 0 1 0 6.6 0a3.3 3.3 0 1 0 -6.6 0M484.2 292.1a3.3 3.3 0 1 0 6.6 0a3.3 3.3 0 1 0 -6.6 0M485.3 289.2a3.3 3.3 0 1 0 6.6 0a3.3 3.3 0 1 0 -6.6 0M485.6 294.8a3.3 3.3 0 1 0 6.6 0a3.3 3.3 0 1 0 -6.6 0M485.1 290.9a3.3 3.3 0 1 0 6.6 0a3.3 3.3 0 1 0 -6.6 0M485.6 285.7a3.3 3.3 0 1 0 6.6 0a3.3 3.3 0 1 0 -6.6 0M486.1 289.0a3.3 3.3 0 1 0 6.6 0a3.3 3.3 0 1 0 -6.6 0M487.0 289.1a3.3 3.3 0 1 0 6.6 0a3.3 3.3 0 1 0 -6.6 0M486.9 285.3a3.3 3.3 0 1 0 6.6 0a3.3 3.3 0 1 0 -6.6 0M488.2 285.6a3.3 3.3 0 1 0 6.6 0a3.3 3.3 0 1 0 -6.6 0M487.4 297.5a3.3 3.3 0 1 0 6.6 0a3.3 3.3 0 1 0 -6.6 0M487.8 290.9a3.3 3.3 0 1 0 6.6 0a3.3 3.3 0 1 0 -6.6 0M488.5 289.7a3.3 3.3 0 1 0 6.6 0a3.3 3.3 0 1 0 -6.6 0M488.3 293.1a3.3 3.3 0 1 0 6.6 0a3.3 3.3 0 1 0 -6.6 0M489.6 296.4a3.3 3.3 0 1 0 6.6 0a3.3 3.3 0 1 0 -6.6 0M490.6 295.5a3.3 3.3 0 1 0 6.6 0a3.3 3.3 0 1 0 -6.6 0M490.5 286.0a3.3 3.3 0 1 0 6.6 0a3.3 3.3 0 1 0 -6.6 0M489.9 291.9a3.3 3.3 0 1 0 6.6 0a3.3 3.3 0 1 0 -6.6 0M490.6 284.8a3.3 3.3 0 1 0 6.6 0a3.3 3.3 0 1 0 -6.6 0M490.8 284.8a3.3 3.3 0 1 0 6.6 0a3.3 3.3 0 1 0 -6.6 0M491.7 295.0a3.3 3.3 0 1 0 6.6 0a3.3 3.3 0 1 0 -6.6 0M492.4 295.2a3.3 3.3 0 1 0 6.6 0a3.3 3.3 0 1 0 -6.6 0M492.9 297.6a3.3 3.3 0 1 0 6.6 0a3.3 3.3 0 1 0 -6.6 0M492.1 290.0a3.3 3.3 0 1 0 6.6 0a3.3 3.3 0 1 0 -6.6 0M493.5 290.9a3.3 3.3 0 1 0 6.6 0a3.3 3.3 0 1 0 -6.6 0M493.6 289.8a3.3 3.3 0 1 0 6.6 0a3.3 3.3 0 1 0 -6.6 0M494.1 289.6a3.3 3.3 0 1 0 6.6 0a3.3 3.3 0 1 0 -6.6 0M494.5 288.5a3.3 3.3 0 1 0 6.6 0a3.3 3.3 0 1 0 -6.6 0M495.3 286.2a3.3 3.3 0 1 0 6.6 0a3.3 3.3 0 1 0 -6.6 0M494.8 287.7a3.3 3.3 0 1 0 6.6 0a3.3 3.3 0 1 0 -6.6 0M495.8 293.8a3.3 3.3 0 1 0 6.6 0a3.3 3.3 0 1 0 -6.6 0M495.3 288.1a3.3 3.3 0 1 0 6.6 0a3.3 3.3 0 1 0 -6.6 0M496.0 290.9a3.3 3.3 0 1 0 6.6 0a3.3 3.3 0 1 0 -6.6 0M496.2 297.4a3.3 3.3 0 1 0 6.6 0a3.3 3.3 0 1 0 -6.6 0M496.4 289.2a3.3 3.3 0 1 0 6.6 0a3.3 3.3 0 1 0 -6.6 0M497.7 294.3a3.3 3.3 0 1 0 6.6 0a3.3 3.3 0 1 0 -6.6 0M498.4 292.3a3.3 3.3 0 1 0 6.6 0a3.3 3.3 0 1 0 -6.6 0M497.5 295.6a3.3 3.3 0 1 0 6.6 0a3.3 3.3 0 1 0 -6.6 0M498.1 293.8a3.3 3.3 0 1 0 6.6 0a3.3 3.3 0 1 0 -6.6 0M498.2 290.0a3.3 3.3 0 1 0 6.6 0a3.3 3.3 0 1 0 -6.6 0M499.4 294.9a3.3 3.3 0 1 0 6.6 0a3.3 3.3 0 1 0 -6.6 0M500.1 291.7a3.3 3.3 0 1 0 6.6 0a3.3 3.3 0 1 0 -6.6 0M500.0 295.1a3.3 3.3 0 1 0 6.6 0a3.3 3.3 0 1 0 -6.6 0M500.2 290.6a3.3 3.3 0 1 0 6.6 0a3.3 3.3 0 1 0 -6.6 0M500.4 292.8a3.3 3.3 0 1 0 6.6 0a3.3 3.3 0 1 0 -6.6 0M501.0 292.2a3.3 3.3 0 1 0 6.6 0a3.3 3.3 0 1 0 -6.6 0M501.5 297.4a3.3 3.3 0 1 0 6.6 0a3.3 3.3 0 1 0 -6.6 0M501.2 298.1a3.3 3.3 0 1 0 6.6 0a3.3 3.3 0 1 0 -6.6 0M502.5 294.9a3.3 3.3 0 1 0 6.6 0a3.3 3.3 0 1 0 -6.6 0M503.3 296.6a3.3 3.3 0 1 0 6.6 0a3.3 3.3 0 1 0 -6.6 0M502.3 291.7a3.3 3.3 0 1 0 6.6 0a3.3 3.3 0 1 0 -6.6 0M502.8 293.7a3.3 3.3 0 1 0 6.6 0a3.3 3.3 0 1 0 -6.6 0M504.3 295.8a3.3 3.3 0 1 0 6.6 0a3.3 3.3 0 1 0 -6.6 0M504.0 286.2a3.3 3.3 0 1 0 6.6 0a3.3 3.3 0 1 0 -6.6 0M505.0 288.7a3.3 3.3 0 1 0 6.6 0a3.3 3.3 0 1 0 -6.6 0M505.2 292.4a3.3 3.3 0 1 0 6.6 0a3.3 3.3 0 1 0 -6.6 0M505.7 291.5a3.3 3.3 0 1 0 6.6 0a3.3 3.3 0 1 0 -6.6 0M504.8 295.6a3.3 3.3 0 1 0 6.6 0a3.3 3.3 0 1 0 -6.6 0M505.9 296.2a3.3 3.3 0 1 0 6.6 0a3.3 3.3 0 1 0 -6.6 0M506.7 297.3a3.3 3.3 0 1 0 6.6 0a3.3 3.3 0 1 0 -6.6 0M507.1 288.6a3.3 3.3 0 1 0 6.6 0a3.3 3.3 0 1 0 -6.6 0M506.2 296.7a3.3 3.3 0 1 0 6.6 0a3.3 3.3 0 1 0 -6.6 0M507.9 289.3a3.3 3.3 0 1 0 6.6 0a3.3 3.3 0 1 0 -6.6 0M508.3 297.2a3.3 3.3 0 1 0 6.6 0a3.3 3.3 0 1 0 -6.6 0M507.4 288.2a3.3 3.3 0 1 0 6.6 0a3.3 3.3 0 1 0 -6.6 0M508.7 294.9a3.3 3.3 0 1 0 6.6 0a3.3 3.3 0 1 0 -6.6 0M508.4 291.2a3.3 3.3 0 1 0 6.6 0a3.3 3.3 0 1 0 -6.6 0M508.5 289.7a3.3 3.3 0 1 0 6.6 0a3.3 3.3 0 1 0 -6.6 0M509.8 293.9a3.3 3.3 0 1 0 6.6 0a3.3 3.3 0 1 0 -6.6 0M509.5 293.1a3.3 3.3 0 1 0 6.6 0a3.3 3.3 0 1 0 -6.6 0M509.8 295.5a3.3 3.3 0 1 0 6.6 0a3.3 3.3 0 1 0 -6.6 0M510.5 296.4a3.3 3.3 0 1 0 6.6 0a3.3 3.3 0 1 0 -6.6 0M511.5 289.8a3.3 3.3 0 1 0 6.6 0a3.3 3.3 0 1 0 -6.6 0M511.3 292.5a3.3 3.3 0 1 0 6.6 0a3.3 3.3 0 1 0 -6.6 0M512.4 291.6a3.3 3.3 0 1 0 6.6 0a3.3 3.3 0 1 0 -6.6 0M512.2 290.3a3.3 3.3 0 1 0 6.6 0a3.3 3.3 0 1 0 -6.6 0M512.9 291.3a3.3 3.3 0 1 0 6.6 0a3.3 3.3 0 1 0 -6.6 0M513.6 295.3a3.3 3.3 0 1 0 6.6 0a3.3 3.3 0 1 0 -6.6 0M513.3 290.8a3.3 3.3 0 1 0 6.6 0a3.3 3.3 0 1 0 -6.6 0M514.1 291.6a3.3 3.3 0 1 0 6.6 0a3.3 3.3 0 1 0 -6.6 0M513.4 289.6a3.3 3.3 0 1 0 6.6 0a3.3 3.3 0 1 0 -6.6 0M514.4 289.8a3.3 3.3 0 1 0 6.6 0a3.3 3.3 0 1 0 -6.6 0M515.2 289.2a3.3 3.3 0 1 0 6.6 0a3.3 3.3 0 1 0 -6.6 0M515.1 293.1a3.3 3.3 0 1 0 6.6 0a3.3 3.3 0 1 0 -6.6 0M515.5 296.0a3.3 3.3 0 1 0 6.6 0a3.3 3.3 0 1 0 -6.6 0M516.5 292.8a3.3 3.3 0 1 0 6.6 0a3.3 3.3 0 1 0 -6.6 0M515.7 287.5a3.3 3.3 0 1 0 6.6 0a3.3 3.3 0 1 0 -6.6 0M516.5 294.8a3.3 3.3 0 1 0 6.6 0a3.3 3.3 0 1 0 -6.6 0M517.4 296.8a3.3 3.3 0 1 0 6.6 0a3.3 3.3 0 1 0 -6.6 0M518.2 292.9a3.3 3.3 0 1 0 6.6 0a3.3 3.3 0 1 0 -6.6 0M517.6 290.2a3.3 3.3 0 1 0 6.6 0a3.3 3.3 0 1 0 -6.6 0M518.5 297.5a3.3 3.3 0 1 0 6.6 0a3.3 3.3 0 1 0 -6.6 0M519.4 291.2a3.3 3.3 0 1 0 6.6 0a3.3 3.3 0 1 0 -6.6 0M519.5 294.5a3.3 3.3 0 1 0 6.6 0a3.3 3.3 0 1 0 -6.6 0M520.1 291.6a3.3 3.3 0 1 0 6.6 0a3.3 3.3 0 1 0 -6.6 0M520.0 293.4a3.3 3.3 0 1 0 6.6 0a3.3 3.3 0 1 0 -6.6 0M519.9 293.1a3.3 3.3 0 1 0 6.6 0a3.3 3.3 0 1 0 -6.6 0M519.8 293.8a3.3 3.3 0 1 0 6.6 0a3.3 3.3 0 1 0 -6.6 0M521.2 295.3a3.3 3.3 0 1 0 6.6 0a3.3 3.3 0 1 0 -6.6 0M521.6 289.7a3.3 3.3 0 1 0 6.6 0a3.3 3.3 0 1 0 -6.6 0M522.2 296.6a3.3 3.3 0 1 0 6.6 0a3.3 3.3 0 1 0 -6.6 0M521.2 292.8a3.3 3.3 0 1 0 6.6 0a3.3 3.3 0 1 0 -6.6 0M522.4 292.9a3.3 3.3 0 1 0 6.6 0a3.3 3.3 0 1 0 -6.6 0M522.7 290.8a3.3 3.3 0 1 0 6.6 0a3.3 3.3 0 1 0 -6.6 0M522.4 290.2a3.3 3.3 0 1 0 6.6 0a3.3 3.3 0 1 0 -6.6 0M523.9 289.7a3.3 3.3 0 1 0 6.6 0a3.3 3.3 0 1 0 -6.6 0M523.4 293.0a3.3 3.3 0 1 0 6.6 0a3.3 3.3 0 1 0 -6.6 0M427.5 252.3a3.3 3.3 0 1 0 6.6 0a3.3 3.3 0 1 0 -6.6 0M425.2 255.5a3.3 3.3 0 1 0 6.6 0a3.3 3.3 0 1 0 -6.6 0M429.9 256.0a3.3 3.3 0 1 0 6.6 0a3.3 3.3 0 1 0 -6.6 0M422.7 259.0a3.3 3.3 0 1 0 6.6 0a3.3 3.3 0 1 0 -6.6 0M432.2 259.5a3.3 3.3 0 1 0 6.6 0a3.3 3.3 0 1 0 -6.6 0M427.7 260.0a3.3 3.3 0 1 0 6.6 0a3.3 3.3 0 1 0 -6.6 0M420.7 262.0a3.3 3.3 0 1 0 6.6 0a3.3 3.3 0 1 0 -6.6 0M434.7 262.0a3.3 3.3 0 1 0 6.6 0a3.3 3.3 0 1 0 -6.6 0M341.7 249.0a3.3 3.3 0 1 0 6.6 0a3.3 3.3 0 1 0 -6.6 0M334.7 249.5a3.3 3.3 0 1 0 6.6 0a3.3 3.3 0 1 0 -6.6 0M346.7 251.0a3.3 3.3 0 1 0 6.6 0a3.3 3.3 0 1 0 -6.6 0M328.7 250.0a3.3 3.3 0 1 0 6.6 0a3.3 3.3 0 1 0 -6.6 0M466.7 271.0a3.3 3.3 0 1 0 6.6 0a3.3 3.3 0 1 0 -6.6 0M463.7 272.0a3.3 3.3 0 1 0 6.6 0a3.3 3.3 0 1 0 -6.6 0" fill="none" stroke="#000" stroke-width="1.05"/>
<path d="M315.3 371.7h5.2v5.2h-5.2zM315.3 371.7h5.2v5.2h-5.2zM315.8 372.8h5.2v5.2h-5.2zM316.9 367.5h5.2v5.2h-5.2zM317.5 371.8h5.2v5.2h-5.2zM318.6 367.6h5.2v5.2h-5.2zM317.5 365.1h5.2v5.2h-5.2zM319.3 370.6h5.2v5.2h-5.2zM319.6 365.2h5.2v5.2h-5.2zM319.8 364.0h5.2v5.2h-5.2zM319.6 366.5h5.2v5.2h-5.2zM321.5 369.7h5.2v5.2h-5.2zM321.8 364.1h5.2v5.2h-5.2zM321.6 364.4h5.2v5.2h-5.2zM321.8 364.8h5.2v5.2h-5.2zM323.4 366.8h5.2v5.2h-5.2zM323.2 369.8h5.2v5.2h-5.2zM324.3 372.6h5.2v5.2h-5.2zM324.3 368.4h5.2v5.2h-5.2zM325.3 367.4h5.2v5.2h-5.2zM324.8 370.6h5.2v5.2h-5.2zM325.2 367.2h5.2v5.2h-5.2zM326.0 368.2h5.2v5.2h-5.2zM326.4 367.7h5.2v5.2h-5.2zM327.0 364.2h5.2v5.2h-5.2zM328.1 364.3h5.2v5.2h-5.2zM328.1 368.8h5.2v5.2h-5.2zM328.4 365.8h5.2v5.2h-5.2zM328.4 367.2h5.2v5.2h-5.2zM329.2 368.2h5.2v5.2h-5.2zM329.5 370.7h5.2v5.2h-5.2zM330.4 363.8h5.2v5.2h-5.2zM330.8 372.8h5.2v5.2h-5.2zM330.7 369.3h5.2v5.2h-5.2zM332.7 367.1h5.2v5.2h-5.2zM332.6 367.2h5.2v5.2h-5.2zM332.6 369.4h5.2v5.2h-5.2zM333.5 366.7h5.2v5.2h-5.2zM333.9 368.6h5.2v5.2h-5.2zM334.8 364.2h5.2v5.2h-5.2zM334.2 366.1h5.2v5.2h-5.2zM335.0 371.2h5.2v5.2h-5.2zM335.7 371.8h5.2v5.2h-5.2zM336.1 366.4h5.2v5.2h-5.2zM337.1 364.5h5.2v5.2h-5.2zM338.0 371.5h5.2v5.2h-5.2zM337.5 366.7h5.2v5.2h-5.2zM338.8 371.1h5.2v5.2h-5.2zM339.0 364.2h5.2v5.2h-5.2zM339.6 364.2h5.2v5.2h-5.2zM339.9 368.9h5.2v5.2h-5.2zM340.9 369.7h5.2v5.2h-5.2zM339.9 372.5h5.2v5.2h-5.2zM341.6 369.2h5.2v5.2h-5.2zM340.9 370.6h5.2v5.2h-5.2zM342.0 370.1h5.2v5.2h-5.2zM343.4 372.3h5.2v5.2h-5.2zM342.4 371.0h5.2v5.2h-5.2zM343.5 370.8h5.2v5.2h-5.2zM343.9 367.9h5.2v5.2h-5.2zM344.5 364.8h5.2v5.2h-5.2zM344.8 370.6h5.2v5.2h-5.2zM344.8 364.8h5.2v5.2h-5.2zM346.6 370.0h5.2v5.2h-5.2zM346.6 364.8h5.2v5.2h-5.2zM346.4 366.6h5.2v5.2h-5.2zM348.2 369.0h5.2v5.2h-5.2zM348.6 365.7h5.2v5.2h-5.2zM348.3 368.7h5.2v5.2h-5.2zM349.5 364.9h5.2v5.2h-5.2zM350.0 368.1h5.2v5.2h-5.2zM349.2 367.8h5.2v5.2h-5.2zM350.2 370.0h5.2v5.2h-5.2zM351.6 368.3h5.2v5.2h-5.2zM351.7 367.3h5.2v5.2h-5.2zM352.3 364.7h5.2v5.2h-5.2zM352.7 365.3h5.2v5.2h-5.2zM353.0 365.6h5.2v5.2h-5.2zM353.1 365.2h5.2v5.2h-5.2zM353.6 369.3h5.2v5.2h-5.2zM354.3 367.4h5.2v5.2h-5.2zM354.9 371.6h5.2v5.2h-5.2zM355.0 369.2h5.2v5.2h-5.2zM355.7 372.9h5.2v5.2h-5.2zM356.0 370.3h5.2v5.2h-5.2zM356.3 366.2h5.2v5.2h-5.2zM357.6 369.1h5.2v5.2h-5.2zM357.3 364.3h5.2v5.2h-5.2zM358.7 367.2h5.2v5.2h-5.2zM359.0 367.8h5.2v5.2h-5.2zM359.3 369.0h5.2v5.2h-5.2zM360.4 372.3h5.2v5.2h-5.2zM360.0 368.3h5.2v5.2h-5.2zM360.2 370.8h5.2v5.2h-5.2zM360.5 366.6h5.2v5.2h-5.2zM362.1 364.0h5.2v5.2h-5.2zM362.4 369.0h5.2v5.2h-5.2zM362.6 366.8h5.2v5.2h-5.2zM362.5 372.6h5.2v5.2h-5.2zM363.9 371.3h5.2v5.2h-5.2zM363.4 371.1h5.2v5.2h-5.2zM364.0 365.6h5.2v5.2h-5.2zM365.0 369.4h5.2v5.2h-5.2zM364.9 370.9h5.2v5.2h-5.2zM366.1 372.2h5.2v5.2h-5.2zM367.1 370.2h5.2v5.2h-5.2zM366.7 372.6h5.2v5.2h-5.2zM367.8 366.4h5.2v5.2h-5.2zM368.5 370.5h5.2v5.2h-5.2zM368.0 366.0h5.2v5.2h-5.2zM368.1 368.7h5.2v5.2h-5.2zM369.0 366.5h5.2v5.2h-5.2zM369.4 364.9h5.2v5.2h-5.2zM370.3 366.3h5.2v5.2h-5.2zM370.5 366.3h5.2v5.2h-5.2zM371.3 371.9h5.2v5.2h-5.2zM371.2 371.8h5.2v5.2h-5.2zM372.8 369.4h5.2v5.2h-5.2zM372.8 370.6h5.2v5.2h-5.2zM373.3 369.9h5.2v5.2h-5.2zM374.4 371.0h5.2v5.2h-5.2zM373.8 364.2h5.2v5.2h-5.2zM375.4 367.1h5.2v5.2h-5.2zM375.6 365.9h5.2v5.2h-5.2zM375.6 367.2h5.2v5.2h-5.2zM376.5 372.6h5.2v5.2h-5.2zM376.7 369.0h5.2v5.2h-5.2zM376.9 365.9h5.2v5.2h-5.2zM378.3 364.7h5.2v5.2h-5.2zM378.8 369.9h5.2v5.2h-5.2zM377.9 372.2h5.2v5.2h-5.2zM378.4 369.0h5.2v5.2h-5.2zM378.9 373.0h5.2v5.2h-5.2zM379.7 371.9h5.2v5.2h-5.2zM379.8 370.0h5.2v5.2h-5.2zM380.3 364.0h5.2v5.2h-5.2zM381.6 372.9h5.2v5.2h-5.2zM382.3 371.7h5.2v5.2h-5.2zM382.9 368.6h5.2v5.2h-5.2zM382.3 368.7h5.2v5.2h-5.2zM382.9 368.7h5.2v5.2h-5.2zM383.7 368.4h5.2v5.2h-5.2zM383.9 370.3h5.2v5.2h-5.2zM384.8 368.3h5.2v5.2h-5.2zM384.7 368.3h5.2v5.2h-5.2zM386.0 372.8h5.2v5.2h-5.2zM386.5 365.0h5.2v5.2h-5.2zM386.5 366.9h5.2v5.2h-5.2zM387.7 372.4h5.2v5.2h-5.2zM388.6 372.3h5.2v5.2h-5.2zM389.0 371.3h5.2v5.2h-5.2zM389.5 362.9h5.2v5.2h-5.2zM389.3 368.5h5.2v5.2h-5.2zM390.1 368.5h5.2v5.2h-5.2zM390.4 371.5h5.2v5.2h-5.2zM390.1 367.5h5.2v5.2h-5.2zM392.0 361.7h5.2v5.2h-5.2zM391.1 370.7h5.2v5.2h-5.2zM392.9 361.2h5.2v5.2h-5.2zM391.9 370.0h5.2v5.2h-5.2zM393.5 366.2h5.2v5.2h-5.2zM393.8 368.6h5.2v5.2h-5.2zM394.6 360.1h5.2v5.2h-5.2zM393.9 368.9h5.2v5.2h-5.2zM395.9 368.7h5.2v5.2h-5.2zM395.4 363.4h5.2v5.2h-5.2zM395.8 359.6h5.2v5.2h-5.2zM397.0 361.9h5.2v5.2h-5.2zM397.2 364.8h5.2v5.2h-5.2zM397.3 366.4h5.2v5.2h-5.2zM398.0 361.4h5.2v5.2h-5.2zM399.1 360.7h5.2v5.2h-5.2zM398.4 361.6h5.2v5.2h-5.2zM399.5 367.6h5.2v5.2h-5.2zM399.7 361.4h5.2v5.2h-5.2zM400.7 361.7h5.2v5.2h-5.2zM401.0 361.6h5.2v5.2h-5.2zM402.0 360.8h5.2v5.2h-5.2zM401.5 362.1h5.2v5.2h-5.2zM402.1 367.0h5.2v5.2h-5.2zM403.2 367.7h5.2v5.2h-5.2zM403.4 359.6h5.2v5.2h-5.2zM404.3 361.5h5.2v5.2h-5.2zM403.9 363.4h5.2v5.2h-5.2zM405.6 362.9h5.2v5.2h-5.2zM405.1 369.1h5.2v5.2h-5.2zM406.6 363.1h5.2v5.2h-5.2zM405.7 367.7h5.2v5.2h-5.2zM407.2 362.6h5.2v5.2h-5.2zM407.7 363.0h5.2v5.2h-5.2zM407.4 365.5h5.2v5.2h-5.2zM408.6 364.1h5.2v5.2h-5.2zM409.2 358.9h5.2v5.2h-5.2zM409.2 363.0h5.2v5.2h-5.2zM409.0 369.1h5.2v5.2h-5.2zM409.6 361.0h5.2v5.2h-5.2zM411.3 369.6h5.2v5.2h-5.2zM411.8 362.6h5.2v5.2h-5.2zM412.3 360.3h5.2v5.2h-5.2zM412.5 369.5h5.2v5.2h-5.2zM412.1 360.2h5.2v5.2h-5.2zM413.4 368.8h5.2v5.2h-5.2zM413.9 369.5h5.2v5.2h-5.2zM414.0 362.9h5.2v5.2h-5.2zM413.9 361.8h5.2v5.2h-5.2zM415.7 359.5h5.2v5.2h-5.2zM415.0 362.7h5.2v5.2h-5.2zM415.3 362.2h5.2v5.2h-5.2zM416.0 360.1h5.2v5.2h-5.2zM417.0 364.9h5.2v5.2h-5.2zM417.6 367.4h5.2v5.2h-5.2zM418.0 369.5h5.2v5.2h-5.2zM417.8 361.2h5.2v5.2h-5.2zM418.3 362.2h5.2v5.2h-5.2zM419.8 369.2h5.2v5.2h-5.2zM419.9 360.5h5.2v5.2h-5.2zM420.1 365.2h5.2v5.2h-5.2zM420.5 367.7h5.2v5.2h-5.2zM422.1 363.9h5.2v5.2h-5.2zM422.0 368.3h5.2v5.2h-5.2zM422.3 360.9h5.2v5.2h-5.2zM423.5 369.8h5.2v5.2h-5.2zM422.5 367.4h5.2v5.2h-5.2zM423.6 359.3h5.2v5.2h-5.2zM423.7 360.7h5.2v5.2h-5.2zM425.1 361.1h5.2v5.2h-5.2zM424.5 361.2h5.2v5.2h-5.2zM426.2 364.4h5.2v5.2h-5.2zM426.5 364.0h5.2v5.2h-5.2zM426.2 358.9h5.2v5.2h-5.2zM426.9 359.2h5.2v5.2h-5.2zM427.3 365.8h5.2v5.2h-5.2zM428.0 364.1h5.2v5.2h-5.2zM428.8 362.3h5.2v5.2h-5.2zM428.9 368.8h5.2v5.2h-5.2zM429.8 363.5h5.2v5.2h-5.2zM430.2 363.9h5.2v5.2h-5.2zM430.3 369.1h5.2v5.2h-5.2zM430.7 369.4h5.2v5.2h-5.2zM432.1 368.8h5.2v5.2h-5.2zM431.5 364.5h5.2v5.2h-5.2zM433.3 362.0h5.2v5.2h-5.2zM432.5 366.9h5.2v5.2h-5.2zM433.1 365.4h5.2v5.2h-5.2zM433.4 369.5h5.2v5.2h-5.2zM434.1 359.8h5.2v5.2h-5.2zM435.3 362.7h5.2v5.2h-5.2zM435.5 364.4h5.2v5.2h-5.2zM436.6 364.6h5.2v5.2h-5.2zM436.2 358.7h5.2v5.2h-5.2zM436.9 361.8h5.2v5.2h-5.2zM437.5 365.9h5.2v5.2h-5.2zM437.8 359.7h5.2v5.2h-5.2zM438.4 364.2h5.2v5.2h-5.2zM439.1 369.8h5.2v5.2h-5.2zM439.0 363.7h5.2v5.2h-5.2zM439.2 367.8h5.2v5.2h-5.2zM439.9 368.2h5.2v5.2h-5.2zM441.3 361.6h5.2v5.2h-5.2zM441.9 364.4h5.2v5.2h-5.2zM441.7 365.0h5.2v5.2h-5.2zM443.0 364.3h5.2v5.2h-5.2zM442.7 362.0h5.2v5.2h-5.2zM443.8 364.4h5.2v5.2h-5.2zM443.5 360.9h5.2v5.2h-5.2zM443.7 368.2h5.2v5.2h-5.2zM445.2 369.9h5.2v5.2h-5.2zM445.8 366.5h5.2v5.2h-5.2zM446.1 366.8h5.2v5.2h-5.2zM446.6 367.8h5.2v5.2h-5.2zM446.1 368.0h5.2v5.2h-5.2zM446.8 361.5h5.2v5.2h-5.2zM448.3 359.0h5.2v5.2h-5.2zM448.1 362.6h5.2v5.2h-5.2zM449.0 365.7h5.2v5.2h-5.2zM449.7 369.3h5.2v5.2h-5.2zM449.8 359.4h5.2v5.2h-5.2zM450.3 359.9h5.2v5.2h-5.2zM451.3 368.6h5.2v5.2h-5.2zM450.7 360.8h5.2v5.2h-5.2zM451.8 367.3h5.2v5.2h-5.2zM452.8 365.8h5.2v5.2h-5.2zM451.9 367.0h5.2v5.2h-5.2zM452.2 368.6h5.2v5.2h-5.2zM453.9 367.7h5.2v5.2h-5.2zM454.5 365.2h5.2v5.2h-5.2zM455.1 366.0h5.2v5.2h-5.2zM454.9 363.1h5.2v5.2h-5.2zM455.1 359.0h5.2v5.2h-5.2zM455.3 367.8h5.2v5.2h-5.2zM455.9 366.2h5.2v5.2h-5.2zM457.3 366.6h5.2v5.2h-5.2zM457.4 362.3h5.2v5.2h-5.2zM457.4 360.8h5.2v5.2h-5.2zM458.5 366.5h5.2v5.2h-5.2zM459.5 362.5h5.2v5.2h-5.2zM460.0 369.1h5.2v5.2h-5.2zM459.4 369.6h5.2v5.2h-5.2zM460.4 369.7h5.2v5.2h-5.2zM461.2 362.5h5.2v5.2h-5.2zM460.9 364.7h5.2v5.2h-5.2zM461.7 359.1h5.2v5.2h-5.2zM462.8 364.8h5.2v5.2h-5.2zM462.6 367.2h5.2v5.2h-5.2zM462.8 361.0h5.2v5.2h-5.2zM463.8 361.5h5.2v5.2h-5.2zM463.9 359.5h5.2v5.2h-5.2zM463.9 362.8h5.2v5.2h-5.2zM465.1 369.5h5.2v5.2h-5.2zM465.8 363.4h5.2v5.2h-5.2zM465.9 361.4h5.2v5.2h-5.2zM466.5 369.6h5.2v5.2h-5.2zM466.4 363.6h5.2v5.2h-5.2zM467.8 367.4h5.2v5.2h-5.2zM468.1 366.0h5.2v5.2h-5.2zM469.2 369.0h5.2v5.2h-5.2zM468.6 364.9h5.2v5.2h-5.2zM470.3 364.7h5.2v5.2h-5.2zM469.5 367.4h5.2v5.2h-5.2zM469.7 360.4h5.2v5.2h-5.2zM471.0 361.8h5.2v5.2h-5.2zM471.8 367.0h5.2v5.2h-5.2zM471.6 367.4h5.2v5.2h-5.2zM472.6 366.7h5.2v5.2h-5.2zM472.8 363.6h5.2v5.2h-5.2zM472.7 364.1h5.2v5.2h-5.2zM474.6 368.8h5.2v5.2h-5.2zM473.6 359.5h5.2v5.2h-5.2zM474.5 366.6h5.2v5.2h-5.2zM475.2 360.2h5.2v5.2h-5.2zM475.7 365.2h5.2v5.2h-5.2zM476.7 363.3h5.2v5.2h-5.2zM477.0 366.5h5.2v5.2h-5.2zM477.4 359.2h5.2v5.2h-5.2zM478.1 360.2h5.2v5.2h-5.2zM477.5 364.1h5.2v5.2h-5.2zM477.9 359.6h5.2v5.2h-5.2zM479.0 364.3h5.2v5.2h-5.2zM479.1 369.9h5.2v5.2h-5.2zM480.7 364.7h5.2v5.2h-5.2zM480.8 362.7h5.2v5.2h-5.2zM481.9 360.6h5.2v5.2h-5.2zM481.3 361.7h5.2v5.2h-5.2zM482.7 365.3h5.2v5.2h-5.2zM482.5 364.0h5.2v5.2h-5.2zM483.7 362.4h5.2v5.2h-5.2zM484.0 367.9h5.2v5.2h-5.2zM484.0 363.8h5.2v5.2h-5.2zM484.4 364.9h5.2v5.2h-5.2zM484.7 367.0h5.2v5.2h-5.2zM485.4 363.2h5.2v5.2h-5.2zM486.4 365.2h5.2v5.2h-5.2zM486.4 370.4h5.2v5.2h-5.2zM486.9 364.3h5.2v5.2h-5.2zM488.1 371.8h5.2v5.2h-5.2zM488.4 364.7h5.2v5.2h-5.2zM488.7 368.9h5.2v5.2h-5.2zM488.6 368.7h5.2v5.2h-5.2zM490.1 367.9h5.2v5.2h-5.2zM490.2 365.1h5.2v5.2h-5.2zM490.6 362.6h5.2v5.2h-5.2zM491.3 366.4h5.2v5.2h-5.2zM492.1 364.0h5.2v5.2h-5.2zM492.2 360.0h5.2v5.2h-5.2zM492.2 369.2h5.2v5.2h-5.2zM492.4 367.4h5.2v5.2h-5.2zM492.8 364.7h5.2v5.2h-5.2zM494.6 362.3h5.2v5.2h-5.2zM494.9 360.6h5.2v5.2h-5.2zM494.9 369.9h5.2v5.2h-5.2zM495.8 364.7h5.2v5.2h-5.2zM495.9 368.6h5.2v5.2h-5.2zM496.6 369.0h5.2v5.2h-5.2zM496.8 363.0h5.2v5.2h-5.2zM497.5 366.8h5.2v5.2h-5.2zM497.7 371.9h5.2v5.2h-5.2zM497.6 369.4h5.2v5.2h-5.2zM498.4 368.8h5.2v5.2h-5.2zM499.8 363.3h5.2v5.2h-5.2zM499.7 366.4h5.2v5.2h-5.2zM500.1 362.0h5.2v5.2h-5.2zM500.8 370.8h5.2v5.2h-5.2zM501.3 363.5h5.2v5.2h-5.2zM502.0 365.1h5.2v5.2h-5.2zM501.5 367.4h5.2v5.2h-5.2zM502.5 366.5h5.2v5.2h-5.2zM503.8 366.9h5.2v5.2h-5.2zM504.2 364.4h5.2v5.2h-5.2zM504.4 361.0h5.2v5.2h-5.2zM504.2 368.4h5.2v5.2h-5.2zM505.3 370.1h5.2v5.2h-5.2zM505.3 363.4h5.2v5.2h-5.2zM505.7 366.6h5.2v5.2h-5.2zM505.7 364.6h5.2v5.2h-5.2zM507.2 362.0h5.2v5.2h-5.2zM507.1 370.6h5.2v5.2h-5.2zM508.6 363.2h5.2v5.2h-5.2zM507.8 361.6h5.2v5.2h-5.2zM508.2 369.7h5.2v5.2h-5.2zM509.7 363.4h5.2v5.2h-5.2zM509.8 368.5h5.2v5.2h-5.2zM509.5 370.0h5.2v5.2h-5.2zM511.4 362.8h5.2v5.2h-5.2zM511.6 368.6h5.2v5.2h-5.2zM511.5 370.7h5.2v5.2h-5.2zM511.8 365.9h5.2v5.2h-5.2zM512.4 365.5h5.2v5.2h-5.2zM513.7 367.1h5.2v5.2h-5.2zM513.9 371.9h5.2v5.2h-5.2zM513.8 363.0h5.2v5.2h-5.2zM514.9 362.2h5.2v5.2h-5.2zM515.9 364.4h5.2v5.2h-5.2zM515.6 365.5h5.2v5.2h-5.2zM516.7 371.1h5.2v5.2h-5.2zM516.9 362.5h5.2v5.2h-5.2zM516.9 368.7h5.2v5.2h-5.2zM517.1 370.7h5.2v5.2h-5.2zM518.7 363.1h5.2v5.2h-5.2zM518.4 363.1h5.2v5.2h-5.2zM519.4 361.1h5.2v5.2h-5.2zM519.9 361.3h5.2v5.2h-5.2zM520.6 366.8h5.2v5.2h-5.2zM520.6 361.7h5.2v5.2h-5.2zM520.3 364.6h5.2v5.2h-5.2zM522.3 367.5h5.2v5.2h-5.2zM522.5 361.3h5.2v5.2h-5.2zM521.8 360.8h5.2v5.2h-5.2zM523.3 362.6h5.2v5.2h-5.2zM523.1 368.3h5.2v5.2h-5.2zM524.2 364.3h5.2v5.2h-5.2z" fill="none" stroke="#f00" stroke-width="1.25"/>
<rect x="314.50" y="220.60" width="215.90" height="181.20" fill="none" stroke="#000" stroke-width="1.7"/>
<circle cx="387.60" cy="326.40" r="3.6" fill="none" stroke="#000" stroke-width="1.5"/>
<text class="sb" transform="translate(403.00,330.00) scale(0.957,1)" font-size="10.6" fill="#111" stroke="#111" stroke-width="0.15" >HRS</text>
<rect x="384.40" y="336.40" width="6.8" height="6.8" fill="none" stroke="#f00" stroke-width="1.5"/>
<text class="sb" transform="translate(403.00,343.80) scale(0.943,1)" font-size="10.6" fill="#111" stroke="#111" stroke-width="0.15" >LRS</text>
<text class="sb" transform="translate(295.85,405.50) scale(0.950,1)" font-size="10" fill="#000" stroke="#000" stroke-width="0.15" >10</text>
<text class="sb" transform="translate(307.80,400.35) scale(1.000,1)" font-size="5.0" fill="#000" stroke="#000" stroke-width="0.15" >1</text>
<text class="sb" transform="translate(295.85,360.20) scale(0.950,1)" font-size="10" fill="#000" stroke="#000" stroke-width="0.15" >10</text>
<text class="sb" transform="translate(307.80,355.10) scale(1.000,1)" font-size="5.0" fill="#000" stroke="#000" stroke-width="0.15" >2</text>
<text class="sb" transform="translate(295.85,314.90) scale(0.950,1)" font-size="10" fill="#000" stroke="#000" stroke-width="0.15" >10</text>
<text class="sb" transform="translate(307.80,309.80) scale(1.000,1)" font-size="5.0" fill="#000" stroke="#000" stroke-width="0.15" >3</text>
<text class="sb" transform="translate(295.85,269.60) scale(0.950,1)" font-size="10" fill="#000" stroke="#000" stroke-width="0.15" >10</text>
<text class="sb" transform="translate(307.80,264.45) scale(1.000,1)" font-size="5.0" fill="#000" stroke="#000" stroke-width="0.15" >4</text>
<text class="sb" transform="translate(295.85,224.30) scale(0.950,1)" font-size="10" fill="#000" stroke="#000" stroke-width="0.15" >10</text>
<text class="sb" transform="translate(307.80,219.15) scale(1.000,1)" font-size="5.0" fill="#000" stroke="#000" stroke-width="0.15" >5</text>
<text class="sb" transform="translate(345.91,414.50) scale(0.970,1)" font-size="10.5" fill="#000" stroke="#000" stroke-width="0.15" >2000</text>
<text class="sb" transform="translate(389.15,414.50) scale(0.970,1)" font-size="10.5" fill="#000" stroke="#000" stroke-width="0.15" >4000</text>
<text class="sb" transform="translate(432.39,414.50) scale(0.970,1)" font-size="10.5" fill="#000" stroke="#000" stroke-width="0.15" >6000</text>
<text class="sb" transform="translate(475.63,414.50) scale(0.970,1)" font-size="10.5" fill="#000" stroke="#000" stroke-width="0.15" >8000</text>
<text class="sb" transform="translate(516.04,414.50) scale(0.970,1)" font-size="10.5" fill="#000" stroke="#000" stroke-width="0.15" >10000</text>
<text class="rb" transform="translate(396.20,431.10) scale(0.996,1)" font-size="13.8" fill="#000" stroke="#000" stroke-width="0.15" >Cycle (#)</text>
<text class="rb" transform="translate(288.30,362.90) rotate(-90) scale(0.991,1)" font-size="14" fill="#000" stroke="#000" stroke-width="0.15" >Resistance (Ω)</text>
<text class="rb" transform="translate(272.20,239.20) scale(0.967,1)" font-size="20" fill="#000" stroke="#000" stroke-width="0.15" >(d)</text>
</svg></body></html>
